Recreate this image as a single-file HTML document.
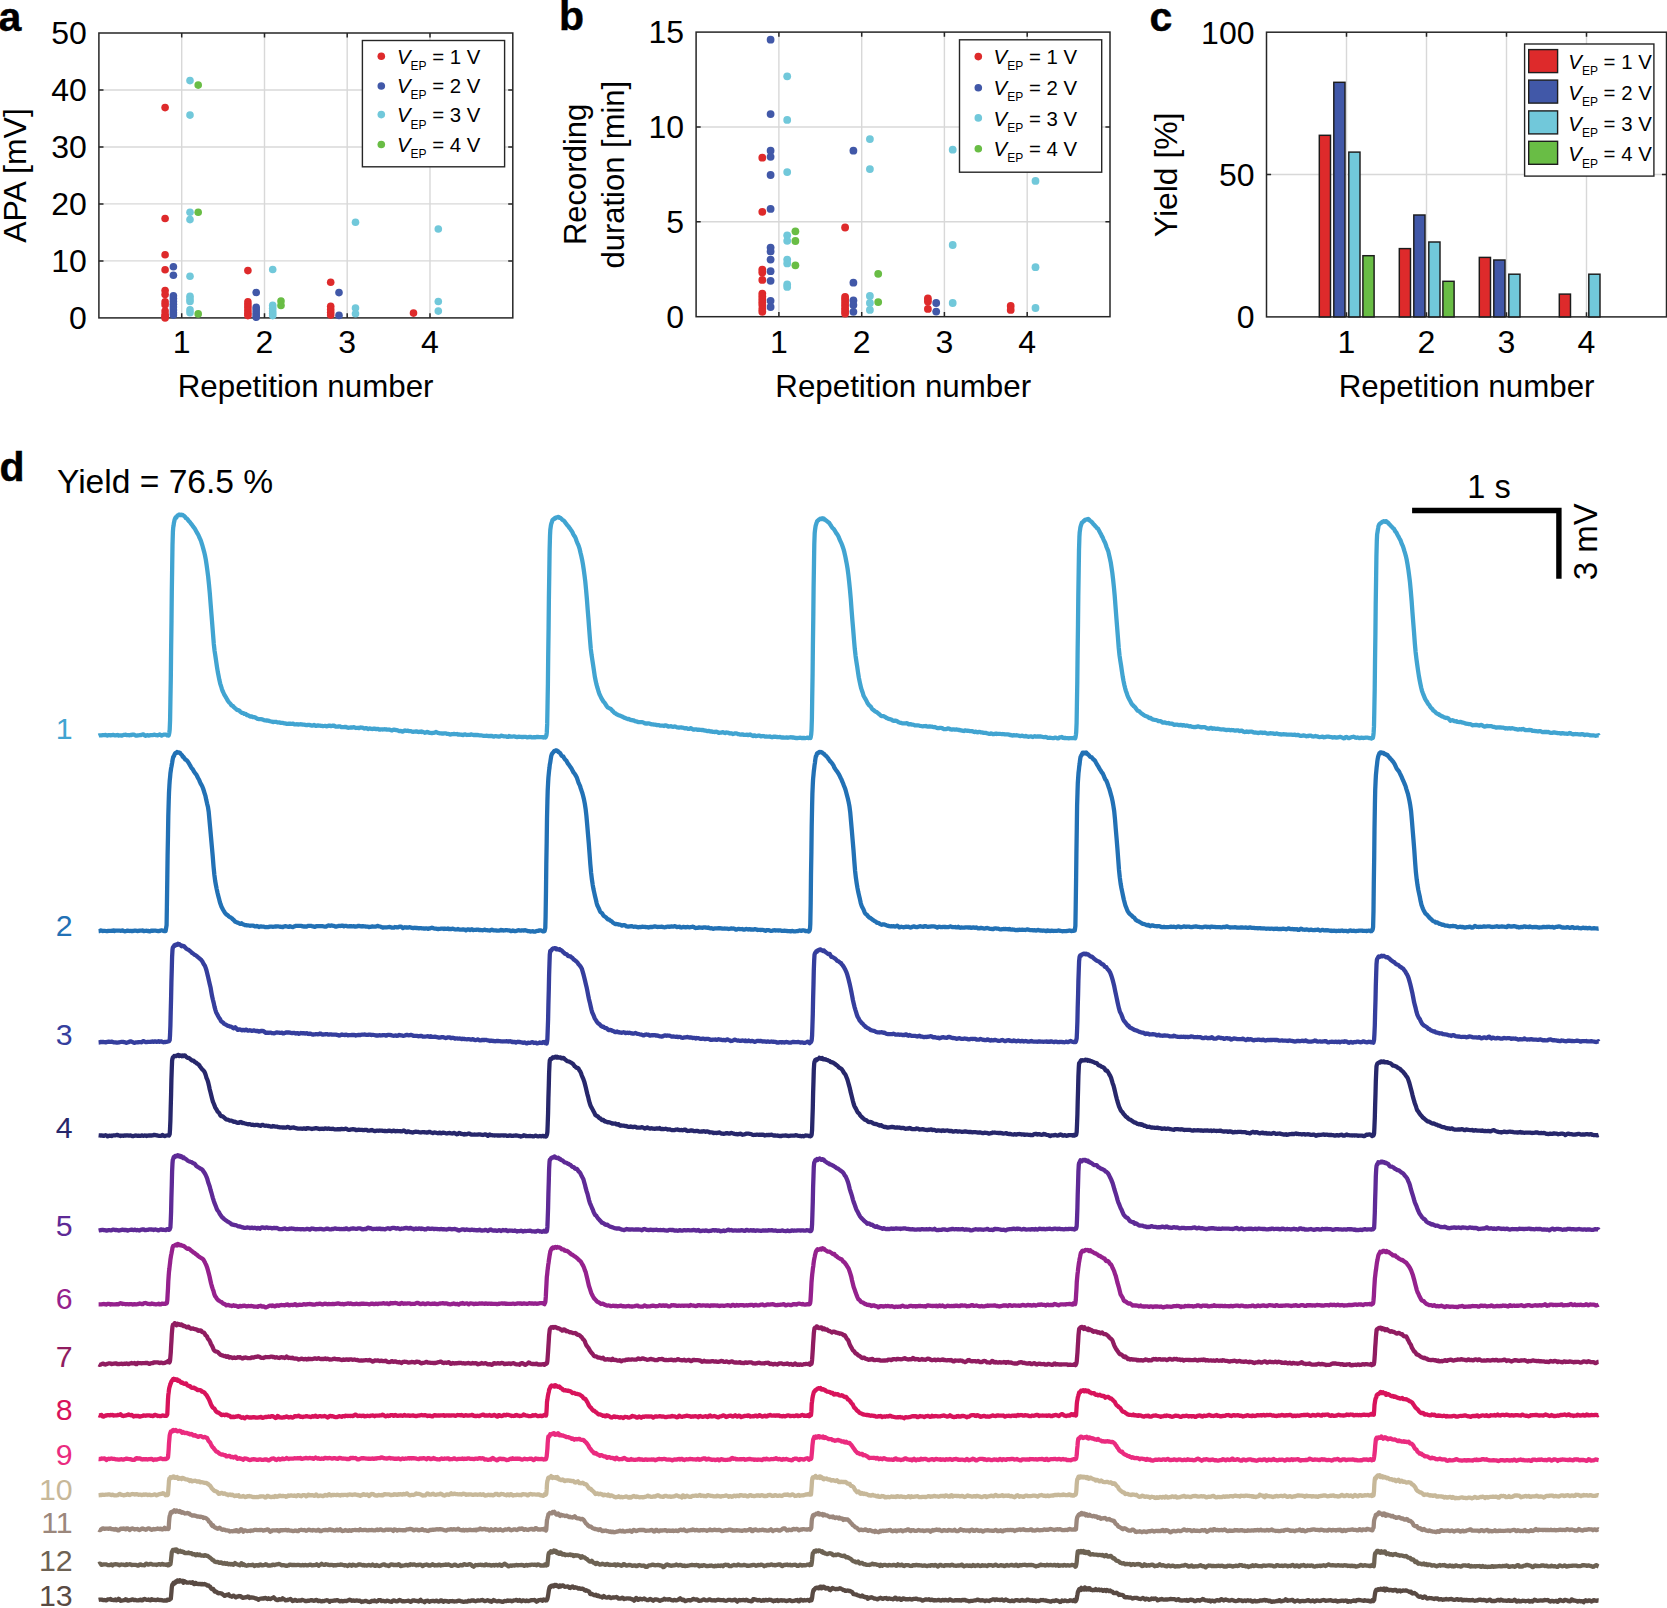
<!DOCTYPE html>
<html lang="en">
<head>
<meta charset="utf-8">
<title>Figure: electroporation repetition statistics and intracellular traces</title>
<style>
html,body{margin:0;padding:0;background:#fff;}
body{width:1667px;height:1608px;overflow:hidden;}
svg{display:block;}
text{white-space:pre;}
</style>
</head>
<body>
<svg width="1667" height="1608" viewBox="0 0 1667 1608">
<rect x="0" y="0" width="1667" height="1608" fill="#fff"/>
<g>
<line x1="181.7" y1="33" x2="181.7" y2="317.9" stroke="#d8d8d8" stroke-width="1.4"/>
<line x1="264.5" y1="33" x2="264.5" y2="317.9" stroke="#d8d8d8" stroke-width="1.4"/>
<line x1="347.2" y1="33" x2="347.2" y2="317.9" stroke="#d8d8d8" stroke-width="1.4"/>
<line x1="430" y1="33" x2="430" y2="317.9" stroke="#d8d8d8" stroke-width="1.4"/>
<line x1="98.9" y1="260.9" x2="512.8" y2="260.9" stroke="#d8d8d8" stroke-width="1.4"/>
<line x1="98.9" y1="203.9" x2="512.8" y2="203.9" stroke="#d8d8d8" stroke-width="1.4"/>
<line x1="98.9" y1="147" x2="512.8" y2="147" stroke="#d8d8d8" stroke-width="1.4"/>
<line x1="98.9" y1="90" x2="512.8" y2="90" stroke="#d8d8d8" stroke-width="1.4"/>
</g>
<g stroke="#262626" stroke-width="1.5" fill="none">
<rect x="98.9" y="33" width="413.9" height="284.9"/>
<path d="M181.7 317.9v-4.6 M181.7 33v4.6"/>
<path d="M264.5 317.9v-4.6 M264.5 33v4.6"/>
<path d="M347.2 317.9v-4.6 M347.2 33v4.6"/>
<path d="M430 317.9v-4.6 M430 33v4.6"/>
<path d="M98.9 260.9h4.6 M512.8 260.9h-4.6"/>
<path d="M98.9 203.9h4.6 M512.8 203.9h-4.6"/>
<path d="M98.9 147h4.6 M512.8 147h-4.6"/>
<path d="M98.9 90h4.6 M512.8 90h-4.6"/>
</g>
<g fill="#de2a2b">
<circle cx="165.1" cy="107.6" r="3.8"/>
<circle cx="165.1" cy="218.5" r="3.8"/>
<circle cx="165.1" cy="254.7" r="3.8"/>
<circle cx="165.1" cy="269.7" r="3.8"/>
<circle cx="165.1" cy="290.5" r="3.8"/>
<circle cx="165.1" cy="294.5" r="3.8"/>
<circle cx="165.1" cy="301.9" r="3.8"/>
<circle cx="165.1" cy="304.8" r="3.8"/>
<circle cx="165.1" cy="311.1" r="3.8"/>
<circle cx="165.1" cy="314.5" r="3.8"/>
<circle cx="165.1" cy="316.2" r="3.8"/>
<circle cx="165.1" cy="317.9" r="3.8"/>
<circle cx="247.9" cy="270.6" r="3.8"/>
<circle cx="247.9" cy="301.9" r="3.8"/>
<circle cx="247.9" cy="304.8" r="3.8"/>
<circle cx="247.9" cy="307.6" r="3.8"/>
<circle cx="247.9" cy="310.5" r="3.8"/>
<circle cx="247.9" cy="313.3" r="3.8"/>
<circle cx="247.9" cy="315.6" r="3.8"/>
<circle cx="330.7" cy="282.3" r="3.8"/>
<circle cx="330.7" cy="306.2" r="3.8"/>
<circle cx="330.7" cy="309.4" r="3.8"/>
<circle cx="330.7" cy="312.2" r="3.8"/>
<circle cx="330.7" cy="315.1" r="3.8"/>
<circle cx="413.5" cy="313.1" r="3.8"/>
</g>
<g fill="#4158a8">
<circle cx="173.4" cy="266.8" r="3.8"/>
<circle cx="173.4" cy="275.2" r="3.8"/>
<circle cx="173.4" cy="295.7" r="3.8"/>
<circle cx="173.4" cy="298.5" r="3.8"/>
<circle cx="173.4" cy="301.4" r="3.8"/>
<circle cx="173.4" cy="304.2" r="3.8"/>
<circle cx="173.4" cy="307.1" r="3.8"/>
<circle cx="173.4" cy="309.9" r="3.8"/>
<circle cx="173.4" cy="312.8" r="3.8"/>
<circle cx="173.4" cy="315.1" r="3.8"/>
<circle cx="256.2" cy="292.5" r="3.8"/>
<circle cx="256.2" cy="307.4" r="3.8"/>
<circle cx="256.2" cy="309.9" r="3.8"/>
<circle cx="256.2" cy="312.8" r="3.8"/>
<circle cx="256.2" cy="315.1" r="3.8"/>
<circle cx="256.2" cy="317.3" r="3.8"/>
<circle cx="339" cy="292.6" r="3.8"/>
<circle cx="339" cy="315.4" r="3.8"/>
</g>
<g fill="#71c8da">
<circle cx="190" cy="80.6" r="3.8"/>
<circle cx="190" cy="115.1" r="3.8"/>
<circle cx="190" cy="212.2" r="3.8"/>
<circle cx="190" cy="219.6" r="3.8"/>
<circle cx="190" cy="276.3" r="3.8"/>
<circle cx="190" cy="296.2" r="3.8"/>
<circle cx="190" cy="299.1" r="3.8"/>
<circle cx="190" cy="301.4" r="3.8"/>
<circle cx="190" cy="309.9" r="3.8"/>
<circle cx="190" cy="312.8" r="3.8"/>
<circle cx="272.7" cy="269.5" r="3.8"/>
<circle cx="272.7" cy="305.4" r="3.8"/>
<circle cx="272.7" cy="308.2" r="3.8"/>
<circle cx="272.7" cy="311.1" r="3.8"/>
<circle cx="272.7" cy="313.3" r="3.8"/>
<circle cx="272.7" cy="315.6" r="3.8"/>
<circle cx="355.5" cy="222.2" r="3.8"/>
<circle cx="355.5" cy="308.1" r="3.8"/>
<circle cx="355.5" cy="313.7" r="3.8"/>
<circle cx="438.3" cy="229" r="3.8"/>
<circle cx="438.3" cy="301.5" r="3.8"/>
<circle cx="438.3" cy="311.1" r="3.8"/>
</g>
<g fill="#69bd45">
<circle cx="198.2" cy="85.1" r="3.8"/>
<circle cx="198.2" cy="212.2" r="3.8"/>
<circle cx="198.2" cy="313.9" r="3.8"/>
<circle cx="281" cy="301.1" r="3.8"/>
<circle cx="281" cy="305.4" r="3.8"/>
</g>
<rect x="362.4" y="40.5" width="142.2" height="126.3" fill="#fff" stroke="#262626" stroke-width="1.4"/>
<circle cx="381.3" cy="56.3" r="3.8" fill="#de2a2b"/>
<text x="397" y="63.6" font-family='"Liberation Sans", Arial, Helvetica, sans-serif' font-size="20.4" fill="#000"><tspan font-style="italic">V</tspan><tspan font-size="12" dy="6.2">EP</tspan><tspan dy="-6.2"> = 1 V</tspan></text>
<circle cx="381.3" cy="86" r="3.8" fill="#4158a8"/>
<text x="397" y="93" font-family='"Liberation Sans", Arial, Helvetica, sans-serif' font-size="20.4" fill="#000"><tspan font-style="italic">V</tspan><tspan font-size="12" dy="6.2">EP</tspan><tspan dy="-6.2"> = 2 V</tspan></text>
<circle cx="381.3" cy="114.6" r="3.8" fill="#71c8da"/>
<text x="397" y="122.3" font-family='"Liberation Sans", Arial, Helvetica, sans-serif' font-size="20.4" fill="#000"><tspan font-style="italic">V</tspan><tspan font-size="12" dy="6.2">EP</tspan><tspan dy="-6.2"> = 3 V</tspan></text>
<circle cx="381.3" cy="144.5" r="3.8" fill="#69bd45"/>
<text x="397" y="152" font-family='"Liberation Sans", Arial, Helvetica, sans-serif' font-size="20.4" fill="#000"><tspan font-style="italic">V</tspan><tspan font-size="12" dy="6.2">EP</tspan><tspan dy="-6.2"> = 4 V</tspan></text>
<g font-family='"Liberation Sans", Arial, Helvetica, sans-serif' font-size="32" fill="#000">
<text x="181.7" y="353.1" text-anchor="middle">1</text>
<text x="264.5" y="353.1" text-anchor="middle">2</text>
<text x="347.2" y="353.1" text-anchor="middle">3</text>
<text x="430" y="353.1" text-anchor="middle">4</text>
<text x="86.9" y="329.2" text-anchor="end">0</text>
<text x="86.9" y="272.2" text-anchor="end">10</text>
<text x="86.9" y="215.2" text-anchor="end">20</text>
<text x="86.9" y="158.3" text-anchor="end">30</text>
<text x="86.9" y="101.3" text-anchor="end">40</text>
<text x="86.9" y="44.3" text-anchor="end">50</text>
</g>
<text x="305.6" y="397.3" text-anchor="middle" font-family='"Liberation Sans", Arial, Helvetica, sans-serif' font-size="31.3" fill="#000">Repetition number</text>
<text transform="translate(26.2 175.5) rotate(-90)" text-anchor="middle" font-family='"Liberation Sans", Arial, Helvetica, sans-serif' font-size="32" fill="#000">APA [mV]</text>
<text x="-1.5" y="30.6" font-family='"Liberation Sans", Arial, Helvetica, sans-serif' font-size="41" font-weight="bold" fill="#000" stroke="#000" stroke-width="0.45">a</text>
<g>
<line x1="778.9" y1="32.1" x2="778.9" y2="316.7" stroke="#d8d8d8" stroke-width="1.4"/>
<line x1="861.7" y1="32.1" x2="861.7" y2="316.7" stroke="#d8d8d8" stroke-width="1.4"/>
<line x1="944.4" y1="32.1" x2="944.4" y2="316.7" stroke="#d8d8d8" stroke-width="1.4"/>
<line x1="1027.2" y1="32.1" x2="1027.2" y2="316.7" stroke="#d8d8d8" stroke-width="1.4"/>
<line x1="696.1" y1="221.8" x2="1110" y2="221.8" stroke="#d8d8d8" stroke-width="1.4"/>
<line x1="696.1" y1="127" x2="1110" y2="127" stroke="#d8d8d8" stroke-width="1.4"/>
</g>
<g stroke="#262626" stroke-width="1.5" fill="none">
<rect x="696.1" y="32.1" width="413.9" height="284.6"/>
<path d="M778.9 316.7v-4.6 M778.9 32.1v4.6"/>
<path d="M861.7 316.7v-4.6 M861.7 32.1v4.6"/>
<path d="M944.4 316.7v-4.6 M944.4 32.1v4.6"/>
<path d="M1027.2 316.7v-4.6 M1027.2 32.1v4.6"/>
<path d="M696.1 221.8h4.6 M1110 221.8h-4.6"/>
<path d="M696.1 127h4.6 M1110 127h-4.6"/>
</g>
<g fill="#de2a2b">
<circle cx="762.3" cy="157.7" r="3.9"/>
<circle cx="762.3" cy="211.8" r="3.9"/>
<circle cx="762.3" cy="269.6" r="3.9"/>
<circle cx="762.3" cy="272.5" r="3.9"/>
<circle cx="762.3" cy="279.9" r="3.9"/>
<circle cx="762.3" cy="293.6" r="3.9"/>
<circle cx="762.3" cy="296.4" r="3.9"/>
<circle cx="762.3" cy="299.4" r="3.9"/>
<circle cx="762.3" cy="302.3" r="3.9"/>
<circle cx="762.3" cy="305.1" r="3.9"/>
<circle cx="762.3" cy="308.9" r="3.9"/>
<circle cx="762.3" cy="311.8" r="3.9"/>
<circle cx="845.1" cy="227.5" r="3.9"/>
<circle cx="845.1" cy="297" r="3.9"/>
<circle cx="845.1" cy="299.6" r="3.9"/>
<circle cx="845.1" cy="302.5" r="3.9"/>
<circle cx="845.1" cy="305.3" r="3.9"/>
<circle cx="845.1" cy="308.2" r="3.9"/>
<circle cx="845.1" cy="311" r="3.9"/>
<circle cx="845.1" cy="313.5" r="3.9"/>
<circle cx="927.9" cy="298.5" r="3.9"/>
<circle cx="927.9" cy="301.5" r="3.9"/>
<circle cx="927.9" cy="308.9" r="3.9"/>
<circle cx="1010.7" cy="305.9" r="3.9"/>
<circle cx="1010.7" cy="309.9" r="3.9"/>
</g>
<g fill="#4158a8">
<circle cx="770.6" cy="39.7" r="3.9"/>
<circle cx="770.6" cy="114.1" r="3.9"/>
<circle cx="770.6" cy="150.7" r="3.9"/>
<circle cx="770.6" cy="156.8" r="3.9"/>
<circle cx="770.6" cy="175" r="3.9"/>
<circle cx="770.6" cy="208.9" r="3.9"/>
<circle cx="770.6" cy="247.6" r="3.9"/>
<circle cx="770.6" cy="251.4" r="3.9"/>
<circle cx="770.6" cy="259.6" r="3.9"/>
<circle cx="770.6" cy="271.2" r="3.9"/>
<circle cx="770.6" cy="280.8" r="3.9"/>
<circle cx="770.6" cy="300.8" r="3.9"/>
<circle cx="770.6" cy="307" r="3.9"/>
<circle cx="853.4" cy="150.7" r="3.9"/>
<circle cx="853.4" cy="282.7" r="3.9"/>
<circle cx="853.4" cy="300.4" r="3.9"/>
<circle cx="853.4" cy="305.1" r="3.9"/>
<circle cx="853.4" cy="311.8" r="3.9"/>
<circle cx="936.2" cy="303" r="3.9"/>
<circle cx="936.2" cy="311.6" r="3.9"/>
</g>
<g fill="#71c8da">
<circle cx="787.2" cy="76.3" r="3.9"/>
<circle cx="787.2" cy="119.9" r="3.9"/>
<circle cx="787.2" cy="172.1" r="3.9"/>
<circle cx="787.2" cy="235.3" r="3.9"/>
<circle cx="787.2" cy="240.8" r="3.9"/>
<circle cx="787.2" cy="259.6" r="3.9"/>
<circle cx="787.2" cy="263.4" r="3.9"/>
<circle cx="787.2" cy="284.4" r="3.9"/>
<circle cx="787.2" cy="286.9" r="3.9"/>
<circle cx="869.9" cy="139.1" r="3.9"/>
<circle cx="869.9" cy="169.1" r="3.9"/>
<circle cx="869.9" cy="296" r="3.9"/>
<circle cx="869.9" cy="303" r="3.9"/>
<circle cx="869.9" cy="309.9" r="3.9"/>
<circle cx="952.7" cy="149.7" r="3.9"/>
<circle cx="952.7" cy="245" r="3.9"/>
<circle cx="952.7" cy="303" r="3.9"/>
<circle cx="1035.5" cy="180.9" r="3.9"/>
<circle cx="1035.5" cy="267.2" r="3.9"/>
<circle cx="1035.5" cy="308" r="3.9"/>
</g>
<g fill="#69bd45">
<circle cx="795.4" cy="231.3" r="3.9"/>
<circle cx="795.4" cy="241" r="3.9"/>
<circle cx="795.4" cy="265.3" r="3.9"/>
<circle cx="878.2" cy="273.8" r="3.9"/>
<circle cx="878.2" cy="302.1" r="3.9"/>
</g>
<rect x="959.5" y="39.8" width="142.2" height="132.4" fill="#fff" stroke="#262626" stroke-width="1.4"/>
<circle cx="978.3" cy="56.6" r="3.8" fill="#de2a2b"/>
<text x="993.6" y="64.2" font-family='"Liberation Sans", Arial, Helvetica, sans-serif' font-size="20.4" fill="#000"><tspan font-style="italic">V</tspan><tspan font-size="12" dy="6.2">EP</tspan><tspan dy="-6.2"> = 1 V</tspan></text>
<circle cx="978.3" cy="87.7" r="3.8" fill="#4158a8"/>
<text x="993.6" y="95" font-family='"Liberation Sans", Arial, Helvetica, sans-serif' font-size="20.4" fill="#000"><tspan font-style="italic">V</tspan><tspan font-size="12" dy="6.2">EP</tspan><tspan dy="-6.2"> = 2 V</tspan></text>
<circle cx="978.3" cy="117.9" r="3.8" fill="#71c8da"/>
<text x="993.6" y="125.6" font-family='"Liberation Sans", Arial, Helvetica, sans-serif' font-size="20.4" fill="#000"><tspan font-style="italic">V</tspan><tspan font-size="12" dy="6.2">EP</tspan><tspan dy="-6.2"> = 3 V</tspan></text>
<circle cx="978.3" cy="148.7" r="3.8" fill="#69bd45"/>
<text x="993.6" y="155.9" font-family='"Liberation Sans", Arial, Helvetica, sans-serif' font-size="20.4" fill="#000"><tspan font-style="italic">V</tspan><tspan font-size="12" dy="6.2">EP</tspan><tspan dy="-6.2"> = 4 V</tspan></text>
<g font-family='"Liberation Sans", Arial, Helvetica, sans-serif' font-size="32" fill="#000">
<text x="778.9" y="353.1" text-anchor="middle">1</text>
<text x="861.7" y="353.1" text-anchor="middle">2</text>
<text x="944.4" y="353.1" text-anchor="middle">3</text>
<text x="1027.2" y="353.1" text-anchor="middle">4</text>
<text x="684.1" y="328" text-anchor="end">0</text>
<text x="684.1" y="233.1" text-anchor="end">5</text>
<text x="684.1" y="138.3" text-anchor="end">10</text>
<text x="684.1" y="43.4" text-anchor="end">15</text>
</g>
<text x="903.2" y="397.3" text-anchor="middle" font-family='"Liberation Sans", Arial, Helvetica, sans-serif' font-size="31.3" fill="#000">Repetition number</text>
<text transform="translate(586 174.4) rotate(-90)" text-anchor="middle" font-family='"Liberation Sans", Arial, Helvetica, sans-serif' font-size="31.0" fill="#000">Recording</text>
<text transform="translate(623.6 174.7) rotate(-90)" text-anchor="middle" font-family='"Liberation Sans", Arial, Helvetica, sans-serif' font-size="31.0" fill="#000">duration [min]</text>
<text x="559" y="30.4" font-family='"Liberation Sans", Arial, Helvetica, sans-serif' font-size="41" font-weight="bold" fill="#000" stroke="#000" stroke-width="0.45">b</text>
<g>
<line x1="1346.5" y1="32.2" x2="1346.5" y2="316.9" stroke="#d8d8d8" stroke-width="1.4"/>
<line x1="1426.5" y1="32.2" x2="1426.5" y2="316.9" stroke="#d8d8d8" stroke-width="1.4"/>
<line x1="1506.5" y1="32.2" x2="1506.5" y2="316.9" stroke="#d8d8d8" stroke-width="1.4"/>
<line x1="1586.5" y1="32.2" x2="1586.5" y2="316.9" stroke="#d8d8d8" stroke-width="1.4"/>
<line x1="1266.5" y1="174.5" x2="1666.5" y2="174.5" stroke="#d8d8d8" stroke-width="1.4"/>
</g>
<g stroke="#262626" stroke-width="1.5" fill="none">
<rect x="1266.5" y="32.2" width="400" height="284.7"/>
<path d="M1346.5 316.9v-4.6 M1346.5 32.2v4.6"/>
<path d="M1426.5 316.9v-4.6 M1426.5 32.2v4.6"/>
<path d="M1506.5 316.9v-4.6 M1506.5 32.2v4.6"/>
<path d="M1586.5 316.9v-4.6 M1586.5 32.2v4.6"/>
<path d="M1266.5 174.5h4.6 M1666.5 174.5h-4.6"/>
</g>
<g stroke="#1c1c1c" stroke-width="1.45">
<rect x="1319.3" y="135.3" width="11.2" height="181.6" fill="#de2a2b"/>
<rect x="1333.8" y="82.3" width="11.2" height="234.6" fill="#4158a8"/>
<rect x="1348.8" y="152.1" width="11.2" height="164.8" fill="#71c8da"/>
<rect x="1362.9" y="255.7" width="11.2" height="61.2" fill="#69bd45"/>
<rect x="1399.3" y="248.6" width="11.2" height="68.3" fill="#de2a2b"/>
<rect x="1413.8" y="215" width="11.2" height="101.9" fill="#4158a8"/>
<rect x="1428.8" y="242" width="11.2" height="74.9" fill="#71c8da"/>
<rect x="1442.9" y="281.3" width="11.2" height="35.6" fill="#69bd45"/>
<rect x="1479.3" y="257.4" width="11.2" height="59.5" fill="#de2a2b"/>
<rect x="1493.8" y="260" width="11.2" height="56.9" fill="#4158a8"/>
<rect x="1508.8" y="274.2" width="11.2" height="42.7" fill="#71c8da"/>
<rect x="1559.3" y="294.1" width="11.2" height="22.8" fill="#de2a2b"/>
<rect x="1588.8" y="274.2" width="11.2" height="42.7" fill="#71c8da"/>
</g>
<rect x="1524.6" y="44" width="129.3" height="132.1" fill="#fff" stroke="#262626" stroke-width="1.4"/>
<rect x="1528.7" y="49.6" width="28.9" height="23.0" fill="#de2a2b" stroke="#1e1e1e" stroke-width="1.4"/>
<text x="1568.3" y="69.1" font-family='"Liberation Sans", Arial, Helvetica, sans-serif' font-size="20.4" fill="#000"><tspan font-style="italic">V</tspan><tspan font-size="12" dy="6.2">EP</tspan><tspan dy="-6.2"> = 1 V</tspan></text>
<rect x="1528.7" y="80.1" width="28.9" height="23.0" fill="#4158a8" stroke="#1e1e1e" stroke-width="1.4"/>
<text x="1568.3" y="99.8" font-family='"Liberation Sans", Arial, Helvetica, sans-serif' font-size="20.4" fill="#000"><tspan font-style="italic">V</tspan><tspan font-size="12" dy="6.2">EP</tspan><tspan dy="-6.2"> = 2 V</tspan></text>
<rect x="1528.7" y="110.9" width="28.9" height="23.0" fill="#71c8da" stroke="#1e1e1e" stroke-width="1.4"/>
<text x="1568.3" y="130.6" font-family='"Liberation Sans", Arial, Helvetica, sans-serif' font-size="20.4" fill="#000"><tspan font-style="italic">V</tspan><tspan font-size="12" dy="6.2">EP</tspan><tspan dy="-6.2"> = 3 V</tspan></text>
<rect x="1528.7" y="141.3" width="28.9" height="23.0" fill="#69bd45" stroke="#1e1e1e" stroke-width="1.4"/>
<text x="1568.3" y="161.3" font-family='"Liberation Sans", Arial, Helvetica, sans-serif' font-size="20.4" fill="#000"><tspan font-style="italic">V</tspan><tspan font-size="12" dy="6.2">EP</tspan><tspan dy="-6.2"> = 4 V</tspan></text>
<g font-family='"Liberation Sans", Arial, Helvetica, sans-serif' font-size="32" fill="#000">
<text x="1346.5" y="353.1" text-anchor="middle">1</text>
<text x="1426.5" y="353.1" text-anchor="middle">2</text>
<text x="1506.5" y="353.1" text-anchor="middle">3</text>
<text x="1586.5" y="353.1" text-anchor="middle">4</text>
<text x="1254.5" y="328.2" text-anchor="end">0</text>
<text x="1254.5" y="185.8" text-anchor="end">50</text>
<text x="1254.5" y="43.5" text-anchor="end">100</text>
</g>
<text x="1466.6" y="397.3" text-anchor="middle" font-family='"Liberation Sans", Arial, Helvetica, sans-serif' font-size="31.3" fill="#000">Repetition number</text>
<text transform="translate(1177.2 174.8) rotate(-90)" text-anchor="middle" font-family='"Liberation Sans", Arial, Helvetica, sans-serif' font-size="31.9" fill="#000">Yield [%]</text>
<text x="1149.5" y="30.6" font-family='"Liberation Sans", Arial, Helvetica, sans-serif' font-size="41" font-weight="bold" fill="#000" stroke="#000" stroke-width="0.45">c</text>
<text x="-0.5" y="481" font-family='"Liberation Sans", Arial, Helvetica, sans-serif' font-size="41" font-weight="bold" fill="#000" stroke="#000" stroke-width="0.45">d</text>
<text x="57.0" y="493.3" font-family='"Liberation Sans", Arial, Helvetica, sans-serif' font-size="33.6" fill="#000">Yield = 76.5 %</text>
<path d="M1412.1 510.55H1558.9V578.8" fill="none" stroke="#000" stroke-width="5.4" stroke-linejoin="miter"/>
<text x="1489.0" y="497.8" text-anchor="middle" font-family='"Liberation Sans", Arial, Helvetica, sans-serif' font-size="32.5" fill="#000">1 s</text>
<text transform="translate(1597.2 580.2) rotate(-90)" text-anchor="start" font-family='"Liberation Sans", Arial, Helvetica, sans-serif' font-size="33" fill="#000">3 mV</text>
<g fill="none" stroke-width="4.3" stroke-linejoin="round" stroke-linecap="butt">
<path stroke="#41a4d1" d="M98.6 735.7l1-.4l1 0l1 0l1-.2l1 .1l1-.1l1-.2l1 .5l1 .1l1-.4l1 .1l1 .2l1-.2l1-.2l1-.1l1 .4l1 .1l1-.2l1-.2l1 .5l1-.1l1-.1l1 .4l1-.4l1-.5l1 0l1-.1l1 .5l1-.1l1 0l1 .2l1-.4l1 .1l1-.4l1 .1l1 .2l1 .7l1 .1l1-.4l1 0l1-.1l1 0l1-.4l1-.3l1 0l1 .8l1 .5l1-.4l1-.2l1 .4l1-.2l1-.2l1 0l1-.1l1-.2l1-.2l1 .4l1 .1l1 .2l1-.5l1-.4l1 .5l1 .5l1-.5l1-.3l1-.1l1 0l1 .2l.3 0l.4 .5l.3-.2l.4 0l.3 .4l.4 0l.3-1.2l.4-2.0l.3-2.7l.4-9.7l.3-18.1l.4-23.5l.3-27.7l.4-29.7l.3-29.2l.4-25.9l.3-20.8l.4-13.2l.3-4.1l.4-2.3l.3-2.4l.4-1.8l.3-1.4l.4-1.1l.3-.7l.4-.6l.3-.1l.4 .2l.3-.6l.4-.8l.3-.5l.4-.3l.3 .1l.4-.3l.3-.4l.4 .1l.3-.1l.4 .3l.3-.1l.4 .1l.3-.4l.4 0l.3 .3l.4 .3l.3 0l.4-.3l.3 .4l.4 .3l.8 .4l.8 .8l.8 1.2l.8 .4l.8 .7l.8 1.2l.8 .9l.8 .8l.8 1.1l.8 1.0l.8 1.0l.8 1.3l.8 1.0l.8 1.0l.8 1.4l.8 1.5l.8 1.5l.8 1.2l.8 1.5l.8 2.0l.8 1.6l.8 1.9l.8 2.7l.8 2.5l.8 2.9l.8 3.0l.8 3.4l.8 4.2l.8 5.2l.8 5.8l.8 6.3l.8 7.7l.8 8.6l.8 10.4l.8 10.0l.8 9.9l.8 10.2l.8 10.1l.8 7.1l.8 5.1l.8 5.5l.8 5.5l.8 4.9l.8 4.0l.8 4.1l.8 3.5l.8 2.4l.8 2.7l.8 2.3l.8 1.7l.8 1.8l.8 1.2l.8 1.4l.8 1.4l.8 1.5l.8 1.2l.8 1.1l.8 .7l.8 1.0l.8 1.2l.8 .6l.8 .3l.8 1.0l.8 .6l.8 .8l.8 .7l.8 .7l.8 .2l.8 0l.8 .6l.8 1.0l.8 .5l.8 .6l.8 .2l.8 .2l.8 .7l.8-.1l1 .3l1 1.1l1-.1l1 .8l1 .6l1 0l1 0l1 .7l1-.1l1 .2l1 .6l1 .7l1 .3l1 .2l1 0l1 .1l1 .1l1 .4l1 .5l1 .1l1 .2l1 0l1 .1l1 .3l1 .3l1 .3l1 .2l1 .4l1-.2l1-.1l1 0l1 .4l1 .3l1-.2l1 .3l1 .3l1-.1l1 .1l1 .4l1 .1l1 .2l1 .3l1 0l1-.3l1 0l1 .3l1-.1l1-.2l1 .7l1 0l1 0l1-.1l1 .4l1-.2l1-.1l1-.1l1 .3l1 .1l1 .1l1 .2l1 .1l1 .2l1-.3l1-.1l1 .3l1 .3l1 .3l1-.3l1-.4l1 .5l1 .4l1-.3l1-.2l1 .2l1 0l1 .2l1 .1l1 .3l1-.2l1-.2l1 .3l1 .2l1-.4l1-.2l1-.1l1 .6l1-.2l1-.4l1 .1l1 .6l1 .4l1-.1l1 0l1-.3l1 .1l1 .6l1 .1l1 0l1 .1l1-.3l1 .1l1 .5l1 .3l1-.2l1 .1l1-.3l1 .1l1-.1l1-.2l1 .5l1 .3l1-.2l1 .1l1 .3l1-.6l1-.1l1 .2l1 .2l1 .6l1-.1l1-.3l1 .3l1 .7l1-.5l1-.2l1 .4l1 .2l1-.1l1-.3l1 0l1 .5l1-.1l1-.2l1 .7l1 .1l1-.3l1 .1l1 .1l1-.2l1-.1l1 .3l1 0l1 .2l1-.2l1 .3l1 .4l1 .3l1-.6l1-.2l1 .2l1 .1l1 .2l1 .4l1 .4l1 .1l1-.2l1 .7l1 0l1-.8l1-.4l1 .4l1 .1l1-.3l1 .5l1 .1l1 0l1 .5l1 .1l1-.2l1 0l1-.1l1 0l1 .4l1 .1l1-.3l1-.2l1 .5l1-.2l1 .5l1 .5l1-.3l1-.5l1 .1l1 .7l1 0l1 .2l1 .1l1-.2l1-.1l1-.4l1-.4l1 .4l1 .6l1 .2l1 .2l1 0l1 .1l1 .1l1-.2l1-.1l1 0l1 .5l1 .1l1 .2l1 .4l1-.1l1-.2l1 0l1-.3l1 .3l1 0l1-.2l1 .5l1-.1l1 .2l1 0l1 .3l1 .1l1-.5l1-.2l1 .4l1 .3l1-.2l1 0l1 .1l1-.6l1 .3l1 .2l1 .3l1-.1l1-.1l1 .2l1-.1l1 .3l1 0l1 0l1 .2l1 .3l1 0l1 .1l1 0l1-.2l1 .3l1 .1l1-.1l1-.1l1 .1l1 .4l1 .3l1-.5l1 0l1 .1l1 .2l1 .1l1-.2l1-.7l1 .2l1 .2l1 .2l1 0l1 .1l1 .5l1 0l1-.9l1 .4l1 .3l1 0l1-.2l1-.2l1 .2l1 .5l1 .2l1-.3l1-.2l1 .1l1 .1l1 .2l1-.1l1-.1l1 0l1-.1l1 .5l1 0l1-.4l1 .1l1 0l1 .4l1 0l1-.2l1 .2l1-.3l1-.2l1 .1l1 .1l1 0l1 0l1 0l1 .3l1 .1l.4-.5l.3-.2l.4 .6l.3 .1l.4-.4l.3-.8l.4-1.4l.3-2.5l.4-8.5l.3-16.5l.4-23.3l.3-27.5l.4-29.2l.3-29.3l.4-26.1l.3-21.3l.4-14.8l.3-6.0l.4-2.9l.3-2.1l.4-1.6l.3-.7l.4-1.3l.3-1.0l.4-.6l.3-.3l.4-.2l.3-.3l.4 .1l.3-.6l.4-.4l.3 .1l.4 .2l.3-.3l.4-.5l.3-.1l.4 0l.3 0l.4-.2l.3-.3l.4 0l.3 .3l.4 .1l.3 .6l.4-.1l.3-.1l.4 .3l.8 .6l.8 .9l.8 .8l.8 .3l.8 .7l.8 1.4l.8 1.0l.8 1.0l.8 .9l.8 .9l.8 1.2l.8 .9l.8 1.3l.8 1.1l.8 1.4l.8 1.9l.8 1.4l.8 1.0l.8 1.7l.8 2.3l.8 2.1l.8 1.7l.8 2.1l.8 2.6l.8 3.6l.8 3.2l.8 3.7l.8 4.5l.8 5.2l.8 5.8l.8 6.6l.8 8.3l.8 9.2l.8 10.6l.8 9.6l.7 9.6l.8 10.5l.8 9.4l.8 6.2l.8 5.1l.8 5.3l.8 5.4l.8 5.5l.8 4.0l.8 3.6l.8 2.9l.8 2.6l.8 2.7l.8 2.3l.8 1.5l.8 1.6l.8 1.6l.8 1.2l.8 1.3l.8 .8l.8 1.1l.8 1.3l.8 1.2l.8 1.1l.8 .4l.8 .5l.8 .4l.8 .4l.8 .8l.8 1.1l.8 .5l.8 1.1l.8 .7l.8 .2l.8 .7l.8 .4l.8 .4l.8 .3l.8 .4l.8 .1l.8 .5l.8 .3l1 .5l1 .6l1 .3l1 .4l1 .5l1 .3l1-.1l1 .7l1 .3l1 .1l1 .3l1 .1l1 .7l1 .1l1 .3l1 .4l1 .1l1 .1l1-.1l1 .1l1 .1l1 .5l1 .6l1 .1l1 .1l1-.3l1 .1l1 .4l1 .4l1 .2l1 0l1 .2l1 0l1 .2l1 .4l1-.2l1 .2l1 .5l1-.1l1 0l1 .1l1 .3l1-.7l1 .1l1 .4l1 .8l1-.1l1-.2l1-.1l1 .5l1 .1l1-.2l1-.1l1 .3l1 .5l1 .2l1 .1l1-.1l1-.2l1 .4l1 0l1 .4l1 .2l1-.2l1 .2l1 .5l1 .1l1-.4l1-.4l1 .8l1 .6l1 .1l1-.3l1 0l1 .3l1 .3l1-.2l1 .1l1 .1l1 .2l1-.1l1 .4l1 .1l1 .2l1 .4l1 .1l1-.4l1 .6l1 .1l1 0l1 .4l1 0l1 .2l1-.4l1 .1l1 .7l1 .4l1-.2l1 0l1-.3l1-.2l1 .5l1 .4l1-.6l1 .1l1 0l1 .6l1 .3l1-.3l1 .3l1 .5l1-.3l1-.3l1-.1l1 .2l1 .6l1 .1l1 .4l1 .1l1-.3l1 .1l1 .4l1 0l1-.1l1-.2l1 .5l1-.3l1-.3l1 .5l1 .6l1 .4l1-.5l1-.1l1 .8l1-.2l1-.3l1-.2l1 .3l1 .6l1-.2l1-.2l1 .2l1 .5l1-.2l1 .1l1 .1l1-.1l1-.1l1 .5l1 .3l1-.4l1-.3l1 0l1 .3l1 .1l1 .1l1 0l1-.2l1 .5l1 .1l1-.1l1 .2l1 .1l1-.2l1-.1l1 .4l1-.3l1-.2l1-.1l1 .3l1-.1l1 .2l1 .3l1 .1l1 .1l1-.1l1-.2l1-.1l1 .1l1 .3l1-.1l1-.1l1 .3l1-.2l1-.3l1-.1l.4 .4l.3 .1l.4-.1l.3-.2l.4-.1l.3 .2l.4 .1l.3-1.3l.4-2.3l.3-3.7l.4-11.8l.3-19.8l.4-25.4l.3-28.2l.4-29.3l.3-28.3l.4-24.9l.3-19.0l.4-10.8l.3-3.0l.4-2.8l.3-1.8l.4-1.3l.3-1.0l.4-1.1l.3-.9l.4-.5l.3-.2l.4-.1l.3-.3l.4-.5l.3-.4l.4 0l.3-.1l.4-.5l.3 .1l.4 .3l.3-.4l.4-.3l.3 .1l.4-.2l.3 .2l.4 .6l.3 0l.4-.6l.3 .6l.4 .5l.3-.2l.4 .3l.8 .8l.8 .4l.8 .8l.8 .7l.8 .5l.8 1.3l.8 1.1l.8 1.3l.8 1.2l.8 .7l.8 .8l.8 1.3l.8 1.4l.8 1.4l.8 .9l.8 1.3l.8 1.6l.8 2.2l.8 1.7l.8 1.7l.8 2.0l.8 2.2l.8 2.4l.8 3.0l.8 3.5l.8 4.1l.8 4.1l.8 4.8l.8 6.1l.8 7.2l.8 8.0l.8 9.2l.8 10.9l.8 10.2l.8 9.2l.8 10.1l.8 9.3l.8 7.0l.8 5.5l.8 5.1l.8 5.5l.8 5.2l.8 4.0l.8 3.6l.8 3.4l.8 2.3l.8 2.3l.8 2.8l.8 1.4l.8 1.4l.8 1.5l.8 1.5l.8 1.6l.8 1.2l.8 1.0l.8 .6l.8 .7l.8 1.4l.8 1.2l.8 .6l.8 .5l.8 .7l.8 .5l.8 .4l.8 .4l.8 .8l.8 .7l.8 .5l.8 .8l.8 .8l.8 .2l.8-.1l.8 .1l.8 .4l.8 .4l.8 .6l.8 .5l1 .4l1 .4l1 .3l1 .2l1 .4l1 .9l1 .1l1-.2l1 .1l1 .4l1 .6l1 .6l1 .3l1 .2l1 .3l1 .2l1 0l1 .1l1-.1l1-.2l1 .6l1 .7l1-.3l1 .1l1 .5l1 0l1 .1l1 .5l1 .1l1 0l1-.1l1 .2l1 .3l1 .2l1 .2l1 .1l1-.1l1 0l1-.2l1 .5l1 .2l1-.2l1-.1l1 .2l1 0l1 .4l1 .2l1-.2l1 .4l1 .5l1 .2l1 0l1-.2l1-.1l1 .2l1 .5l1 .6l1 0l1 .1l1-.2l1-.6l1 .2l1 .4l1 .5l1 .2l1-.4l1 .1l1 .3l1-.2l1 0l1 .2l1 .4l1-.1l1 .4l1 .1l1 .3l1 .2l1-.5l1 0l1 .3l1-.1l1 .1l1 .3l1 .1l1-.1l1 .3l1 .5l1 .1l1-.4l1 .6l1 .1l1-.5l1 0l1 .5l1 .1l1 .2l1 .3l1-.1l1 .1l1 .3l1 .3l1 .3l1 .1l1-.4l1 .1l1 .6l1-.1l1-.3l1-.2l1 .4l1-.2l1 0l1 0l1 .2l1 .2l1-.2l1 .2l1 .2l1-.1l1 0l1 .1l1 .2l1 .4l1 0l1 .4l1 .1l1-.4l1 .2l1 0l1-.1l1 .3l1 .2l1 .4l1 0l1-.4l1 .2l1 .4l1 0l1-.5l1 .6l1 .2l1 .2l1-.3l1-.2l1 .4l1 .3l1-.4l1-.4l1 .5l1-.2l1 0l1 0l1-.1l1 .1l1 .2l1 .3l1 .2l1-.1l1-.2l1 .4l1 .5l1 0l1-.1l1 .1l1 .2l1 .2l1 0l1-.5l1 0l1 .5l1 .2l1-.3l1-.8l1 0l1-.3l1 .8l1 .2l1-.1l1 .1l1 .2l1-.1l1 .2l1-.1l1 0l1 0l1-.2l1-.2l.3 .4l.4 0l.3-.1l.4 .2l.3-.9l.4-2.4l.3-2.7l.4-9.3l.3-17.7l.4-23.7l.3-27.8l.4-29.2l.3-28.4l.4-25.7l.3-20.4l.4-12.9l.3-5.0l.4-2.7l.3-2.2l.4-1.4l.3-1.0l.4-1.0l.3-1.1l.4-.3l.3-.1l.4-.5l.3-.4l.4-.5l.3 .1l.4-.2l.3-.5l.4-.5l.3-.1l.4 0l.3-.1l.4-.2l.3 0l.4 .2l.3 0l.4-.6l.3-.1l.4 .2l.3 .3l.4 .2l.3 .7l.4 .3l.8 .4l.8 .7l.8 .9l.8 1.0l.8 .9l.8 .7l.8 1.1l.8 .7l.8 1.1l.8 .4l.8 1.4l.8 1.5l.8 1.6l.8 1.3l.8 1.9l.8 1.2l.8 2.1l.8 1.6l.8 1.6l.8 2.2l.8 2.5l.8 1.9l.8 2.0l.8 3.6l.8 3.5l.8 3.7l.8 5.1l.8 5.5l.8 6.6l.8 7.7l.8 8.7l.8 10.5l.8 10.5l.8 10.2l.8 10.1l.8 10.4l.8 7.8l.8 5.5l.8 4.9l.8 5.6l.8 5.2l.8 4.4l.8 3.9l.8 3.3l.8 2.8l.8 2.2l.8 2.4l.8 2.0l.8 1.4l.8 1.5l.8 1.6l.8 1.6l.8 1.1l.8 .6l.8 1.0l.8 .6l.8 1.0l.8 1.1l.8 1.1l.8 .7l.8 .3l.8 .4l.8 1.0l.8 .6l.8 .6l.8 .6l.8 .6l.8 .5l.8 .4l.8 .2l.8 .5l.8 .2l.8 .6l.8 .7l.8 0l.8 0l.8 .9l1 .5l1 .3l1 .1l1 .2l1 .2l1 .3l1 .7l1-.1l1 .1l1 .5l1 .8l1 .1l1-.2l1 .2l1 .5l1 .1l1-.2l1 .5l1 .1l1 0l1 .3l1 .6l1 .4l1-.2l1 0l1 0l1 .4l1 .1l1-.4l1 .3l1 .4l1-.4l1 .4l1 .3l1-.3l1 .2l1 .4l1 .2l1-.2l1 .5l1 .2l1 .2l1 .1l1-.1l1-.1l1-.5l1 .1l1 .3l1 .4l1 .2l1-.3l1 .1l1 0l1 .2l1 .7l1 .2l1 .3l1-.1l1-.6l1 .1l1 .8l1-.3l1-.1l1 .4l1 .1l1-.2l1 .2l1 .2l1 .2l1 .2l1-.2l1 .1l1 .3l1 .2l1 .2l1-.2l1-.1l1 .1l1 .4l1-.3l1 .2l1 0l1 .4l1 .1l1-.4l1 .1l1 .1l1 .6l1-.2l1-.3l1 .4l1 .7l1 .3l1-.1l1-.4l1 .2l1 .4l1-.4l1 0l1-.1l1 .2l1 .6l1 .2l1-.1l1 .2l1 .2l1 .2l1-.4l1-.2l1 .1l1 .4l1-.2l1-.2l1 .3l1 .4l1 .3l1 0l1-.3l1-.1l1 .1l1 0l1 .3l1 .3l1-.1l1-.4l1 .3l1 .5l1-.1l1 .3l1 .1l1-.2l1-.1l1 .2l1 0l1 .1l1 .2l1-.1l1 .1l1 0l1-.1l1 .2l1 0l1-.2l1 .4l1 .1l1-.1l1-.1l1 .7l1 .2l1 .1l1-.2l1-.3l1 .2l1 .2l1 .5l1-.3l1 0l1-.4l1 0l1 .4l1 .4l1 .1l1-.2l1-.3l1 .4l1 0l1 .6l1 .2l1-.2l1-.2l1-.2l1 .7l1-.2l1-.1l1-.3l1 0l1-.1l1 .2l1 .2l1 .2l1 .3l1-.1l1-.2l1 .2l1 .3l1-.3l1-.1l1-.5l1 .1l1 .5l1 .2l1 .8l1-.2l1-1.0l1-.2l1 .5l1 .6l1-.1l1-.4l1-.4l1-.2l1-.3l1 .3l1 .7l1 .1l1-.4l1 .4l1 .4l1-.3l1-.2l1 .2l1 .1l1-.2l1-.2l1 0l1 .1l1 .1l1 .4l1 0l.3 .1l.4 .3l.3-.1l.4-.2l.3-.3l.4 0l.3-.1l.4-2.2l.3-2.8l.4-6.5l.3-15.1l.4-21.9l.3-26.4l.4-29.2l.3-29.2l.4-26.1l.3-21.8l.4-15.6l.3-6.6l.4-2.4l.3-2.0l.4-2.2l.3-1.9l.4-.9l.3-.6l.4-.6l.3 0l.4-.5l.3-.2l.4-.3l.3-.3l.4 0l.3-.7l.4-.3l.3 .1l.4 0l.3-.4l.4-.2l.3 .3l.4 .2l.3 .2l.4-.4l.3 0l.4-.2l.3 0l.4 .6l.3 .4l.4-.2l.3 .2l.8 .8l.8 1.2l.8 .7l.8 .9l.8 .7l.8 1.1l.8 .6l.8 .7l.8 1.6l.8 1.3l.8 .8l.8 1.6l.8 1.5l.8 1.4l.8 1.6l.8 1.4l.8 2.2l.8 2.1l.8 1.6l.8 2.4l.8 2.8l.8 2.5l.8 2.9l.8 3.7l.8 4.5l.8 5.2l.8 6.0l.8 6.6l.8 8.7l.8 9.4l.8 11.2l.8 10.2l.8 10.0l.8 10.9l.8 9.0l.8 6.7l.8 5.9l.8 5.7l.8 5.2l.8 4.5l.8 4.0l.8 3.8l.8 3.1l.8 2.2l.8 2.0l.8 2.0l.8 2.0l.8 1.5l.8 .7l.8 1.8l.8 1.1l.8 .8l.8 1.5l.8 1.1l.8 .8l.8 .7l.8 1.4l.8 .5l.8 .5l.8 1.0l.8 .6l.8 .6l.8 .4l.8 0l.8 1.0l.8 .3l.8 .5l.8 .5l.8 .1l.8 .5l.8 .5l.8 .2l.8 .3l.8-.2l.8 .3l.8 .4l1 1.1l1 1.1l1-.4l1-.1l1 .4l1 .6l1 .1l1-.1l1 .6l1 .2l1 .2l1-.4l1 .2l1 .6l1 0l1 .5l1 .4l1 .1l1 .2l1 .2l1 .1l1 0l1 .5l1 .8l1-.2l1-.1l1-.1l1-.1l1 .2l1 .2l1 .3l1-.5l1-.2l1 .5l1 .8l1 .5l1-.3l1-.4l1 0l1 .1l1 .1l1 0l1 0l1 .5l1 .2l1 .1l1 .3l1 .4l1-.3l1 0l1 .1l1-.2l1 .4l1-.1l1 0l1 .5l1 .4l1-.3l1 .3l1-.1l1-.2l1 .4l1-.2l1-.2l1 .3l1 .3l1 .3l1 .1l1 .4l1-.1l1-.3l1 .1l1 .2l1-.4l1-.1l1 .6l1 .6l1 0l1 0l1-.1l1-.3l1 .3l1 .1l1 .6l1 .1l1 0l1 .2l1 .1l1 .1l1 0l1-.2l1 0l1 .5l1 .5l1 0l1-.2l1 .1l1-.1l1 .2l1-.1l1 .4l1 .5l1 0l1 0l1-.5l1 0l1 .3l1 .2l1 .1l1 .2l1-.1l1 .4l1 0l1-.4l1 .3l1 .1l1 .2l1-.1l1 .2l1-.1l1-.7l1 .2l1 .6l1 .3l1 .3l1-.2l1-.2l1 .2l1 0l1 .1l1 .1l1 .1l1-.3l1-.1l1 .2l1 .8l1-.3l1-.2l1 0l1 .2l1 .2l1 .4l1 0l1 0l1-.1l1 .2l1 .3l1-.1l1-.2l1-.3l.2 .4"/>
<path stroke="#2271b5" d="M98.6 931.2l1-.1l1-.7l1 .3l1 .3l1-.1l1-.1l1 .2l1 .2l1-.2l1-.1l1 0l1-.1l1 .1l1-.3l1-.1l1 .5l1-.4l1 0l1 0l1 .1l1 0l1 .1l1-.2l1-.1l1 .5l1 .3l1-.2l1-.2l1-.3l1 .2l1 .2l1-.2l1 .3l1-.1l1-.1l1-.2l1 0l1 .2l1 .1l1-.1l1-.3l1 0l1 0l1-.1l1 .5l1 0l1-.2l1-.1l1 .3l1 0l1 .4l1-.4l1-.4l1 .3l1-.2l1-.1l1 .1l1 .1l1 .2l1 .1l1-.2l1-.4l1-.2l1 .2l1 .4l1 .3l1 0l1-6.0l.3-19.5l.4-27.9l.3-22.3l.4-20.6l.3-18.9l.4-14.0l.3-9.4l.4-7.1l.3-4.7l.4-3.7l.3-3.7l.4-2.8l.3-2.2l.4-2.0l.3-1.7l.4-2.3l.3-2.0l.4-2.0l.3-1.3l.4-.7l.3-.3l.4-1.0l.3-.6l.4-.9l.3-.4l.4-.2l.3-.1l.4 0l.3-.3l.4-.6l.3 .1l.4 0l.3 .5l.4-.1l.3-.1l.4 .1l.3 .2l.4 .2l.3 .2l.4 .6l.3 .4l.4 .4l.3 .3l.4 .4l.3 .5l.4 1.0l.3-.2l.8 .8l.8 1.3l.8 1.0l.8 .3l.8 .7l.8 1.0l.8 1.3l.8 1.3l.8 1.4l.8 1.5l.8 1.2l.8 .8l.8 1.3l.8 1.5l.8 1.2l.8 .8l.8 1.1l.8 1.8l.8 1.6l.8 1.2l.8 2.1l.8 1.8l.8 1.2l.8 1.5l.9 2.3l.8 2.5l.8 2.6l.8 2.6l.8 3.9l.8 3.5l.8 3.1l.8 5.2l.8 8.7l.8 8.8l.8 8.9l.8 8.8l.8 8.9l.8 10.1l.8 8.2l.8 6.2l.8 4.5l.8 4.1l.8 3.6l.8 3.2l.8 3.1l.8 3.2l.8 2.4l.8 2.2l.8 1.5l.8 1.6l.8 1.2l.8 1.3l.8 1.1l.8 .9l.8 .5l.8 .5l.8 .9l.8 .6l.8 .3l.8 .6l.8 .5l.8 .9l.8 .6l.8 .9l.8 1.0l.8 .2l.8 .3l.8 .5l.8 .2l.8 .3l.8 .6l.8 .1l.8-.6l.8 .6l.8 .4l.8 .2l1 .6l1 0l1 .3l1-.1l1 .2l1 .3l1-.1l1 0l1-.1l1 .2l1 .6l1 0l1-.4l1 .3l1 .7l1-.4l1-.2l1 .3l1-.1l1 .1l1 .4l1 .1l1-.2l1 .2l1-.3l1-.2l1 0l1 0l1 .1l1-.1l1-.2l1 0l1-.1l1-.1l1 .2l1 .3l1-.1l1 .3l1 0l1-.5l1-.3l1 0l1 .3l1 .3l1 0l1-.6l1 .4l1 .3l1 .2l1-.5l1-.4l1-.4l1 .1l1-.1l1 0l1 0l1 0l1 .3l1 .3l1 .1l1-.1l1 .2l1-.1l1-.6l1 0l1-.1l1 0l1 .3l1 .2l1 .4l1 .2l1-.5l1-.3l1 0l1 .1l1 0l1-.1l1 .1l1 0l1 .3l1 .2l1 0l1-.6l1-.5l1-.1l1 .3l1-.2l1-.1l1 .3l1 .1l1 .5l1 .3l1-.4l1-.2l1-.3l1 .2l1-.1l1-.2l1 0l1 .6l1-.5l1 0l1 .3l1 .2l1 .1l1-.2l1-.1l1 .3l1-.1l1-.2l1 .5l1-.1l1-.1l1-.4l1-.1l1 .2l1 .2l1 .2l1-.4l1 .2l1 0l1 .3l1 0l1 0l1 .5l1-.2l1-.1l1-.4l1 .1l1 .2l1 0l1-.1l1-.4l1-.4l1 .5l1 .2l1 .3l1 .5l1 .3l1-.3l1 0l1 0l1 0l1-.1l1-.2l1 0l1 .3l1 .4l1 0l1-.1l1-.6l1 .2l1 .2l1 0l1-.6l1-.2l1 0l1 .7l1 .8l1-.5l1-.4l1 .3l1 0l1 .1l1-.2l1-.2l1 .3l1 .4l1 .1l1 .1l1-.4l1 .4l1-.1l1 .1l1 .2l1-.2l1 0l1 .2l1 .1l1 .1l1 .1l1-.2l1 0l1 .5l1-.4l1-.1l1-.4l1-.3l1 .4l1 .4l1 .2l1 0l1 .2l1 .1l1 0l1-.2l1-.1l1-.1l1 .1l1 .3l1-.4l1 .2l1 0l1-.3l1 .5l1 0l1 .1l1-.2l1-.2l1 .4l1 .2l1 .2l1-.2l1-.3l1 .5l1 .2l1 0l1-.1l1-.2l1 .1l1 .2l1 .6l1-.6l1-.4l1 .3l1 .4l1-.5l1-.3l1 .8l1 0l1-.2l1 .1l1-.3l1 0l1 .4l1 0l1 .1l1 0l1 .2l1-.3l1-.4l1 .5l1 .1l1 .2l1 0l1 .2l1-.5l1-.4l1 .4l1 .3l1-.1l1 .1l1 .3l1-.1l1 .1l1-.2l1-.5l1 .1l1 .3l1 .1l1-.2l1-.2l1 .1l1 .1l1 0l1 .3l1 .6l1-.3l1-.4l1 .3l1 .4l1-.1l1-.4l1-.4l1-.1l1 .4l1 .1l1-.4l1 .1l1 .2l1-.4l1 .1l1 .5l1 .3l1 .1l1 .2l1 .1l1-.2l1-.1l1 .5l1 0l1-.4l1-.4l1 0l1-.4l1 0l1-.2l1 .5l1 .5l1 0l.3 .1l.4-.3l.3-1.3l.4-2.0l.3-11.2l.4-26.2l.3-26.0l.4-22.9l.3-22.9l.4-17.3l.3-10.6l.4-7.8l.3-5.3l.4-4.1l.3-3.0l.4-2.9l.3-3.1l.4-1.7l.3-2.2l.4-2.5l.3-2.0l.4-1.2l.3-.7l.4-1.0l.3-.2l.4-.4l.3-.2l.4-.6l.3-.6l.4-.2l.3 0l.4-.2l.3-.1l.4-.3l.3-.1l.4 .1l.3 .1l.4 .3l.3 .4l.4-.1l.3 .3l.4 .7l.3 .2l.4 .3l.3 0l.4 .4l.8 1.2l.8 1.4l.8 .5l.8 .4l.8 1.3l.8 1.3l.8 .9l.8 .7l.8 1.5l.8 1.6l.8 .8l.8 1.2l.8 1.1l.8 1.1l.8 1.5l.8 1.7l.8 1.3l.8 .9l.8 1.3l.8 1.3l.8 1.5l.8 2.4l.8 2.4l.8 1.9l.8 1.7l.8 2.6l.8 2.4l.8 2.4l.8 2.9l.8 3.4l.8 4.1l.8 5.1l.8 7.0l.8 9.0l.8 9.5l.8 9.2l.7 9.3l.8 11.1l.8 8.8l.8 6.7l.8 5.4l.8 4.5l.8 3.6l.8 3.5l.8 3.4l.8 3.5l.8 2.5l.8 1.5l.8 1.7l.8 2.1l.8 1.2l.8 .5l.8 .8l.8 1.3l.8 1.1l.8 .5l.8 .5l.8 .7l.8 .9l.8 .7l.8 0l.8 .6l.8 .7l.8 .4l.8 .5l.8 1.0l.8 .5l.8 .5l.8 .5l.8-.1l.8 .2l.8 .1l.8 .2l.8 .3l.8 0l.8 .1l.8 .7l1 0l1-.4l1 0l1 .6l1 .6l1 .2l1 .1l1-.2l1 0l1-.3l1 .4l1 .3l1-.2l1 .1l1 .2l1 .2l1 .2l1-.3l1 .2l1-.4l1-.1l1 .1l1 .1l1 .1l1 .1l1 .1l1 .4l1-.4l1-.3l1 .1l1 0l1-.3l1-.3l1 0l1 .4l1 .2l1-.1l1-.1l1 0l1-.1l1 .2l1 .3l1 .1l1-.1l1-.4l1-.1l1-.1l1 .3l1-.2l1-.3l1 .2l1 .1l1-.5l1 .2l1 .6l1 0l1-.2l1-.1l1 .6l1 .2l1-.3l1-.3l1 .3l1 .2l1-.3l1-.1l1 .1l1 .2l1-.1l1-.2l1-.3l1 .1l1 .8l1 .4l1-.1l1 0l1-.4l1 0l1 .1l1 .1l1 .2l1-.5l1 0l1 .1l1 .1l1 .2l1-.3l1 .6l1 .2l1-.1l1 .4l1 .2l1-.4l1 0l1 0l1-.1l1-.2l1 0l1 .3l1 0l1 .3l1 0l1-.2l1 .1l1 0l1 .1l1 .3l1-.2l1-.1l1-.3l1 .3l1-.2l1 .3l1 .7l1 .1l1-.6l1-.2l1 .3l1 0l1 .1l1-.2l1 .6l1 .1l1-.6l1-.1l1 .3l1 .2l1-.4l1 .4l1 0l1 0l1 .2l1-.5l1 0l1 .4l1 .4l1-.2l1 0l1 .2l1-.1l1-.1l1 .2l1 .4l1 .4l1-.6l1 0l1 0l1 .2l1 .4l1 0l1-.2l1-.3l1-.1l1 .3l1-.1l1 0l1 .2l1-.3l1 .1l1 .4l1 0l1 0l1-.2l1 .2l1 0l1 .4l1 0l1 0l1 .2l1-.3l1-.2l1 .4l1 0l1 0l1-.1l1 0l1-.4l1-.3l1 .1l1 .3l1-.5l1-.1l1 .2l1 .5l1 .1l1-.1l.4 .2l.3 .1l.4 .2l.3-.1l.4-.4l.3-.5l.4-1.7l.3-4.6l.4-21.2l.3-28.0l.4-23.7l.3-24.6l.4-20.3l.3-12.8l.4-9.2l.3-5.5l.4-4.1l.3-3.4l.4-3.1l.3-2.8l.4-2.5l.3-2.6l.4-2.7l.3-1.4l.4-.4l.3-1.1l.4-1.3l.3 0l.4-.4l.3-.4l.4 .3l.3-.3l.4-.4l.3-.4l.4 .2l.3 .1l.4-.1l.3-.1l.4 .2l.3 .2l.4 .1l.3 0l.4 .5l.3 .3l.4 .3l.3 .2l.4 0l.3 .8l.4 .3l.8 .4l.8 .9l.8 .8l.8 1.0l.8 1.2l.8 1.1l.8 1.2l.8 .7l.8 .9l.8 1.2l.8 1.1l.8 2.1l.8 1.2l.8 1.2l.8 1.1l.8 1.1l.8 1.3l.8 1.3l.8 1.6l.8 1.7l.8 1.5l.8 2.2l.8 1.7l.8 2.2l.8 1.9l.8 2.3l.8 2.9l.8 3.0l.8 3.1l.8 3.6l.8 4.3l.8 6.4l.8 9.1l.8 9.2l.8 9.5l.8 9.3l.8 10.8l.8 10.0l.8 6.9l.8 5.5l.8 4.8l.8 4.1l.8 3.5l.8 3.3l.8 3.7l.8 2.7l.8 1.8l.8 1.4l.8 1.8l.8 2.1l.8 1.2l.8 .6l.8 .6l.8 1.2l.8 .7l.8 .8l.8 .2l.8 .7l.8 .5l.8 .7l.8 .4l.8 .8l.8 .3l.8 .4l.8 .9l.8 .2l.8 0l.8 .6l.8 .5l.8 .4l.8 .5l.8-.3l.8 0l.8-.2l.8 .2l.8 .5l.8 .3l1 .3l1 .3l1 .3l1 .1l1-.1l1 .1l1-.1l1 .2l1 .2l1-.4l1-.5l1 .8l1 .9l1-.4l1-.3l1 .3l1 .3l1-.1l1-.3l1-.2l1 .1l1-.1l1 .5l1 .3l1-.1l1-.6l1-.3l1 0l1 .4l1 .2l1 0l1-.3l1-.5l1-.1l1 .5l1 0l1 .2l1-.7l1-.1l1 .3l1 .4l1 .1l1-.2l1 0l1-.3l1 0l1-.1l1 .2l1 .1l1 .5l1 .5l1-.8l1-.1l1 .3l1 .1l1 .1l1-.4l1 .2l1-.1l1 .2l1 0l1 0l1-.3l1-.4l1 .3l1 .5l1 0l1 0l1-.2l1 .4l1 0l1-.6l1 .6l1 .4l1-.3l1 .1l1 0l1 .1l1-.3l1-.1l1 .1l1 .1l1-.1l1 .1l1 .4l1-.3l1-.2l1 .2l1 .2l1-.4l1 .6l1 .4l1 0l1-.4l1-.1l1 .3l1 .2l1 .2l1-.2l1-.3l1-.1l1 .3l1 .3l1 .2l1 0l1 .3l1-.1l1-.5l1-.2l1 .2l1 .1l1 .1l1 .4l1 .2l1 .1l1-.2l1-.2l1 .1l1-.1l1 .1l1 .1l1 .1l1-.5l1 .6l1 .3l1-.2l1 .1l1 .1l1 .4l1 .1l1-.3l1 .2l1-.4l1 .2l1-.1l1-.2l1 .2l1 0l1 .2l1-.3l1-.3l1 .2l1 .4l1 .2l1 0l1-.1l1 .2l1-.1l1 .1l1 .3l1-.4l1-.3l1 .5l1 .1l1 0l1 .3l1-.3l1 .2l1 .2l1 .3l1-.8l1 .2l1 .3l1 .1l1-.3l1 0l1 .3l1-.2l1 0l1 .1l1-.1l1-.3l1 .1l1 .2l1 .2l1 .3l1-.1l1-.1l1 0l1 .1l1-.3l1-.1l1-.3l1 .2l1 .4l1-.2l1-.4l.3 .3l.4 0l.3-.1l.4-.2l.3-1.5l.4-3.3l.3-18.5l.4-27.9l.3-24.9l.4-26.6l.3-22.1l.4-13.1l.3-9.4l.4-5.9l.3-4.2l.4-3.4l.3-3.1l.4-2.5l.3-2.9l.4-2.8l.3-1.6l.4-.7l.3-.8l.4-.2l.3-1.1l.4-.6l.3-.8l.4 0l.3 0l.4 .1l.3 0l.4 .1l.3 .5l.4-.2l.3-.3l.4 0l.3-.4l.4 .7l.3 .7l.4 0l.3 .1l.4 .2l.3 .6l.4 .3l.3 .3l.4 .6l.8 .9l.8 .4l.8 .2l.8 1.2l.8 .8l.8 .5l.8 .9l.8 1.5l.8 1.4l.8 1.4l.8 1.2l.8 1.6l.8 1.3l.8 1.2l.8 1.4l.8 1.0l.8 1.2l.8 1.8l.8 2.1l.8 1.8l.8 .7l.8 1.9l.8 2.2l.8 2.4l.8 2.2l.8 2.8l.8 3.0l.8 2.8l.8 3.7l.8 4.6l.8 5.1l.8 8.3l.8 9.9l.8 9.3l.8 9.9l.8 10.7l.8 10.7l.8 7.6l.8 6.0l.8 4.5l.8 3.9l.8 3.9l.8 3.7l.8 3.0l.8 3.0l.8 2.0l.8 2.1l.8 1.8l.8 1.2l.8 1.0l.8 .8l.8 .6l.8 .7l.8 1.0l.8 .5l.8 .4l.8 1.2l.8 1.1l.8 .5l.8 .5l.8 .3l.8 .3l.8 .7l.8 .4l.8 .3l.8 .8l.8 .2l.8 0l.8 .3l.8 .3l.8 .5l.8 .3l.8-.4l.8 .1l.8 .8l.8 .4l.8-.6l1-.2l1 .1l1 .4l1 .2l1 .1l1 .2l1-.2l1-.1l1 .2l1 .7l1 .2l1-.1l1-.3l1 .4l1 0l1 0l1 0l1-.2l1-.2l1-.2l1 .2l1 0l1-.1l1 .3l1 .3l1-.5l1-.3l1 .1l1 .4l1 .3l1-.3l1-.3l1-.3l1 .3l1 .2l1-.2l1-.1l1 0l1 .4l1 .2l1-.2l1-.1l1-.2l1-.2l1-.1l1 .2l1 .2l1 .1l1 .2l1 .1l1 .1l1-.2l1-.3l1-.1l1-.1l1 .5l1-.3l1 .1l1 .4l1-.6l1 0l1 .1l1 0l1 .2l1 .1l1 .1l1-.1l1 .1l1-.1l1 .2l1 0l1-.5l1 .2l1 .1l1-.6l1-.2l1 .7l1 .2l1 .3l1-.1l1-.1l1 0l1 0l1-.1l1 .1l1 .3l1 0l1 .1l1-.1l1-.2l1 0l1 .3l1-.1l1 0l1-.2l1 .4l1 .1l1-.3l1-.2l1 .3l1 .2l1-.1l1 .1l1 .3l1-.1l1 0l1 .2l1-.1l1-.1l1 .3l1-.1l1 .2l1-.2l1 .2l1 .3l1-.1l1 0l1 0l1 .1l1-.1l1 0l1 .1l1 .3l1-.4l1 .1l1-.2l1 .4l1 .1l1-.2l1 .3l1-.4l1-.1l1 .2l1 0l1 .4l1-.2l1-.7l1 .1l1 .5l1 .2l1-.2l1 .1l1 .3l1-.2l1 .1l1-.1l1 .6l1 .1l1-.7l1-.5l1 .4l1 .6l1 0l1 .1l1-.4l1 0l1 .4l1 .3l1-.3l1-.2l1 .3l1 .2l1 0l1-.1l1-.1l1-.1l1-.3l1 .6l1 .5l1-.2l1-.5l1 0l1 .5l1-.1l1-.1l1 .1l1-.1l1 .3l1 .3l1-.2l1 .4l1-.2l1-.1l1 .2l1 .1l1 0l1-.2l1-.1l1 .3l1-.3l1-.2l1 .4l1 .1l1-.2l1 0l1 .3l1 .2l1-.5l1-.4l1 .2l1 .3l1-.1l1-.1l1 .4l1 0l1-.2l1 0l1-.2l1 0l1 0l1-.1l1 .3l1 0l1-.1l1 .2l1 0l1-.3l1 0l1 .1l.3 .3l.4-.4l.3 .2l.4 .2l.3-.4l.4-.2l.3-.3l.4-1.3l.3-2.0l.4-16.3l.3-27.4l.4-26.1l.3-28.2l.4-24.3l.3-14.4l.4-9.1l.3-5.8l.4-4.2l.3-3.3l.4-3.3l.3-3.0l.4-2.6l.3-1.5l.4-1.5l.3-.9l.4-1.0l.3-.8l.4-.2l.3-.4l.4-.3l.3 .1l.4 .3l.3 .4l.4 0l.3-.3l.4 .4l.3 .1l.4-.5l.3 0l.4 .5l.3 .6l.4-.2l.3 .2l.4 .5l.3 0l.4 .2l.3 .4l.4 .1l.3-.4l.8 1.0l.8 1.2l.8 .6l.8 1.2l.8 .7l.8 .9l.8 1.0l.8 .9l.8 1.4l.8 1.5l.8 1.8l.8 1.7l.8 1.0l.8 1.1l.8 1.0l.8 1.7l.8 1.6l.8 1.6l.8 2.0l.8 1.9l.8 1.7l.8 1.9l.8 1.9l.8 2.8l.8 2.5l.8 2.5l.8 3.6l.8 3.7l.8 4.6l.8 5.7l.8 9.2l.8 10.0l.8 9.6l.8 10.2l.8 11.7l.8 10.2l.8 7.1l.8 5.8l.8 4.7l.8 3.7l.8 3.7l.8 4.3l.8 3.3l.8 2.2l.8 2.0l.8 1.8l.8 1.3l.8 1.4l.8 .6l.8 .7l.8 1.0l.8 .9l.8 .9l.8 1.0l.8 .4l.8 .8l.8 .9l.8 .5l.8 0l.8 .5l.8 .9l.8-.2l.8 0l.8 .5l.8 .8l.8-.1l.8 .3l.8 .5l.8 .4l.8-.3l.8 .4l.8 .4l.8 .3l.8-.1l.8 0l.8 .2l1 .4l1 .1l1-.2l1 .1l1-.3l1 .3l1 0l1 .2l1 .6l1 .3l1-.3l1-.3l1 .1l1 .3l1-.1l1 .4l1 .2l1-.3l1-.2l1 .1l1-.4l1-.2l1 .7l1 .4l1-.3l1-.7l1-.8l1 .5l1 .5l1 0l1 .1l1-.3l1 .1l1 0l1-.1l1-.4l1 .3l1 .1l1-.2l1-.2l1 .1l1 0l1 .4l1 .2l1-.1l1-.1l1-.1l1-.1l1-.4l1 .4l1 .3l1-.2l1 0l1-.3l1 .2l1 .1l1 .1l1 .2l1 0l1-1.1l1 .1l1 .4l1 .2l1-.1l1-.1l1-.2l1 0l1 .3l1 .5l1-.1l1 .6l1-.2l1-.4l1 .2l1-.1l1-.6l1 0l1 .6l1-.2l1 .2l1 0l1-.5l1 .4l1 .3l1 .1l1-.3l1 .1l1-.1l1 .1l1 .3l1 .1l1 0l1-.2l1 0l1-.5l1 .1l1 .3l1-.2l1 0l1 0l1-.3l1 .4l1 .1l1-.2l1 0l1 .6l1-.2l1-.5l1 0l1-.3l1-.1l1 .1l1 .4l1 .4l1 .2l1-.1l1 .2l1-.1l1-.5l1 .1l1 .4l1 .2l1 0l1-.7l1 .1l1 .8l1-.1l1 0l1-.2l1-.2l1 .6l1 .1l1 .1l1-.2l1-.4l1 .2l1 .3l1-.3l1 .2l1 .2l1-.4l1 .1l1 .3l1 .2l1-.2l1-.1l1 .2l1-.1l1 .2l1 .1l.7-.1"/>
<path stroke="#353e9d" d="M98.6 1042.5l1-.1l1-.6l1 .3l1-.1l1 0l1 .2l1 .2l1-.3l1-.3l1-.2l1 .3l1 0l1-.2l1 .2l1 .4l1 .1l1-.1l1 .4l1-.1l1-.2l1-.1l1-.3l1-.2l1 .1l1 .1l1 .2l1 .4l1 .2l1-.4l1-.2l1-.6l1-.3l1 .4l1 .4l1 .5l1 .2l1-.5l1 .1l1 0l1-.3l1 .1l1 0l1 .1l1-.8l1-.4l1 .6l1 .5l1 0l1-.4l1 .1l1-.1l1 .1l1-.3l1-.1l1 .4l1-.5l1-.1l1 .6l1-.2l1-.5l1 .6l1-.3l1 0l1 .4l1 .4l1-.3l1 0l1-.2l1-.1l.3-.4l.4 .1l.3 0l.4-.2l.3-.3l.4-.8l.3-4.5l.4-9.7l.3-12.9l.4-15.3l.3-15.2l.4-14.1l.3-11.6l.4-7.2l.3-1.8l.4-.8l.3-.4l.4-.3l.3-.7l.4 .4l.3-.2l.4-.5l.3-.6l.4-.1l.3 0l.4 .2l.3 .1l.4 0l.3-.5l.4-.6l.3 .2l.4 .4l.3 .2l.4-.3l.3 .4l.4 .2l.3 0l.4 .4l.3 .7l.4-.1l.3 .3l.4-.2l.3-.2l.4 .4l.3 .1l.4 0l.3-.1l.8 1.0l.8 .7l.8 .9l.8 .5l.8 .3l.8 .4l.8 .8l.8 .5l.8 .7l.8 1.0l.8 .3l.8 .7l.8 .7l.8 .3l.8 .5l.8 .7l.8 .7l.8 .6l.8 .7l.8 .6l.8 .7l.8 .9l.8 1.1l.8 1.6l.9 1.6l.8 1.1l.8 2.1l.8 2.6l.8 3.3l.8 3.3l.8 3.3l.8 3.5l.8 3.3l.8 4.6l.8 4.5l.8 3.5l.8 3.1l.8 3.7l.8 3.0l.8 2.6l.8 1.5l.8 1.5l.8 1.6l.8 1.4l.8 1.0l.8 1.7l.8 .8l.8 .4l.8 .7l.8 .9l.8 .5l.8 .3l.8 .5l.8 .6l.8 .2l.8 .3l.8 .3l.8 .3l.8 0l.8 .5l.8 .7l.8 .4l.8-.3l.8-.7l.8 .7l.8 1.1l.8 .7l.8 0l.8-.3l.8-.1l.8 .3l.8 .6l.8-.2l.8-.3l.8 .5l.8 0l1-.7l1 .4l1 .7l1-.1l1-.4l1 .3l1 .4l1-.2l1-.3l1 .3l1 .4l1-.1l1 0l1 .7l1-.3l1-.5l1 .1l1-.2l1 .6l1 .8l1 .7l1-.3l1 0l1 .2l1-.1l1-.1l1 .5l1 .1l1 .1l1-.2l1-.5l1-.1l1 .1l1 .1l1 .2l1-.1l1-.1l1 .6l1 .1l1-.5l1-.4l1 0l1 0l1 0l1 .1l1 .3l1 .2l1-.1l1-.2l1 .4l1 .4l1-.4l1 0l1 .6l1-.4l1-.4l1 .3l1-.2l1 .1l1 .4l1-.3l1-.1l1 .6l1 .2l1-.4l1 .3l1 .5l1 .1l1 0l1-.2l1-.2l1 0l1 .2l1-.1l1-.7l1 .2l1 .7l1 .3l1-.3l1 0l1-.3l1 0l1 .4l1 .1l1-.2l1-.1l1 .3l1 .1l1-.1l1 .1l1 0l1 .2l1 .2l1 .4l1-.1l1-.6l1-.3l1 .4l1 0l1 .2l1-.5l1 .2l1 .5l1-.2l1 .1l1-.1l1-.2l1 .2l1-.3l1 .2l1 .5l1-.3l1-.2l1-.1l1 .3l1-.4l1-.1l1 0l1-.1l1-.1l1 .3l1 .1l1 0l1-.2l1 0l1 .2l1 .1l1-.2l1 .2l1 .2l1 .3l1 0l1 0l1-.1l1-.2l1 .3l1-.2l1-.2l1 .1l1-.1l1 .6l1-.3l1-.6l1 0l1 .2l1 .1l1 .4l1 .2l1 .1l1-.3l1-.2l1 .5l1-.1l1-.7l1 .1l1 .2l1 .1l1 .4l1 0l1-.3l1-.4l1-.3l1 .3l1 .2l1-.1l1-.3l1 .2l1 .5l1 .3l1-.1l1 0l1 .1l1 .2l1 .2l1-.3l1 0l1 0l1 .6l1 .1l1 0l1-.2l1-.2l1-.1l1 .5l1 .1l1-.6l1 .7l1-.1l1 0l1-.1l1 .2l1 .3l1 .1l1 .4l1-.2l1-.1l1-.2l1 0l1 .2l1 .4l1 .3l1-.4l1-.4l1 .1l1 .1l1 .5l1 0l1-.3l1 .3l1 .5l1 0l1-.2l1 .3l1 0l1-.1l1 .3l1 .4l1-.5l1 .3l1 0l1 .2l1 .1l1-.1l1 0l1 .1l1 .3l1-.1l1-.4l1 .6l1 .4l1 0l1-.4l1-.3l1 .6l1 .4l1 0l1-.5l1 .1l1 0l1 0l1-.2l1 .3l1 .2l1 .3l1 .4l1-.4l1 .1l1 .4l1-.1l1 .3l1-.1l1-.3l1 0l1 .2l1 .1l1 .1l1 0l1 .2l1-.2l1 0l1 .1l1-.2l1 .3l1 0l1-.3l1 .1l1 .8l1-.1l1-.1l1 .1l1 .5l1-.5l1-.3l1 .4l1-.1l1 .3l1 .1l1 .4l1-.2l1-.1l1 .6l1 .3l1-.7l1 .2l1-.1l1-.2l1-.4l1 .2l1 .6l1-.2l1-.1l1 .6l1 0l1-.3l1-.5l1 .3l1 .2l1-.8l1-.2l.3 .5l.4 .5l.3 0l.4 0l.3-.1l.4 .1l.3 .5l.4 0l.3-1.6l.4-3.0l.3-8.2l.4-11.5l.3-14.5l.4-15.2l.3-14.5l.4-12.3l.3-8.3l.4-3.2l.3-.5l.4 .3l.3-.5l.4-.3l.3-.5l.4-.8l.3 0l.4-.4l.3-.1l.4 0l.3 0l.4-.1l.3-.1l.4-.1l.3 .2l.4 .6l.3 .3l.4-.3l.3-.3l.4 .2l.3 .3l.4 .2l.3 .2l.4 .1l.3-.2l.4-.3l.3 0l.4 .8l.3 .2l.4-.2l.3 .2l.8 .5l.8 .8l.8 1.0l.8 .5l.8 1.0l.8 0l.8 .3l.8 1.0l.8 1.0l.8 0l.8 .2l.8 .1l.8 .9l.8 .3l.8 .9l.8 1.0l.8 .4l.8 .7l.8 .6l.8 .7l.8 1.1l.8 1.2l.8 .8l.8 1.0l.8 1.1l.8 1.5l.8 2.7l.8 2.8l.8 3.0l.8 3.4l.8 3.3l.8 3.3l.8 4.0l.8 4.2l.8 3.8l.8 3.2l.8 3.6l.8 3.5l.8 2.9l.8 1.8l.8 1.7l.8 2.2l.8 1.3l.8 1.2l.8 1.4l.8 1.0l.8 .6l.8 .5l.8 .8l.8 1.0l.8 .5l.8 .4l.8-.1l.8 .7l.8 .6l.8 .2l.8 0l.8 .8l.8 1.0l.8 0l.8-.1l.8 .1l.8 .2l.8 .6l.8 .1l.8 .3l.8 .7l.8 .2l.8-.1l.8-.5l.8 .4l.8 .5l.8-.2l.8 .4l.8 .1l.8 .1l.8-.3l1-.3l1 .3l1 .6l1-.3l1-.1l1 .3l1-.3l1 .3l1 .4l1 .1l1 .1l1-.3l1-.4l1 .7l1 .2l1 .2l1 .3l1 .2l1 .1l1 .5l1 .3l1-.4l1-.4l1-.1l1 .3l1-.1l1 .8l1 .1l1-.4l1 .2l1-.3l1 0l1 .4l1-.1l1 .2l1 .3l1 .4l1 0l1 .3l1-.2l1-.6l1-.3l1 0l1 .3l1-.3l1 .2l1 0l1 .5l1 .5l1-.2l1 0l1 .2l1 .1l1-.2l1 .4l1 0l1-.2l1 .2l1 .7l1 .1l1-.2l1-.3l1 0l1-.2l1-.1l1 .4l1 .1l1-.1l1 .2l1 .4l1-.1l1 0l1 .6l1-.5l1 .2l1 0l1 .4l1 .2l1 .1l1-.2l1 0l1 .5l1-.2l1-.1l1 0l1 0l1 .4l1 .6l1 0l1-.3l1 0l1 0l1-.1l1 .4l1-.3l1-.4l1 .4l1 0l1 .3l1 .2l1-.2l1 .2l1 .2l1-.7l1-.2l1 .5l1 .4l1 .7l1-.1l1-.3l1-.4l1-.5l1 .2l1 .4l1 .3l1-.1l1 .3l1 .1l1-.3l1-.1l1 .2l1 .3l1-.5l1 .6l1 0l1-.6l1 .4l1 .4l1-.3l1 0l1 .3l1 .5l1-.2l1-.5l1-.3l1 .1l1 .3l1-.3l1 .3l1 .4l1-.3l1 .1l1 .3l1 .1l1-.4l1 .3l1 .1l1-.1l1-.2l1 .3l1-.1l1 .1l1 .1l1 .6l1 0l1 .1l1-.5l1 0l1 .4l1-.3l1 .2l1 .1l1-.4l1-.1l1 .2l1 .4l1 0l1 .1l1-.4l1-.3l1-.1l1 .2l1 0l1 .1l1-.2l1 0l1 .3l1 .3l1-.2l1-.1l1 .5l1 .1l1-.4l1-.3l1-.5l1 .1l.3 .6l.4 .6l.3 .2l.4-.4l.3-.4l.4 0l.3-.5l.4-.7l.3-1.2l.4-4.5l.3-9.0l.4-12.6l.3-14.9l.4-15.0l.3-13.7l.4-10.1l.3-5.4l.4-1.3l.3-.7l.4-.5l.3-.2l.4-.7l.3-.1l.4 .3l.3-.9l.4-.3l.3-.1l.4 .2l.3-.5l.4-.3l.3 .1l.4 .2l.3-.5l.4-.1l.3 .4l.4 .2l.3 .3l.4-.1l.3 0l.4 .4l.3 .3l.4 .2l.3-.3l.4-.3l.3 .5l.4 .4l.3 .2l.4 .3l.3 .2l.8 .7l.8 .5l.8 .7l.8-.1l.8 .1l.8 1.3l.8 1.6l.8 0l.8 .3l.8 .5l.8 .5l.8 .6l.8 .7l.8 1.1l.8 .4l.8 .3l.8 .7l.8 .6l.8 .4l.8 1.2l.8 .8l.8 1.2l.8 1.2l.8 1.5l.8 1.7l.8 1.8l.8 2.3l.8 2.9l.8 3.2l.8 3.2l.8 3.6l.8 3.9l.8 4.2l.8 4.3l.8 3.5l.8 3.3l.8 2.8l.8 2.5l.8 2.8l.8 2.0l.8 1.3l.8 1.7l.8 1.1l.8 .9l.8 1.2l.8 .3l.8 1.1l.8 1.0l.8 .4l.8 1.1l.8 .3l.8 .7l.8 .3l.8 .5l.8 .5l.8 .8l.8 .1l.8 .3l.8 .2l.8 .1l.8 .2l.8 .5l.8 .5l.8 .2l.8 .1l.8 0l.8 .2l.8-.2l.8 .1l.8-.3l.8 .4l.8 .3l.8-.2l.8 .2l.8 .7l.8 .3l1 .2l1 .1l1 0l1 0l1 .1l1 0l1-.5l1 .3l1 .6l1 .1l1-.2l1 0l1 .3l1-.2l1 0l1 .5l1-.1l1 0l1-.5l1-.1l1 1.1l1 .3l1-.8l1 .3l1 .5l1 .1l1 0l1-.1l1 0l1 .5l1 .2l1-.4l1-.4l1 .8l1 0l1 .2l1 .5l1-.1l1-.3l1 .2l1-.1l1-.3l1 0l1-.4l1 .1l1 .7l1 .4l1-.3l1 .3l1 .2l1 .2l1-.1l1 .6l1-.4l1-.4l1-.1l1-.3l1 .5l1 .1l1 .2l1-.4l1-.7l1 0l1 .6l1 .3l1 .4l1-.1l1 .2l1 .2l1 .4l1-.2l1-.2l1-.2l1 .4l1 .2l1 0l1 0l1-.3l1 .2l1 .2l1 .1l1 .4l1-.1l1-.5l1 0l1 .2l1-.1l1 0l1 .1l1 .5l1 .1l1 0l1-.1l1-.6l1 .4l1 .3l1 .3l1 .1l1 .1l1 0l1-.8l1 .2l1 .9l1 .1l1-.5l1 .4l1 0l1-.6l1 .1l1 .4l1 .2l1 .4l1-.1l1-.1l1-.5l1-.2l1 .4l1 .7l1 .1l1-.6l1-.3l1-.2l1 .7l1-.2l1 .5l1 .1l1-.7l1 .1l1 .6l1 .2l1-.5l1-.2l1 .5l1 .2l1-.5l1 0l1 .6l1-.2l1-.3l1 .2l1 .4l1 .1l1-.1l1-.4l1-.2l1 .5l1 .2l1-.1l1 0l1 .1l1 .1l1-.4l1-.1l1 .4l1-.1l1 0l1 .2l1-.1l1-.1l1-.1l1 .4l1-.3l1 .3l1-.4l1-.1l1 .3l1 .4l1-.1l1-.4l1 0l1 .5l1 0l1-.1l1-.1l1-.1l1 .3l1 .1l1 .1l1-.3l1-.4l1 .5l1-.1l1-.4l1-.7l1 .5l1 .5l1-.1l.4 .3l.3 .1l.4-.2l.3-.2l.4 .3l.3 0l.4-.8l.3-1.3l.4-1.8l.3-6.2l.4-10.8l.3-13.4l.4-13.6l.3-13.3l.4-11.4l.3-8.3l.4-3.8l.3-1.1l.4-.8l.3 .1l.4 .1l.3-.6l.4-.1l.3-.6l.4-.3l.3 .2l.4-.3l.3-.1l.4-.2l.3 .3l.4 .1l.3-.4l.4 .4l.3 .2l.4-.1l.3-.5l.4 .6l.3-.2l.4 .2l.3 .1l.4-.1l.3 .1l.4 .3l.3 .5l.4 .3l.3 .1l.4 .3l.3 .2l.8 .5l.8 .1l.8 .7l.8 .7l.8 .7l.8 .7l.8 .6l.8 .5l.8 .4l.8 .3l.8 .4l.8 .6l.8 .9l.8 .7l.8 .5l.8 .1l.8 .8l.8 1.4l.8 .3l.8 .2l.8 1.2l.8 1.1l.8 .8l.8 1.2l.8 1.4l.8 2.1l.8 2.4l.8 2.7l.8 3.1l.8 3.4l.8 4.0l.8 3.8l.8 3.7l.8 3.9l.8 3.6l.8 3.3l.8 2.9l.8 1.4l.8 1.7l.8 2.2l.8 2.2l.8 1.4l.8 .9l.8 1.1l.8 .9l.8 1.2l.8 .9l.8 0l.8 1.5l.8 .6l.8 .1l.8 .6l.8 .4l.8 .5l.8 .5l.8 .3l.8 0l.8 .5l.8 .2l.8 .4l.8 .5l.8 .1l.8 .4l.8 .3l.8 0l.8 0l.8 .5l.8 .5l.8 .4l.8-.5l.8 .3l.8-.1l.8 .2l.8 .6l.8-.2l.8 .1l.8-.1l1-.2l1 .2l1 .1l1 .4l1 .6l1-.3l1-.4l1 .8l1 .1l1 .1l1 .1l1-.4l1 .1l1 .1l1 0l1 .1l1 .3l1 .4l1 0l1 0l1-.1l1-.6l1 .4l1 .4l1 .2l1 .2l1-.1l1 .2l1-.3l1 .1l1 0l1-.1l1 .3l1 0l1-.2l1 .3l1-.1l1-.2l1-.5l1 .3l1 .1l1 .5l1-.1l1 0l1 0l1-.1l1 .2l1-.1l1 .3l1 .5l1 .3l1 0l1-.5l1-.2l1 .5l1 .3l1-.4l1 .3l1-.4l1-.6l1 .8l1 .7l1 0l1-.1l1-.3l1-.7l1-.3l1 .5l1 .3l1-.1l1 .2l1 .6l1 .1l1-.8l1 0l1 .4l1-.1l1-.1l1 1.2l1-.1l1-.5l1-.5l1 .3l1 0l1 .4l1 .1l1 0l1 0l1-.1l1-.1l1-.4l1 .7l1 .3l1 .5l1-.6l1-.6l1 .8l1-.3l1-.2l1 .4l1 .6l1 .2l1-.6l1 0l1 0l1-.2l1 0l1 .2l1 .2l1 .1l1-.5l1 .4l1 .4l1 .1l1-.4l1-.1l1 .1l1-.1l1-.1l1 .1l1-.1l1 0l1 .1l1 0l1 0l1 .1l1 .6l1 0l1-.2l1-.2l1 .4l1-.1l1 0l1 .1l1 .1l1 .2l1-.4l1-.1l1 .3l1 .1l1 .2l1 .3l1 .1l1-.1l1-.4l1-.1l1 .1l1 .3l1-.3l1-.3l1 .1l1 .4l1-.5l1-.3l1 .8l1 .3l1 .1l1 .1l1-.1l1-.1l1-.2l1-.4l1-.4l1 .2l1 .7l1 .3l1-.2l1-.2l1 .3l1 0l1-.1l1-.2l1-.2l1 .1l1 .6l1 .5l1 0l1-.5l1 0l1-.1l1 .1l1 .2l1-.1l1-.2l1 .5l1-.4l1-.1l1 .6l1-.5l1-.1l1 0l1 .2l1-.7l1 .3l1 .1l1 .8l1 .4l1-.5l1-.4l1 .5l1 .3l1-.5l1-.2l1 .2l1-.5l1 0l1 .2l1 .2l1 .2l1-.4l1-.4l1-.1l1 .5l1 .3l1 .2l1-.3l1-.4l1 .3l1 0l.4 .3l.3-.3l.4-.2l.3 .1l.4 .3l.3 .1l.4 .4l.3-1.2l.4-2.0l.3-5.0l.4-9.0l.3-12.2l.4-13.6l.3-13.8l.4-12.6l.3-9.1l.4-4.4l.3-1.1l.4-.4l.3-.4l.4-1.0l.3-.3l.4 .4l.3-.3l.4 0l.3 .1l.4-.4l.3-.2l.4-.2l.3-.3l.4 .7l.3-.1l.4-.3l.3 .3l.4-.4l.3-.1l.4 .1l.3 .2l.4 .2l.3 .3l.4 0l.3 .3l.4 .3l.3 .1l.4 .1l.3 0l.4-.2l.3 0l.8 .9l.8 .4l.8 .9l.8 .7l.8 .5l.8 .7l.8 .6l.8 .2l.8 .8l.8 .8l.8 .6l.8 .4l.8 .1l.8 .7l.8 1.0l.8 .4l.8 .5l.8 .7l.8 .3l.8 1.0l.8 1.1l.8 1.1l.8 1.5l.8 1.2l.8 1.6l.8 1.9l.8 2.8l.8 2.9l.8 3.3l.8 3.5l.8 3.5l.8 4.2l.8 4.3l.8 3.1l.8 3.0l.8 3.5l.8 2.7l.8 1.8l.8 1.6l.8 .9l.8 1.8l.8 1.5l.8 1.5l.8 .8l.8 .9l.8 .3l.8 .5l.8 .5l.8 .5l.8 .9l.8 .8l.8 0l.8 .8l.8 .8l.8 .2l.8 .4l.8 .3l.8 .2l.8-.1l.8 1.0l.8 .2l.8-.1l.8 .3l.8 .4l.8 .3l.8-.3l.8 0l.8 .3l.8 .6l.8 0l.8 .1l.8 0l.8 .3l.8 0l.8 .2l.8 .6l.8-.1l1 0l1 .7l1-.6l1-.3l1 .2l1 .9l1 .1l1 0l1 .3l1-.1l1 .3l1 .2l1-.2l1 .1l1-.1l1 .1l1 .4l1-.1l1-.3l1-.6l1 .2l1 .3l1 .3l1 .2l1 0l1 0l1 .1l1 .2l1-.1l1-.4l1 .7l1 .5l1-.2l1-.6l1-.2l1 .4l1 .5l1-.4l1-.9l1-.2l1 1.2l1 .6l1-.8l1 0l1 .4l1 .2l1 0l1-.5l1 .3l1 .1l1 .4l1 .1l1 0l1-.6l1-.1l1 .2l1 .1l1-.1l1 0l1 0l1 .1l1 .6l1-.3l1-.1l1 .2l1-.2l1 .4l1 .2l1 .5l1-.2l1-.3l1 .3l1 0l1-.2l1-.8l1 .5l1 .4l1 .3l1-.3l1 .2l1-.1l1-.3l1 .2l1 .4l1 0l1-.1l1 .1l1 .1l1 .1l1-.2l1-.3l1 .3l1 .4l1 .3l1-.3l1 .3l1-.1l1 .1l1-.7l1 0l1-.3l1 .2l1 .5l1 .3l1-.2l1 .1l1 .1l1 .4l1-.1l1 .5l1 0l1-.7l1 .1l1 .1l1 .4l1 0l1 .2l1-.4l1-.3l1 0l1 .3l1 .1l1 0l1 .1l1 .1l1-.2l1-.3l1-.1l1 .2l1 .2l1 .5l1 0l1-.4l1 .1l1-.1l1 .1l1-.2l1 .4l1 0l1 0l1-.1l1-.2l1 .2l1 .2l1 .2l1 .2l1 .1l1-.3l1-.4l.3 .4"/>
<path stroke="#27276b" d="M98.6 1135.3l1 .1l1 .1l1-.1l1 .2l1 .3l1-.4l1-.3l1 .3l1 .9l1-.6l1-.2l1 .2l1 .2l1-.5l1-.2l1 .1l1-.1l1-.3l1 0l1 .5l1 .2l1 .3l1-.4l1 0l1 .2l1-.4l1 .2l1-.2l1-.1l1 .4l1-.1l1-.3l1 .5l1 .4l1-.1l1-.4l1-.2l1 .1l1 .2l1-.1l1 .2l1-.1l1-.5l1 .3l1 .2l1-.3l1 .1l1 .4l1-.3l1-.2l1-.1l1 .1l1 0l1-.1l1-.4l1-.1l1 .3l1 .2l1 .1l1 .3l1 0l1 .1l1-.4l1-.5l1 .7l1 .4l1-.3l1-.3l1-.2l.3 .1l.4-.3l.3-.1l.4 .5l.3-.4l.4-1.1l.3-4.4l.4-9.2l.3-12.1l.4-14.3l.3-14.1l.4-11.7l.3-7.5l.4-2.2l.3-1.0l.4-.5l.3-.1l.4-.4l.3-.5l.4 .1l.3-.1l.4-.2l.3 0l.4 .1l.3 .2l.4-.2l.3-.3l.4-.4l.3-.1l.4-.2l.3 .1l.4 .6l.3 .4l.4-.3l.3-.2l.4 .1l.3 .1l.4-.2l.3 .1l.4 .3l.3 .3l.4-.4l.3-.4l.4 .6l.3 0l.4-.2l.3-.3l.8-.2l.8 .9l.8 .8l.8 .6l.8 .2l.8 .1l.8 .6l.8 .7l.8 .7l.8 .5l.8 .3l.8 0l.8 .9l.8 .7l.8 .3l.8 .8l.8 .5l.8 .4l.8 .9l.8 1.3l.8 1.0l.8 1.1l.8 .9l.8 .8l.9 .9l.8 1.6l.8 2.2l.8 2.8l.8 1.8l.8 2.4l.8 3.4l.8 3.8l.8 3.1l.8 3.3l.8 3.1l.8 3.0l.8 1.8l.8 2.1l.8 2.0l.8 1.3l.8 1.3l.8 1.5l.8 .5l.8 1.1l.8 1.6l.8 1.1l.8 .1l.8 .2l.8 .5l.8 .7l.8 .8l.8 .8l.8 .4l.8 .2l.8 0l.8 .5l.8 .4l.8 .1l.8 0l.8 .1l.8 .7l.8 .3l.8-.2l.8 .2l.8 .5l.8 .4l.8 .2l.8-.2l.8 .1l.8-.6l.8-.2l.8 .6l.8 .4l.8-.2l.8 .4l.8 .3l1 .2l1 .3l1 .3l1-.2l1 0l1 .5l1 .2l1-.1l1 .5l1-.1l1-.2l1 0l1 .1l1 .4l1 .2l1 .2l1-1.0l1 .1l1 .6l1 .3l1-.1l1 0l1 .3l1 0l1 .3l1 .3l1 0l1-.6l1 .2l1 .4l1 0l1 0l1 .4l1 .1l1 .2l1 .1l1-.1l1 .3l1-.1l1 .1l1 .1l1-.6l1-.2l1 .4l1 .7l1-.1l1-.2l1-.2l1 0l1 .5l1 .2l1 .2l1 .2l1 0l1 .1l1-.2l1 .3l1-.2l1-.3l1 .3l1 .3l1-.7l1-.1l1 .2l1 .2l1 .2l1 .3l1-.3l1-.1l1-.3l1-.2l1 .3l1 .1l1 .4l1 .1l1-.3l1 .1l1-.1l1 .3l1-.6l1 .1l1 .3l1-.2l1-.1l1 .4l1-.1l1 .2l1-.3l1 .5l1 .2l1 0l1 0l1-.3l1 .1l1 .2l1-.4l1 0l1 .1l1 .1l1-.2l1-.4l1 .6l1 .4l1 .3l1-.1l1-.4l1-.1l1-.1l1 .2l1 .1l1 .5l1 0l1-.1l1-.2l1 .1l1 .1l1-.1l1 .3l1 .1l1-.3l1 0l1 .1l1 .6l1 0l1 0l1-.4l1-.2l1 .4l1 .5l1 .2l1-.3l1-.2l1 .1l1 .1l1-.3l1 .2l1-.1l1 .2l1 .2l1 0l1 0l1 .2l1-.3l1-.2l1 0l1 .4l1 .2l1-.4l1-.3l1 .6l1 .1l1-.3l1 .1l1 .1l1-.1l1 .3l1-.1l1-.5l1-.3l1 .6l1 .9l1 0l1-.5l1-.1l1 .7l1 .1l1 .2l1 .1l1-.4l1-.2l1-.2l1 .1l1 0l1 .4l1 .1l1 .2l1-.3l1 0l1-.1l1 .3l1-.1l1 .4l1-.2l1-.7l1 .1l1 .6l1 .3l1 .3l1-.5l1-.1l1 .2l1 .3l1 .3l1-.4l1-.3l1 .7l1-.2l1-.5l1 .1l1 .3l1 .3l1 .2l1-.3l1-.2l1 0l1 .3l1 .2l1-.1l1-.5l1 .3l1 .6l1 .5l1-.4l1-.9l1 .1l1 .7l1 .2l1 .1l1 .4l1-.5l1 .3l1-.1l1-.4l1-.4l1 .4l1 .8l1 0l1 .1l1-.1l1-.1l1 .2l1 0l1-.2l1-.1l1 0l1 .3l1 .1l1 .2l1-.3l1-.3l1-.1l1 .9l1 .6l1-.8l1-.5l1 .6l1 0l1 .2l1 .1l1 .1l1-.2l1 0l1 .3l1-.1l1 .1l1-.2l1 0l1 0l1 .2l1-.3l1 0l1 .5l1 0l1-.2l1-.2l1 .2l1 .3l1 0l1-.2l1 0l1-.4l1 .3l1 .1l1 .3l1 .1l1 .5l1-.4l1-.3l1-.7l1 .3l1 .6l1-.1l1 .2l1-.2l1 .1l1-.1l1 .2l1 .2l1 0l1-.5l1-.2l1 .5l1 .1l1 0l1-.3l1 .3l1-.2l1-.3l1 .2l.3 .4l.4-.1l.3 0l.4-.1l.3 0l.4 .3l.3-.3l.4-1.0l.3-.9l.4-2.4l.3-7.6l.4-11.7l.3-14.2l.4-13.1l.3-12.0l.4-9.2l.3-3.7l.4-.9l.3-.5l.4-.2l.3 .3l.4-.2l.3-.4l.4-.7l.3-.2l.4-.3l.3 .2l.4 .2l.3 0l.4-.4l.3-.2l.4-.2l.3-.1l.4 .6l.3 0l.4 .2l.3-.3l.4-.6l.3 .2l.4 .5l.3 .2l.4 0l.3-.1l.4 .1l.3-.3l.4 0l.3 .1l.4 .6l.3 .1l.8 .2l.8-.2l.8-.3l.8 .8l.8 .8l.8 .6l.8 .7l.8 .5l.8 .1l.8 .4l.8 .1l.8 .7l.8 .3l.8 .7l.8 .4l.8 1.2l.8 1.1l.8 .4l.8 .9l.8 .6l.8-.2l.8 .9l.8 1.6l.8 1.0l.8 1.7l.8 2.4l.8 1.9l.8 1.8l.8 2.2l.8 3.0l.8 3.2l.8 3.4l.8 3.3l.8 2.8l.8 3.6l.8 2.8l.8 2.3l.8 1.6l.8 1.4l.8 1.4l.8 1.6l.8 1.5l.8 1.7l.8 .7l.8 .2l.8 .4l.8 1.1l.8 .7l.8 .2l.8 .9l.8 .8l.8-.1l.8 .1l.8 1.0l.8 .6l.8-.1l.8 .3l.8 .6l.8 0l.8-.2l.8 .3l.8 .3l.8 .4l.8 .4l.8-.2l.8 .3l.8 0l.8-.2l.8 .8l.8 .2l.8-.4l.8 .1l.8 1.1l.8 .5l.8-.3l.8 0l.8 .2l1-.1l1 .2l1 .4l1-.2l1 .6l1 .2l1 0l1-.5l1 .6l1 .1l1 0l1-.3l1 .1l1 .7l1 .1l1 0l1 .1l1-.1l1-.5l1 .2l1 .5l1 .7l1-.1l1-.8l1-.1l1 .7l1 .3l1 0l1-.3l1 .5l1 0l1 .2l1-.2l1-.3l1 .1l1 .2l1-.7l1 .9l1 .3l1-.3l1 .3l1-.2l1-.3l1 .4l1 .4l1-.1l1-.1l1 .4l1 .3l1 .1l1 0l1 .1l1-.5l1-.1l1-.1l1 .4l1 .2l1 0l1-.1l1 .3l1-.4l1-.2l1-.1l1 1.1l1 .3l1-.2l1 0l1-.4l1 0l1 .2l1 .4l1 .1l1 0l1-.3l1 0l1 .6l1 .2l1 0l1-.1l1 0l1-.3l1 .1l1 .5l1-.3l1-.1l1 .4l1 .7l1-.2l1 0l1 .2l1 .6l1-.3l1 .1l1 .1l1-.1l1-.3l1-.2l1 .7l1 .6l1-.1l1 .2l1-.2l1-.2l1-.3l1 .1l1 .4l1 .1l1-.6l1-.2l1 .4l1 .3l1 .4l1 .2l1-.2l1 .4l1-.2l1-.4l1-.2l1 .9l1 .3l1-.3l1-.2l1-.4l1-.3l1 .1l1 0l1 .1l1 .2l1 .3l1 .5l1 .2l1-.2l1 .1l1-.2l1 0l1 .1l1-.1l1 .2l1-.2l1-.1l1 .3l1 .6l1-.2l1-.3l1 .1l1-.2l1 .1l1-.1l1-.2l1 .5l1 .3l1 0l1 0l1 .2l1-.2l1 .4l1 .1l1-.1l1 .1l1-.4l1 0l1 0l1-.2l1 .2l1 .3l1 .1l1-.1l1-.2l1 0l1 0l1-.1l1 0l1-.5l1 .2l1 .3l1 .2l1 .2l1 0l1 .3l1-.4l1 .4l1-.5l1-.3l1 .1l1 .1l1 .1l.3 .1l.4 .3l.3 0l.4-.3l.3 .4l.4-.1l.3-.3l.4-.4l.3-1.1l.4-4.7l.3-9.9l.4-12.2l.3-13.8l.4-13.0l.3-10.8l.4-6.4l.3-1.8l.4-.7l.3-1.0l.4-.4l.3 .4l.4 .2l.3-.6l.4-.5l.3 .4l.4-.3l.3-.2l.4-.4l.3-.1l.4-.1l.3-.7l.4 .2l.3 .3l.4 0l.3-.1l.4 .6l.3-.1l.4-.3l.3-.3l.4 .5l.3 .5l.4 .2l.3-.1l.4-.1l.3 0l.4 .2l.3 .2l.4-.2l.3 .1l.8 .4l.8 .2l.8 .4l.8 .3l.8 .3l.8 1.0l.8 .3l.8-.1l.8 .3l.8 .6l.8 .5l.8 .5l.8 .8l.8 .5l.8 .6l.8 1.1l.8 .5l.8 .5l.8 .4l.8 .7l.8 1.1l.8 1.5l.8 1.2l.8 .9l.8 1.3l.8 2.0l.8 2.0l.8 2.8l.8 2.9l.8 2.9l.8 3.6l.8 3.1l.8 3.2l.8 3.3l.8 3.0l.8 2.3l.8 1.5l.8 1.2l.8 1.8l.8 1.6l.8 .5l.8 .8l.8 1.5l.8 1.1l.8 .5l.8 1.0l.8 .6l.8 .7l.8 .6l.8 .3l.8 .3l.8 .7l.8 .8l.8 .2l.8 .1l.8-.1l.8 .2l.8 .3l.8 .8l.8 .4l.8 .2l.8 .1l.8 0l.8 .3l.8 .5l.8 .1l.8 .5l.8 .3l.8-.6l.8 .3l.8 .9l.8 .3l.8 .3l.8 .1l.8-.2l.8 .6l1 .1l1 0l1-.2l1-.2l1-.1l1-.1l1 .2l1 .3l1 .3l1-.2l1-.1l1 .3l1-.2l1 .4l1 .3l1-.4l1 0l1 .6l1 .4l1-.2l1-.1l1 0l1-.5l1 .2l1 .7l1 .3l1 0l1-.1l1-.1l1-.5l1 .1l1 .4l1 .5l1-.1l1-.1l1-.2l1 .3l1 .3l1 .1l1 .1l1 .3l1-.5l1 .1l1-.4l1 .1l1 .5l1-.1l1-.1l1 .5l1 .6l1-.6l1 0l1 .4l1-.1l1 .4l1-.6l1 .1l1 .4l1-.2l1-.2l1-.2l1 .5l1 .3l1-.2l1 0l1 .6l1 .1l1-.2l1-.2l1-.1l1 .5l1-.1l1-.2l1 .2l1 .3l1 .1l1-.2l1-.2l1-.1l1 .2l1 .2l1 .2l1 0l1-.1l1 .2l1 .2l1-.1l1 0l1 0l1 .1l1 .2l1 .1l1-.1l1 0l1 .3l1 .3l1 0l1-.5l1 .3l1-.1l1 .3l1 .4l1 .1l1-.4l1-.1l1-.6l1 .2l1-.2l1 .2l1 .1l1 0l1 .3l1-.1l1-.1l1 .2l1 .3l1 .3l1-.2l1-.3l1 0l1 .6l1 .2l1 0l1-.1l1 .4l1 .2l1 .2l1-.5l1 .2l1 .3l1-.5l1-.1l1-.1l1 .2l1 .3l1-.1l1-.1l1 .6l1-.3l1 .1l1 0l1 .1l1 .1l1 .1l1 .1l1 .1l1-.7l1-.4l1-.2l1 .1l1 .6l1-.4l1 0l1 .5l1 .1l1-.2l1-.6l1 .1l1 .3l1 .4l1 .2l1 .2l1 .6l1 .3l1-.8l1 0l1 .1l1-.3l1-.2l1 .5l1 .2l1-.2l1-.6l1-.4l1 .4l1 .8l1 0l1-.5l1 .2l1 .5l1-.1l1-.6l1 0l1 0l1 0l1 .4l1-.5l.4 .3l.3 .4l.4-.1l.3-.3l.4-.6l.3 .4l.4 0l.3-.9l.4-2.4l.3-6.7l.4-10.6l.3-12.5l.4-13.6l.3-12.1l.4-9.0l.3-4.2l.4-.1l.3-.5l.4-.7l.3-.6l.4-.5l.3-.4l.4 .3l.3 .1l.4-.4l.3-.2l.4 .4l.3-.1l.4-.1l.3 .1l.4-.1l.3 .1l.4-.5l.3-.1l.4-.1l.3 .3l.4-.1l.3 .1l.4 0l.3 0l.4 .8l.3-.1l.4-.3l.3 .2l.4-.1l.3 0l.4 .6l.3 0l.8 .1l.8 .2l.8 .4l.8 .3l.8 .3l.8 .4l.8 .2l.8 .1l.8 .8l.8 1.1l.8 .6l.8 0l.8 .3l.8 .8l.8 .3l.8 .3l.8 .5l.8 .9l.8 1.6l.8 .4l.8 0l.8 1.2l.8 1.2l.8 1.7l.8 1.2l.8 1.9l.8 2.8l.8 2.7l.8 2.1l.8 3.1l.8 3.3l.8 3.5l.8 3.2l.8 2.9l.8 2.6l.8 2.5l.8 1.7l.8 1.8l.8 1.3l.8 .6l.8 1.2l.8 1.2l.8 .7l.8 1.1l.8 .8l.8 .3l.8 1.0l.8 .8l.8 .3l.8 .3l.8 .4l.8 .7l.8 .6l.8 .5l.8 .6l.8 0l.8 .3l.8 .8l.8 .2l.8 .3l.8 .2l.8-.3l.8 .2l.8 .7l.8-.5l.8 .6l.8 .8l.8-.1l.8 .2l.8 .3l.8 .7l.8-.1l.8 0l.8-.1l.8 .5l.8 .3l.8-.1l1 .3l1 0l1 .2l1-.1l1-.1l1 0l1 .5l1 0l1 .1l1 .6l1-.2l1-.2l1 0l1 .4l1-.1l1-.3l1 .3l1 .3l1 .1l1 .3l1 .2l1 .1l1-.6l1-.1l1 0l1 .1l1 .1l1 .1l1 .1l1-.3l1 .3l1 .4l1 .1l1-.2l1 0l1 .1l1 0l1 0l1 .3l1 .4l1 .1l1-.5l1 .1l1 0l1 0l1-.1l1 .1l1 .2l1-.1l1 0l1 .4l1-.2l1-.1l1 .1l1-.1l1 0l1 .3l1-.1l1-.2l1 .5l1-.2l1-.3l1 .3l1 .1l1 .1l1-.2l1 0l1-.2l1 .1l1 .5l1 .2l1 .3l1-.3l1 0l1-.1l1 .6l1-.3l1-.3l1 .3l1 .3l1 .6l1-.2l1-.5l1 .3l1 .1l1-.3l1 0l1 0l1 0l1 .2l1 0l1 .1l1-.1l1 .2l1 .6l1-.1l1 .2l1 .4l1-.6l1-.6l1-.3l1 .3l1 .5l1-.5l1-.1l1 .6l1 .4l1 .2l1-.5l1 .2l1-.4l1 .7l1 0l1-.3l1 .5l1 0l1 0l1 0l1 .3l1-.2l1-.5l1-.1l1 .3l1 .5l1 .1l1-.2l1-.1l1-.1l1 .4l1 .2l1 .2l1 .3l1-.1l1-.3l1 .6l1-.1l1-.4l1-.1l1 0l1-.3l1 0l1 .2l1-.3l1-.4l1 .6l1-.2l1 .4l1 0l1 0l1 .3l1-.3l1-.1l1 .4l1 0l1-.2l1-.1l1 .1l1 .4l1 .2l1 0l1-.2l1-.2l1 .6l1 .7l1-.4l1-.6l1 .2l1-.1l1-.1l1-.1l1-.2l1 0l1 .4l1-.2l1 0l1 .2l1 .1l1-.1l1 .1l1 0l1 .2l1 .2l1 .3l1-.3l1-.3l1 .3l1 .1l1-.4l1-.3l1-.1l1 .8l1 .1l1 0l1-.8l1-.3l1 .6l1 .1l1 .1l1 0l1 .2l1-.1l1 0l1 .1l1-.2l1 .1l1 .4l1-.2l1 0l1 .1l1-.1l1 .2l1 .4l1-.3l1-.9l1-.4l1 .2l1-.3l1-.1l1 .4l.4 .3l.3 .4l.4 .4l.3 .2l.4-.6l.3-.2l.4 .1l.3-.4l.4-1.5l.3-5.9l.4-9.8l.3-11.4l.4-12.9l.3-11.8l.4-9.6l.3-5.9l.4-1.5l.3-.7l.4-.8l.3-.1l.4-.1l.3 0l.4-.5l.3-.3l.4 0l.3 .4l.4-.5l.3-.5l.4-.1l.3-.1l.4 .6l.3 .1l.4-.3l.3-.2l.4-.2l.3 .6l.4 0l.3 .3l.4-.5l.3 .2l.4 .3l.3 0l.4-.1l.3 .2l.4 0l.3-.2l.4-.1l.3 .6l.8 .1l.8 .2l.8 .3l.8 .3l.8 .6l.8 1.1l.8 .4l.8 0l.8 .3l.8 .4l.8 .2l.8 .7l.8 .5l.8 .4l.8 .5l.8 .7l.8 1.0l.8 .6l.8 .6l.8 1.1l.8 .9l.8 1.0l.8 1.4l.8 .8l.8 1.3l.8 2.3l.8 2.4l.8 3.0l.8 2.9l.8 3.1l.8 3.3l.8 3.0l.8 2.9l.8 2.5l.8 2.2l.8 2.5l.8 2.2l.8 .9l.8 1.2l.8 1.2l.8 1.2l.8 .7l.8 1.0l.8 1.0l.8 .5l.8 .7l.8 .7l.8 .8l.8 .6l.8 .5l.8 .2l.8 .1l.8 .5l.8 .6l.8 .4l.8 .3l.8-.1l.8 .2l.8 .4l.8 .6l.8 .1l.8 .2l.8 .6l.8 .1l.8 .1l.8 .6l.8 .3l.8 .4l.8 .2l.8-.1l.8 .2l.8 .4l.8 .4l.8 .1l.8 .3l.8-.2l.8 .3l1 .3l1-.5l1 .1l1 .7l1 .3l1 .1l1 .1l1 0l1-.3l1 .1l1 .1l1-.4l1 0l1 .4l1 .5l1-.1l1-.5l1 .1l1 .2l1 .2l1 .2l1-.1l1-.1l1 .5l1 .1l1-.5l1 .2l1 .4l1 0l1-.1l1 0l1 .3l1-.4l1 .5l1 .2l1-.3l1 .3l1 0l1-.4l1 .3l1 .3l1-.4l1-.4l1-.5l1 .3l1 .5l1 .4l1 .3l1 .3l1 .2l1 0l1 .4l1-.3l1-.2l1-.4l1 .2l1 .3l1 0l1-.3l1-.1l1-.1l1 .2l1 0l1 .4l1 .1l1 .1l1 0l1 .1l1 0l1-.3l1-.2l1 .5l1-.1l1 .3l1 .1l1-.1l1 0l1 0l1 0l1 0l1 0l1 .2l1 .1l1-.2l1 0l1-.3l1 0l1-.1l1 .5l1 .3l1 0l1-.3l1 .3l1-.2l1 0l1 .3l1 .5l1 0l1 .3l1-.2l1-.3l1 .2l1 .1l1-.4l1-.1l1 .2l1 0l1 .2l1 .5l1-.3l1-.2l1-.2l1 0l1 .4l1 .2l1 .8l1-.5l1-.6l1-.2l1 .2l1 .3l1 0l1 .2l1 .2l1 0l1-.1l1-.1l1-.3l1-.2l1-.1l1 .5l1 .4l1-.2l1-.1l1 .3l1-.4l1-.2l1 .1l1 .2l1 .1l1-.3l1 0l1 .6l1 .2l1 .1l1 0l1 0l1 .3l1-.4l.3-.1"/>
<path stroke="#5e2a96" d="M98.6 1230.5l1-.2l1-.2l1-.1l1-.2l1 .3l1 0l1 .2l1 .3l1-.2l1-.2l1 0l1 .1l1 .1l1-.8l1 .1l1 .1l1 .3l1-.1l1 .2l1 .4l1-.2l1-.2l1-.3l1-.2l1 .1l1 .4l1-.4l1 .2l1 .6l1-.3l1-.3l1-.2l1-.2l1 .4l1 .2l1-.5l1 .2l1 .4l1-.3l1 .3l1 .2l1-.6l1-.2l1-.3l1-.1l1 .8l1 .1l1-.3l1 0l1-.3l1-.3l1 .2l1 0l1 .1l1 .4l1-.4l1-.1l1 .3l1 .3l1 .3l1-.5l1-.5l1 .1l1 .4l1-.2l1 .3l1 .2l1-.8l1-.3l.3 .4l.4 .3l.3 0l.4-.4l.3 .3l.4-.4l.3-1.0l.4-.8l.3-5.5l.4-10.3l.3-13.7l.4-13.8l.3-12.5l.4-8.5l.3-3.3l.4-.8l.3-1.4l.4-.8l.3-.1l.4 .4l.3-.6l.4-.7l.3 .1l.4 .4l.3 0l.4-.4l.3-.4l.4-.1l.3-.3l.4 .2l.3 .7l.4 .2l.3-.3l.4-.4l.3 .2l.4 .5l.3 .6l.4-.5l.3-.3l.4 .2l.3 .3l.4 .3l.3 .5l.4 .6l.3-.5l.4-.1l.3 .8l.8 .3l.8 .4l.8 .6l.8 .7l.8 .6l.8 .4l.8 .3l.8 .3l.8 .2l.8 .4l.8 .6l.8 .4l.8 .2l.8 .7l.8 1.3l.8 .7l.8 .6l.8 .4l.8 .5l.8 .6l.8 .3l.8 .4l.8 .7l.8 1.2l.9 1.3l.8 1.2l.8 1.5l.8 1.8l.8 2.1l.8 3.1l.8 2.3l.8 2.2l.8 3.2l.8 2.6l.8 2.9l.8 2.9l.8 2.6l.8 2.2l.8 2.1l.8 2.1l.8 2.2l.8 1.2l.8 1.0l.8 1.4l.8 1.5l.8 1.2l.8 1.1l.8 .9l.8 .5l.8 .9l.8 .6l.8 .6l.8 .5l.8 .7l.8 .4l.8 .5l.8 .4l.8 .5l.8 1.0l.8 .3l.8 .1l.8 .3l.8 .1l.8 .2l.8 0l.8 .5l.8 .4l.8 .2l.8 .3l.8-.1l.8 .3l.8 .4l.8 .2l.8 .1l.8 .4l.8 0l1-.1l1-.3l1 0l1 .2l1 .5l1-.3l1-.3l1 .4l1 .1l1-.4l1 .3l1 .5l1-.5l1 .1l1 .6l1-.8l1-.6l1 .1l1 .4l1 .2l1-.5l1-.2l1 .6l1 .1l1-.2l1 .1l1 .5l1-.2l1-.3l1 .1l1 .1l1-.1l1 .4l1 .6l1 .1l1 .1l1-.1l1-.2l1-.2l1-.3l1 .6l1 .2l1-.1l1-.2l1-.3l1 0l1-.1l1 .2l1 .2l1 .1l1 .3l1-.3l1 .1l1 .1l1-.1l1 .2l1-.1l1 0l1 .2l1-.1l1-.1l1-.4l1 0l1 .5l1 .4l1-.9l1-.3l1 .2l1 .2l1 .3l1 .2l1-.2l1 0l1-.1l1-.3l1 .1l1 .3l1 .1l1 .2l1-.3l1-.3l1-.3l1 .1l1 .4l1 .2l1 .1l1-.4l1 .1l1-.3l1-.5l1 .2l1 .4l1-.1l1 0l1 .4l1-.2l1 .1l1 0l1-.2l1 .1l1-.5l1 0l1 .7l1 .2l1-.3l1-.4l1-.1l1-.2l1 .1l1 .2l1 .1l1 .1l1-.5l1 0l1-.1l1 .2l1 .8l1 .1l1-.3l1-.1l1 0l1-.5l1-.9l1 .2l1 .6l1-.3l1 .8l1 .2l1-.2l1 0l1-.1l1-.1l1 .4l1-.4l1-.2l1 .6l1-.2l1 0l1 .3l1 .2l1-.6l1-.3l1-.3l1 .4l1 .4l1-.5l1-.4l1-.2l1 0l1 .2l1 .4l1 0l1-.4l1 .5l1 .5l1-.2l1-.4l1 .2l1-.3l1-.3l1-.2l1 .1l1 .4l1 .2l1-.6l1 0l1 .7l1 0l1 .6l1-.4l1-.5l1 .5l1 0l1-.6l1 .3l1 .4l1-.5l1 .3l1 .3l1 .4l1-.2l1-.6l1-.4l1 .3l1 .3l1 0l1-.2l1 0l1 .5l1-.3l1-.1l1 .2l1 .1l1 .1l1 .1l1-.4l1 .3l1 .2l1-.2l1 .1l1 .2l1 0l1-.3l1-.4l1 .1l1 .3l1 .1l1-.1l1-.1l1-.2l1 .5l1 0l1 .8l1 .4l1-.5l1-.3l1-.4l1-.1l1 .3l1 .4l1-.3l1-.3l1 .4l1 0l1 .3l1-.2l1-.3l1 .2l1 .3l1-.1l1 .3l1-.2l1 .2l1-.5l1-.1l1 .7l1 .3l1-.3l1 0l1-.4l1-.1l1 .5l1 .6l1-.7l1-.6l1-.2l1 .7l1 .4l1-.1l1 0l1 0l1 .4l1-.2l1-.5l1 .2l1 .6l1-.4l1-.6l1 .3l1 0l1-.3l1 .8l1 .4l1-.5l1-.2l1 .2l1 0l1 .2l1 0l1-.4l1 .4l1 .6l1-.4l1 0l1 0l1-.4l1 .1l1 .8l1-.4l1-.3l1 .3l1-.2l1-.2l1 0l1-.2l1 .2l1 .6l1-.1l1 0l1 .3l1-.1l1-.5l1-.3l1 .4l1 .4l1-.2l1 .5l1-.5l1-.5l.3 .3l.4 .5l.3-.3l.4 .1l.3 .1l.4-.2l.3 .3l.4-.2l.3-1.2l.4-3.3l.3-7.7l.4-11.7l.3-13.5l.4-13.3l.3-11.5l.4-7.2l.3-2.2l.4-.5l.3 0l.4-.8l.3-.4l.4-.4l.3-.1l.4-.1l.3 .2l.4-.1l.3-.3l.4-.4l.3 .2l.4 .1l.3-.8l.4 .4l.3 .6l.4 .3l.3 .1l.4 .1l.3 0l.4 .2l.3-.2l.4-.1l.3-.1l.4 .4l.3 .4l.4 .4l.3-.3l.4 .3l.3 .2l.4 .4l.3 .5l.8 .2l.8 .3l.8 .8l.8 .8l.8 .4l.8 .2l.8 .1l.8 .8l.8 .2l.8 .3l.8 .6l.8 .3l.8 1.0l.8 .8l.8 0l.8 .4l.8 1.0l.8 .6l.8 .3l.8-.1l.8 1.1l.8 1.4l.8 .4l.8 1.1l.8 1.6l.8 1.7l.8 1.4l.8 1.5l.8 3.0l.8 2.8l.8 3.4l.8 2.8l.8 2.4l.8 3.2l.8 3.3l.8 2.6l.8 2.0l.8 1.8l.8 2.0l.8 1.7l.8 2.2l.8 1.6l.8 1.2l.8 .4l.8 1.3l.8 1.2l.8 .9l.8 .8l.8 1.0l.8 .8l.8 1.1l.8 .2l.8 .2l.8 .6l.8 .8l.8 .3l.8-.2l.8 0l.8 .9l.8 .5l.8 .4l.8 .3l.8 .3l.8 .1l.8 .4l.8 .3l.8 .4l.8 .1l.8 .2l.8 0l.8 0l.8 0l.8 0l.8 .5l.8 .3l.8 .4l.8 0l1 .3l1 0l1-.6l1-.4l1 .2l1 .4l1-.1l1 .1l1-.3l1 .1l1 .3l1-.1l1-.1l1 0l1 0l1 0l1 .1l1 0l1 .7l1-.5l1-.6l1-.2l1 .3l1 .5l1 .1l1 .3l1-.3l1-.2l1 .2l1 .1l1 0l1-.1l1 0l1-.2l1 .4l1 .1l1-.1l1-.1l1 .2l1 0l1-.3l1 .5l1 0l1 .2l1 .1l1-.7l1-.2l1 .1l1 .2l1-.2l1 .2l1 .6l1-.2l1 0l1 .3l1-.1l1-.6l1 .3l1 .3l1 0l1-.5l1 0l1 .2l1 0l1-.2l1-.1l1 .2l1 0l1 .1l1-.3l1-.1l1 .1l1 .3l1 .3l1-.5l1-.2l1 1.0l1 .1l1-.3l1-.2l1 .1l1 .1l1-.5l1 .3l1 .4l1 .2l1-.4l1 .1l1-.3l1-.5l1 0l1 .5l1-.4l1 .2l1 .4l1-.4l1 .3l1 .6l1-.1l1-.4l1-.3l1 .5l1-.2l1-.4l1-.5l1-.2l1 .6l1-.1l1-.2l1 .6l1 0l1-.3l1 0l1 .4l1-.1l1-.2l1 .3l1-.3l1-.2l1 .2l1 .2l1 .3l1-.3l1-.8l1 .2l1 .6l1 0l1-.4l1 .2l1 .3l1-.6l1 .6l1 .2l1-.5l1 0l1 .2l1 0l1 .2l1 0l1-.4l1 .1l1 .1l1-.2l1 .2l1 .1l1-.6l1 .2l1 0l1-.2l1 .3l1 .3l1 0l1-.3l1 .4l1 .2l1-.2l1 0l1 0l1-.1l1-.3l1 .4l1 .2l1 .2l1-.3l1-.4l1 .4l1 .3l1-.2l1-.5l1 0l1 .3l1-.3l1 .2l1-.1l1-.3l1 0l1 .1l1 .2l1-.2l1 0l1 .1l1 .2l1 0l1-.5l1 .2l1-.1l.3 .1l.4 .2l.3 .5l.4 0l.3-.5l.4 0l.3 .3l.4-.6l.3-.9l.4-5.4l.3-9.5l.4-13.1l.3-13.9l.4-11.6l.3-9.1l.4-4.0l.3-.8l.4-.6l.3-1.1l.4-.4l.3 .6l.4-.2l.3-.7l.4-.5l.3 .6l.4 .3l.3-.8l.4-.4l.3 0l.4 .3l.3-.2l.4-.3l.3 .3l.4 .4l.3-.2l.4 .4l.3 .4l.4-.2l.3-.4l.4 .4l.3-.3l.4 0l.3 .5l.4 0l.3 .6l.4 .7l.3 .1l.4 0l.3 .4l.8 .5l.8 .7l.8 .4l.8 .1l.8 .9l.8 .2l.8 .3l.8 .5l.8 .3l.8 .4l.8 .6l.8 .4l.8 .7l.8 .6l.8 .1l.8 .6l.8 .7l.8 .5l.8 .7l.8 .5l.8 .6l.8 .9l.8 1.3l.8 1.4l.8 .9l.8 1.8l.8 2.0l.8 2.2l.8 2.9l.8 3.4l.8 2.7l.8 2.3l.8 2.6l.8 3.2l.8 2.5l.8 2.0l.8 2.5l.8 2.2l.8 1.7l.8 1.4l.8 1.7l.8 1.4l.8 1.5l.8 1.0l.8 .9l.8 .7l.8 .7l.8 1.0l.8 .8l.8 .4l.8 .8l.8 .9l.8-.3l.8 0l.8 .5l.8 .7l.8 .3l.8-.2l.8 .4l.8 .9l.8 .1l.8 .7l.8 .1l.8-.6l.8 .8l.8 .3l.8 .1l.8 .3l.8 .2l.8 .4l.8 .4l.8-.4l.8-.2l.8 .6l.8 .3l.8 0l1-.2l1 .1l1 .2l1-.5l1-.2l1 .4l1-.2l1 .1l1-.3l1-.1l1 .3l1 0l1-.1l1 .4l1-.3l1 0l1-.3l1 0l1 .1l1 .3l1 .1l1 .1l1 .1l1 .3l1 0l1-.2l1 .1l1 .3l1 .1l1-.1l1-.2l1 0l1 .1l1 .1l1-.5l1 0l1 .2l1 .1l1-.1l1-.1l1 .1l1 .1l1-.4l1 .2l1 .1l1 .2l1-.2l1-.5l1 .8l1 .4l1 .1l1-.1l1-.1l1 0l1 0l1-.6l1 0l1 0l1 .4l1 .1l1 .2l1-.3l1-.3l1 0l1-.3l1-.3l1 .4l1 .1l1-.1l1-.1l1 .2l1-.1l1 .2l1 0l1-.2l1-.2l1 .5l1 .3l1-.3l1-.1l1 .3l1 0l1 0l1 .7l1-.1l1-.2l1-.3l1-.3l1-.3l1 .1l1 .2l1 .1l1-.3l1 0l1 .4l1 0l1 .1l1-.3l1-.2l1-.2l1-.3l1 .8l1 .2l1 0l1-.1l1 .4l1-.3l1-.9l1-.1l1 .4l1-.2l1 .2l1 .1l1 .2l1 .4l1-.1l1-.1l1 .1l1 .6l1-.4l1-.6l1 0l1-.2l1 0l1 0l1-.4l1-.2l1 .3l1 .2l1-.5l1 .4l1-.3l1 .1l1 .4l1 .3l1-.2l1-.4l1 .2l1 .3l1 .3l1-.2l1-.2l1 .1l1 .2l1-.5l1 0l1 .3l1 .1l1-.5l1 .5l1 .2l1-.5l1-.6l1 .2l1 .3l1 0l1-.3l1 .3l1 .2l1-.3l1 0l1-.2l1-.2l1 .3l1 .2l1 .1l1-.4l1-.2l1 .1l1 .1l1 .3l1-.3l1-.2l1 .5l1 0l1 0l1 .2l1 0l1-.4l1 .2l1 0l1-.1l1-.1l1-.1l1 .2l1 0l1 .3l.4 0l.3-.3l.4 .5l.3-.2l.4-.6l.3 0l.4 0l.3-.6l.4-2.1l.3-6.7l.4-11.2l.3-12.7l.4-12.7l.3-11.0l.4-7.0l.3-1.7l.4-.7l.3-.6l.4-.8l.3-.6l.4 .6l.3 .6l.4-.1l.3-.5l.4-.5l.3-.1l.4-.3l.3-.1l.4 .3l.3 .2l.4-.4l.3-.1l.4 .1l.3 0l.4 .6l.3 .4l.4 .1l.3-.1l.4-.3l.3 0l.4 0l.3 .7l.4 .5l.3-.4l.4 .4l.3 .4l.4-.1l.3 .6l.8 .1l.8 .4l.8 .8l.8 .6l.8 .4l.8 0l.8 .1l.8 0l.8 1.0l.8 1.0l.8 .1l.8 .7l.8 .6l.8 .3l.8 .2l.8 .4l.8 .5l.8 .4l.8 1.1l.8 .3l.8 .6l.8 .9l.8 1.2l.8 1.6l.8 1.7l.8 1.6l.8 2.0l.8 1.9l.8 2.8l.8 2.9l.8 2.6l.8 2.6l.8 2.6l.8 3.1l.8 2.4l.8 1.9l.8 2.0l.8 2.0l.8 1.4l.8 2.0l.8 1.9l.8 1.6l.8 .7l.8 1.1l.8 .6l.8 .1l.8 .7l.8 1.1l.8 1.3l.8 .7l.8 .1l.8 .5l.8 .2l.8-.1l.8 1.3l.8 .5l.8-.6l.8 .4l.8 .7l.8 .5l.8 .6l.8 .2l.8-.2l.8 .2l.8 0l.8 .2l.8 .4l.8 .2l.8 0l.8 .6l.8-.1l.8-.1l.8 .2l.8-.2l.8-.1l.8-.7l.8 .1l1 .5l1 .1l1 0l1 .1l1 .4l1 .1l1-.3l1 .3l1-.2l1-.6l1 0l1 .5l1 .2l1-.6l1-.2l1 .8l1 .3l1-.2l1 .4l1 .1l1-.6l1-.1l1 .2l1 .3l1-.3l1 .2l1 .6l1 .1l1-.1l1-.4l1 .1l1 0l1 .3l1 .1l1-.1l1-.1l1 0l1 .1l1-.1l1 0l1-.4l1-.2l1 0l1 .5l1 .4l1-.2l1-.5l1 .4l1 .2l1-.1l1 .2l1 .2l1 .3l1 .1l1 .1l1-.4l1-.3l1 .2l1-.4l1 .2l1-.3l1 .2l1 .4l1-.2l1 .3l1 0l1-.2l1 .2l1 0l1-.2l1-.1l1 .2l1-.1l1 0l1 .1l1 0l1 0l1 .1l1 0l1 .1l1 .2l1-.4l1-.3l1-.3l1-.1l1 .8l1 .3l1 0l1-.7l1 0l1 .4l1 .6l1-.1l1-.4l1 0l1-.1l1-.2l1 .2l1-.2l1 .3l1 .3l1-.2l1-.3l1 .2l1 .2l1-.3l1-.3l1 .2l1 .1l1 .1l1 .1l1-.1l1 .1l1 .3l1 .1l1 0l1-.3l1-.1l1 0l1-.4l1 .1l1 .5l1-.2l1-.2l1 0l1 .2l1-.1l1 .5l1-.2l1-.6l1 .1l1 .2l1 .4l1 0l1-.3l1 0l1 .2l1 0l1 .3l1-.3l1-.1l1-.4l1 .4l1 0l1 .3l1 .2l1-.5l1-.8l1 .1l1 .6l1-.1l1 .1l1 .5l1-.1l1 .2l1 0l1-.3l1-.1l1-.2l1 .3l1 .2l1 .4l1-.2l1-.4l1-.2l1 .1l1 .2l1 .3l1-.1l1-.6l1 0l1 .2l1-.2l1 .1l1-.3l1 .3l1 .1l1 0l1 0l1 .4l1 .2l1-.1l1-.3l1-.2l1-.1l1 0l1 .2l1 0l1 .1l1 .2l1 0l1-.3l1 .1l1 .2l1-.1l1-.4l1 0l1 .3l1-.2l1 .2l1 0l1 .4l1-.3l1 .5l1 0l1 .1l1-.1l1-.3l1 0l1 .4l1-.5l1-.2l1-.3l1 .3l1 .2l1-.2l1 0l1 0l1 0l.4 .3l.3 0l.4-.5l.3-.2l.4 .4l.3-.2l.4-.2l.3-.5l.4-.4l.3-5.2l.4-10.1l.3-11.7l.4-12.9l.3-11.5l.4-7.6l.3-3.0l.4-1.3l.3-.7l.4 .1l.3-.8l.4-1.1l.3 .1l.4 0l.3-.1l.4 0l.3-.2l.4 .1l.3 .3l.4-.7l.3 .2l.4 .2l.3-.5l.4-.1l.3 .3l.4 .5l.3-.1l.4 .2l.3-.3l.4 .1l.3 .6l.4 .2l.3-.4l.4 .1l.3 .5l.4-.1l.3 .1l.4 .3l.3 .4l.8 .2l.8 1.5l.8 .8l.8 .2l.8-.1l.8 .3l.8 .6l.8 .4l.8 .9l.8 .1l.8 .7l.8 .4l.8 .1l.8 .4l.8 .4l.8 .8l.8 .7l.8 .3l.8 .5l.8 .9l.8 1.1l.8 .9l.8 .9l.8 1.0l.8 1.6l.8 2.0l.8 1.8l.8 2.6l.8 3.2l.8 2.6l.8 2.5l.8 2.7l.8 2.9l.8 2.6l.8 2.0l.8 1.7l.8 2.2l.8 2.1l.8 1.7l.8 1.6l.8 1.1l.8 1.2l.8 1.2l.8 .8l.8 .8l.8 .2l.8 .9l.8 1.2l.8 .8l.8 .5l.8 .5l.8 .3l.8 .1l.8 .9l.8 .3l.8-.4l.8 .3l.8 .7l.8 .2l.8 .4l.8-.1l.8-.1l.8 .3l.8 .4l.8 .4l.8 .3l.8-.1l.8 .3l.8 0l.8-.1l.8-.4l.8 .3l.8 .1l.8 .6l.8 .3l.8 0l.8 .3l1-.3l1-.1l1-.3l1 0l1-.3l1 .3l1 .3l1-.2l1-.2l1 .1l1 .3l1 .1l1-.6l1 .1l1 .1l1 .1l1 .1l1 .3l1 0l1-.7l1 .1l1 .3l1-.1l1 .4l1-.1l1 0l1-.1l1 .4l1 .8l1-.3l1 .1l1-.2l1-.1l1-.2l1 .2l1-.4l1-.8l1 .1l1 .9l1 .3l1-.4l1-.1l1 .3l1 .4l1-.6l1 .5l1 .2l1-.7l1-.1l1 .2l1 .2l1 .4l1-.2l1-.2l1 .3l1 .2l1-.4l1-.1l1 .6l1 .4l1-.1l1-.3l1-.2l1 .2l1 0l1-.1l1 0l1 .2l1-.1l1-.5l1 .2l1-.1l1 .1l1 .1l1 .1l1-.2l1-.1l1 0l1-.1l1-.1l1 .4l1 0l1 .1l1 .1l1 .1l1-.1l1-.4l1 .2l1 .1l1-.2l1 0l1 .4l1 .3l1-.1l1 0l1 0l1 .3l1-.3l1 .3l1 .5l1-.6l1-.6l1-.5l1 .2l1 .9l1-.3l1-.5l1 0l1 0l1 .2l1 0l1 .4l1 .3l1-.2l1-.2l1 .1l1 .1l1-.6l1-.1l1 0l1 .1l1 .3l1-.1l1-.1l1 .3l1 0l1 .1l1-.2l1-.2l1-.1l1 .3l1 0l1 .3l1 0l1-.3l1 0l1 .5l1-.3l1 0l1-.1l1 .3l1 .1l1 .1l1-.1l1-.4l1-.2l1 .1l1-.1l1 .2l.3 .5"/>
<path stroke="#95218d" d="M98.6 1304.3l1 0l1 0l1 .1l1-.2l1-.2l1 .1l1 .3l1 .1l1-.6l1-.1l1 .3l1 .5l1-.4l1 .2l1-.1l1 0l1 .1l1-.2l1-.1l1 .3l1-.8l1-.4l1 .4l1 .4l1-.2l1 .2l1 .3l1-.1l1 0l1 .1l1-.2l1 .1l1 0l1 .3l1-.1l1-.3l1 .2l1 0l1-.1l1-.3l1-.4l1 .2l1 .5l1 0l1-.8l1-.2l1-.2l1 .3l1 .5l1 0l1 .3l1 0l1-.6l1 .2l1 .3l1 .1l1 .2l1 0l1-.3l1-.3l1 .6l1 .1l1-.7l1 0l1 .1l1-.1l1 .1l1-.3l.3-.5l.4-2.7l.3-5.3l.4-6.5l.3-7.1l.4-5.9l.3-3.9l.4-3.0l.3-2.9l.4-3.1l.3-3.0l.4-2.5l.3-1.9l.4-1.8l.3-1.8l.4-1.8l.3-2.0l.4-1.1l.3-.7l.4-.2l.3 0l.4-.2l.3-.1l.4-.1l.3-.4l.4-.3l.3 .2l.4 0l.3 0l.4 .5l.3-1.3l.4-.2l.3 .4l.4 0l.3 .1l.4 .4l.3 .4l.4 0l.3 .1l.4 .1l.3-.5l.4 .3l.3 .3l.4 .1l.3 .1l.4 .1l.3 0l.8 .3l.8 .5l.8 .7l.8 .7l.8 .6l.8 .2l.8-.4l.8 .6l.8 .7l.8 .8l.8 .6l.8 .5l.8 .8l.8 .3l.8 .7l.8 .7l.8 .5l.8 .5l.8 .9l.8 .6l.8 .6l.8 .4l.8 .6l.8 .4l.9 .6l.8 1.2l.8 1.5l.8 1.7l.8 1.6l.8 2.2l.8 2.7l.8 3.0l.8 3.2l.8 3.7l.8 3.5l.8 3.0l.8 2.4l.8 2.2l.8 3.0l.8 2.0l.8 1.0l.8 1.5l.8 .8l.8 .8l.8 .6l.8 .5l.8 .4l.8 .3l.8 .9l.8 .6l.8 .4l.8 .2l.8 .5l.8 .7l.8-.1l.8-.3l.8 .2l.8 .3l.8 .3l.8-.1l.8 .4l.8-.3l.8-.5l.8 .6l.8 0l.8-.1l.8 .3l.8 .5l.8 .4l.8-.5l.8-.5l.8 .2l.8 .2l.8-.3l.8 0l.8-.3l.8 0l1 .4l1 .3l1-.3l1-.1l1 .2l1-.2l1 0l1 .2l1 .5l1-.2l1 .2l1 0l1 .1l1-.6l1-.2l1-.3l1 .8l1 0l1-.1l1 .6l1 .4l1-.4l1-.3l1-.5l1-.5l1-.1l1 .4l1-.5l1 .3l1 .6l1-.4l1-.7l1 .1l1 .4l1-.5l1-.2l1-.1l1 .2l1 0l1 .2l1-.5l1-.3l1-.2l1 .9l1 .1l1-.5l1 0l1 .1l1-.1l1-.7l1 .2l1 .9l1-.1l1-.4l1-.2l1 .2l1 .1l1-.2l1-.5l1 .2l1 .1l1-.1l1-.3l1 0l1-.1l1 .1l1 .3l1 .1l1 .1l1 0l1-.3l1-.4l1 .2l1-.2l1-.3l1 .3l1 .4l1 .2l1-.4l1-.4l1 .2l1 .1l1 .3l1-.4l1 .3l1-.1l1 0l1-.2l1 .2l1-.1l1-.2l1-.2l1-.1l1-.1l1 .5l1 .1l1 .2l1-.4l1 .5l1-.2l1-.3l1 0l1-.4l1 0l1 .5l1-.6l1 .5l1 .4l1-.1l1 .1l1-.4l1-.1l1 .4l1 0l1-.1l1 0l1-.4l1 .3l1-.2l1 .1l1 0l1 0l1 .2l1 .3l1 0l1-.4l1-.3l1 0l1 .6l1-.1l1-.5l1 .2l1 .3l1-.5l1 .1l1 0l1-.1l1-.2l1-.2l1 .5l1-.1l1-.1l1 0l1 .7l1-.4l1-.8l1 .2l1 .2l1-.2l1-.2l1 0l1 .2l1 .4l1 .2l1 .2l1-.5l1-.6l1 .5l1 .4l1-.4l1 .2l1 0l1-.3l1 0l1 .1l1 .6l1-.1l1-.1l1 .1l1-.1l1-.5l1-.3l1-.1l1 .3l1 .6l1 .4l1-.2l1-.6l1 .2l1 .6l1 0l1-.6l1-.2l1 .1l1 .3l1 .2l1-.1l1-.2l1 .2l1-.4l1 .3l1 .4l1-.1l1-.3l1-.3l1 0l1-.2l1-.1l1 .2l1 .3l1-.4l1 .1l1 .6l1 0l1 .3l1 0l1-.3l1-.1l1-.5l1 .4l1 .4l1-.2l1 0l1 .6l1-.6l1-.6l1 .2l1-.6l1 .6l1 .2l1-.3l1-.2l1 .4l1 .6l1-.8l1-.2l1 .2l1 .2l1 .5l1-.3l1-.2l1 .2l1-.1l1-.2l1-.1l1 .1l1-.1l1 0l1 .2l1 .2l1-.5l1 .3l1 .2l1-.2l1 0l1 .2l1-.2l1 .1l1 .1l1-.1l1 0l1 .3l1 0l1-.5l1 .2l1-.3l1-.2l1 .3l1-.1l1-.2l1 .6l1-.2l1 .1l1 .1l1 0l1-.1l1 0l1-.1l1 0l1 .3l1-.2l1-.1l1-.3l1 0l1 .1l1-.1l1 .5l1-.3l1-.1l1 0l1 .2l1 .2l1-.1l1-.4l1-.2l1 .3l1 0l1 0l1 .3l1-.4l1 0l1 .4l1-.2l1-.1l1-.3l1-.1l1 0l1 0l1 .6l.3 .3l.4 .2l.3-.7l.4-.8l.3-1.1l.4-4.7l.3-6.3l.4-7.3l.3-6.0l.4-3.4l.3-3.1l.4-2.9l.3-2.9l.4-2.4l.3-2.4l.4-2.6l.3-2.1l.4-2.0l.3-1.9l.4-1.1l.3-.7l.4-.8l.3-.6l.4-.4l.3 .3l.4-.2l.3-.7l.4 .8l.3-.1l.4-.7l.3-.2l.4 .1l.3-.1l.4-.2l.3 .2l.4 .3l.3 .3l.4-.6l.3-.2l.4 .4l.3 0l.4 0l.3 .1l.4-.1l.3 .1l.4 .1l.3 .1l.8 .6l.8 1.0l.8 0l.8 0l.8 .5l.8 .9l.8 .1l.8 .3l.8-.1l.8 .5l.8 .9l.8 .4l.8 .9l.8 .7l.8 .2l.8 .5l.8 .6l.8 .5l.8 .6l.8 .6l.8 .6l.8 .8l.8 .8l.8 .7l.8 .6l.8 .8l.8 1.5l.8 1.5l.8 1.3l.8 1.8l.8 2.5l.8 1.9l.8 3.2l.8 3.3l.8 3.6l.8 3.4l.8 2.4l.8 2.5l.8 2.5l.8 1.6l.8 1.6l.8 1.4l.8 1.2l.8 .6l.8 1.0l.8 .9l.8 .5l.8 .3l.8 .4l.8 .7l.8 .7l.8-.2l.8-.2l.8 .3l.8 .5l.8 .5l.8 .1l.8 .5l.8 .2l.8-.4l.8 .2l.8 .2l.8 .4l.8 .1l.8-.2l.8-.3l.8 .1l.8 .2l.8 0l.8-.1l.8 .2l.8 .2l.8-.1l.8-.3l.8 0l.8-.2l.8 .2l1 .4l1-.1l1 .1l1 .2l1-.3l1-.1l1-.2l1 .5l1 0l1 .1l1 0l1-.2l1-.1l1-.4l1-.1l1 0l1 .6l1 .2l1 .2l1 0l1-.1l1-.6l1-.5l1 .4l1 .7l1-.2l1 0l1-.1l1-.2l1-.3l1-.2l1 .3l1 0l1 .4l1-.1l1-.1l1-.4l1-.5l1 .3l1 .4l1-.5l1 .1l1 .4l1-.6l1 .3l1 .4l1 .4l1-.1l1-.5l1-.6l1 .1l1-.1l1 .3l1-.1l1 .5l1 0l1-.3l1 .1l1 .1l1-.1l1 0l1 .2l1-.2l1-.1l1 0l1 0l1 .4l1-.2l1-.8l1 .3l1 .2l1 .1l1 .2l1 .3l1-.2l1-.7l1 .2l1-.2l1 .5l1 0l1-.4l1 0l1 .2l1 .3l1-.4l1 0l1 .3l1 .3l1-.5l1 0l1-.1l1 .2l1-.3l1 .2l1 .1l1-.1l1 .4l1 .2l1-.4l1-.1l1 .1l1 .2l1-.1l1-.3l1-.2l1-.1l1 .1l1 .3l1 .4l1-.4l1-.8l1 .3l1 .7l1-.2l1-.7l1 .4l1 .4l1-.5l1 0l1 0l1-.1l1 .4l1 0l1-.2l1-.1l1 .3l1-.3l1-.2l1 0l1-.2l1 .3l1 .6l1-.6l1-.3l1 .3l1 .2l1 0l1-.2l1-.5l1 0l1-.1l1 .6l1 .2l1-.1l1-.7l1-.2l1 .4l1-.1l1-.2l1 0l1-.2l1 .1l1 .6l1 .2l1 0l1-.1l1-.1l1 0l1-.2l1 0l1-.2l1-.4l1 .7l1 .6l1-.2l1-.5l1 0l1 .1l1 .4l1-.1l1-.7l1-.3l1 .1l1 .2l1 .2l1-.8l1-.1l1 0l1 .3l1 .3l1-.3l1 .5l1 .2l1-.2l1-.1l1-.3l.3 0l.4 0l.3 .3l.4-.1l.3 0l.4-.3l.3-.7l.4-2.6l.3-5.0l.4-6.8l.3-6.4l.4-4.7l.3-3.3l.4-3.3l.3-2.8l.4-2.3l.3-2.8l.4-2.9l.3-1.6l.4-1.9l.3-1.6l.4-1.6l.3-1.2l.4-1.2l.3-.4l.4-.6l.3-.6l.4-.4l.3 .4l.4 .2l.3-.3l.4-.1l.3-.2l.4 0l.3-.3l.4-.1l.3-.2l.4 .4l.3 .4l.4-.2l.3-.7l.4-.3l.3 .4l.4 0l.3 .4l.4 .2l.3-.5l.4 .4l.3 .5l.8 .6l.8 .5l.8 .6l.8 .2l.8 .1l.8-.1l.8 .7l.8 .5l.8 .6l.8 .6l.8-.2l.8 .3l.8 1.4l.8 .4l.8 .5l.8 .9l.8 .5l.8 .4l.8 .5l.8 .5l.8 .2l.8 1.0l.8 1.2l.8 .4l.8 .8l.8 1.2l.8 .9l.8 1.5l.8 1.2l.8 1.5l.8 2.3l.8 2.5l.8 2.6l.8 3.7l.8 3.3l.8 3.2l.8 2.2l.8 2.4l.8 2.3l.8 2.1l.8 1.9l.8 1.6l.8 .6l.8 .8l.8 1.1l.8 .5l.8 .1l.8 .4l.8 .6l.8 .7l.8 0l.8 .4l.8 .5l.8 0l.8 .2l.8-.3l.8 .4l.8 .8l.8-.1l.8-.4l.8-.1l.8 .1l.8 .6l.8 .1l.8 .2l.8 .2l.8 .7l.8-.4l.8-.8l.8 .1l.8-.1l.8 .3l.8 .1l.8 0l.8-.3l.8-.3l1 .4l1-.3l1 .1l1 .2l1 .2l1-.3l1 .2l1 .4l1 .3l1-.5l1 .1l1 .1l1-.2l1 .1l1 .1l1-.7l1-.5l1 .5l1 .5l1 .1l1 0l1 .1l1-.3l1-.4l1-.3l1 .1l1 .5l1-.3l1 0l1 .4l1-.4l1 .2l1-.3l1-.1l1 .1l1 .2l1 0l1 .1l1-.1l1 .4l1-.6l1-.6l1 .1l1 .2l1 .2l1-.1l1 .4l1-.4l1 .1l1 .2l1-.4l1 .7l1-.6l1-.3l1 .7l1-.3l1-.4l1 .6l1 .6l1 0l1-.5l1-.5l1 .1l1 .4l1-.1l1-.1l1 .2l1-.4l1 .4l1-.5l1-.1l1 .3l1 .3l1 0l1-.8l1 0l1 .1l1 .2l1-.2l1 .1l1 .7l1-.1l1-.2l1 .1l1-.4l1-.6l1 .1l1 .6l1 0l1-.1l1-.2l1 .3l1 .2l1 .4l1-.1l1-.4l1 .5l1 0l1-.1l1-.3l1-.1l1-.4l1 .4l1-.2l1 0l1-.1l1 .1l1-.1l1-.3l1 .4l1 .3l1-.1l1 .4l1 .2l1-.4l1 0l1-.4l1-.3l1 .2l1-.3l1 .4l1 .5l1-.7l1-.4l1 .3l1 .4l1 0l1-.4l1-.1l1 .3l1 .1l1 0l1-.2l1 .4l1-.2l1-.4l1-.4l1 .2l1 .4l1 .2l1-.3l1-.5l1 0l1 .4l1-.1l1 .5l1-.2l1-.5l1 .1l1 .5l1-.3l1-.3l1-.4l1 .3l1-.3l1-.3l1 .5l1 .1l1 0l1 .7l1-.8l1-.2l1 .4l1 .1l1-.1l1 0l1 .2l1-.7l1-.5l1 .2l1 .4l1 .3l1 .4l1-.5l1-.4l1-.1l1 0l1 .2l1-.2l1 .3l1-.4l1-.1l1 0l1-.3l1 .3l1 .3l1 .3l.4-.4l.3-.8l.4 .4l.3-.1l.4-.2l.3 .2l.4 .3l.3-1.1l.4-3.1l.3-5.2l.4-6.4l.3-6.6l.4-4.2l.3-3.3l.4-3.0l.3-3.0l.4-2.8l.3-2.3l.4-2.2l.3-2.0l.4-1.7l.3-1.7l.4-1.8l.3-1.0l.4-.2l.3-.5l.4-1.0l.3-.2l.4 .7l.3-.3l.4 0l.3-.3l.4 .1l.3-.4l.4-.4l.3-.3l.4 0l.3-.1l.4 .2l.3 .1l.4 .1l.3 0l.4-.3l.3 .3l.4 .2l.3 .5l.4 .2l.3-.6l.8-.3l.8 .9l.8 .5l.8 .2l.8 .7l.8 .5l.8 .4l.8 .1l.8 .6l.8 .4l.8 .6l.8 .7l.8 .1l.8 .5l.8 .7l.8 .2l.8 .8l.8 .2l.8 .3l.8 1.5l.8 .9l.8 0l.8 0l.8 .6l.8 1.4l.8 1.1l.8 .4l.8 1.5l.8 2.0l.8 1.5l.8 1.8l.8 2.7l.8 2.1l.8 3.1l.8 3.3l.8 2.6l.8 2.9l.8 3.2l.8 3.2l.8 1.4l.8 1.1l.8 1.6l.8 2.0l.8 .8l.8-.1l.8 .5l.8 .9l.8 .5l.8 .4l.8-.1l.8 .1l.8 .7l.8 .4l.8 1.0l.8-.2l.8 0l.8 .1l.8-.1l.8 .2l.8 0l.8 .3l.8 .4l.8-.3l.8-.5l.8 .6l.8 .2l.8 .3l.8-.1l.8 0l.8 0l.8-.2l.8 .1l.8 .1l.8 .3l.8 0l.8-.4l.8-.1l1 .2l1 .5l1-.4l1-.1l1 0l1-.1l1 .3l1 0l1 .1l1-.3l1 .4l1 .5l1-.3l1-.3l1-.1l1-.4l1 .3l1 .1l1 0l1 .1l1-.1l1-.4l1-.2l1 0l1 .1l1-.4l1 .2l1 .1l1 .4l1 .5l1-.5l1 .2l1 0l1-.7l1 .1l1 .1l1-.3l1 .1l1 .1l1 .1l1-.1l1 .4l1-.1l1-.2l1-.1l1-.6l1-.1l1 .2l1 .6l1 .3l1-.5l1-.4l1 .1l1 .2l1-.3l1 .1l1 .6l1 .2l1-.3l1-.2l1 0l1-.1l1-.7l1 .6l1 .2l1-.1l1 0l1 .1l1-.1l1 .1l1-.2l1 .3l1 .1l1-.4l1 .4l1 0l1 0l1 .2l1-.3l1-.3l1 .3l1 .2l1-.4l1-.1l1-.1l1-.1l1 .1l1 .4l1 0l1-.5l1 .1l1 .1l1 .4l1 .1l1-.1l1 .1l1 0l1-.1l1 0l1 0l1-.5l1-.2l1 .6l1 .3l1 0l1-.6l1-.3l1 .5l1 .2l1-.4l1-.2l1-.1l1-.1l1 .5l1 0l1 .3l1-.6l1-.5l1 .1l1 .1l1 .1l1 .2l1 .2l1 .2l1-.9l1 .1l1 .5l1 .2l1-.1l1-.1l1 .1l1-.2l1 0l1 0l1-.3l1 .1l1 0l1 .2l1 .1l1 .3l1-.1l1-.2l1-.3l1 .1l1-.4l1 .6l1 .2l1-.1l1-.2l1-.5l1 0l1 .1l1 .4l1 .3l1 0l1-.7l1-.1l1 .3l1-.2l1 0l1 .3l1-.1l1-.1l1 .3l1-.3l1-.4l1 .2l1 .1l1 0l1 .4l1-.1l1 .1l1 0l1-.4l1-.1l1 .1l1 0l1 .3l1-.6l1-.2l1 .4l1-.1l1-.3l1 .5l1 .1l1-.5l1-.1l1 .5l1 .2l1-.2l1-.2l1 .3l1 .3l1-.3l1 0l1 0l1-.2l1-.2l1 .1l1 .1l1-.1l1-.1l1-.3l1-.1l1-.2l1 .5l1-.1l1-.4l1 .2l1-.1l1 .3l1 .4l1-.5l1-.5l1 .1l1 .1l1-.1l1 0l1-.3l.4 .5l.3-.1l.4 0l.3 .3l.4-.2l.3-.8l.4 0l.3 .2l.4-.9l.3-2.6l.4-4.8l.3-6.5l.4-6.1l.3-4.7l.4-3.2l.3-2.8l.4-2.5l.3-2.5l.4-2.9l.3-2.2l.4-1.8l.3-1.6l.4-2.0l.3-1.4l.4-.9l.3-.7l.4-.3l.3-.8l.4-.8l.3 .2l.4 0l.3-.3l.4 0l.3 .3l.4-.3l.3-.7l.4-.1l.3 .5l.4-.1l.3-.4l.4 .1l.3 .3l.4 .3l.3 .3l.4 .2l.3-.8l.4-.3l.3 .6l.4 .4l.8-.2l.8 .3l.8 .7l.8 .6l.8 .6l.8 .4l.8 .9l.8 .2l.8 0l.8 0l.8 .9l.8 .8l.8 .2l.8 .9l.8 .4l.8 .5l.8 .4l.8 .4l.8-.1l.8 .7l.8 .7l.8 .6l.8 .5l.8 .5l.8 1.2l.8 1.0l.8 1.0l.8 1.4l.8 1.3l.8 1.9l.8 2.0l.8 2.2l.8 3.0l.8 2.8l.8 3.2l.8 3.1l.8 3.1l.8 2.3l.8 1.4l.8 1.9l.8 1.6l.8 1.6l.8 1.4l.8 .6l.8 0l.8 .5l.8 1.1l.8 .7l.8 .7l.8 .3l.8 .3l.8 .5l.8 .1l.8 0l.8 0l.8 .4l.8 .4l.8-.6l.8-.1l.8 .6l.8 .5l.8-.1l.8-.2l.8 .4l.8-.1l.8-.1l.8-.4l.8-.1l.8 .6l.8 .1l.8 .4l.8 .4l.8-.4l.8-.6l.8 .2l.8 0l1 .3l1 .1l1-.2l1 .1l1 0l1 .1l1 .1l1-.1l1 .3l1-.1l1-.6l1 0l1-.1l1-.4l1 .3l1 .6l1 0l1-.2l1 0l1 0l1-.3l1 .4l1-.4l1-.2l1-.1l1 .2l1-.1l1 0l1 0l1 .5l1 .1l1-.7l1-.4l1 .1l1 .4l1-.3l1-.1l1 .5l1 .3l1-.3l1-.1l1 0l1-.6l1 .1l1 .7l1 .2l1-.2l1-.2l1-.2l1 .1l1 .3l1-.4l1 .3l1-.3l1-.4l1 .3l1-.1l1 .2l1 .3l1 .3l1-.8l1-.5l1 .6l1 .2l1-.3l1-.2l1 .4l1 0l1-.2l1 .2l1-.2l1-.2l1-.3l1 .2l1 .5l1 .2l1-.1l1-.4l1-.2l1-.2l1 0l1 .2l1 .4l1 .2l1-.3l1-.2l1-.3l1 .1l1 .3l1-.1l1-.1l1-.2l1 .4l1-.3l1-.2l1-.2l1-.7l1 .8l1 .8l1-.4l1-.1l1-.6l1-.2l1 .2l1 .5l1-.4l1 .2l1 0l1 .1l1-.3l1 0l1 .1l1-.5l1 .1l1 .9l1-.1l1-.1l1-.1l1 0l1-.1l1-.1l1-.6l1-.3l1 .6l1 .6l1-.5l1-.3l1 .8l1 0l1-.4l1 .2l1-.1l1-.3l1 .5l1 0l1 0l1-.2l1-.7l1 .4l1 .7l1-.2l1-.7l1 .2l1 0l1 0l1 0l1 .6l1 .3l1-.3l1-.2l.6-.3"/>
<path stroke="#901c60" d="M98.6 1364.3l1 .5l1-.1l1-.5l1-.5l1 0l1 .7l1 .1l1-.4l1-.3l1-.5l1 0l1 .2l1 .5l1-.1l1-.2l1-.2l1 0l1-.1l1 .8l1-.2l1 0l1-.2l1-.2l1 .5l1-.2l1-.2l1 .1l1-.4l1 .5l1 .3l1-.6l1-.2l1-.4l1 .4l1-.1l1-.3l1 1.0l1 .1l1-1.3l1 .3l1 0l1 0l1 .2l1-.1l1-.1l1 0l1-.1l1 0l1-.1l1 .7l1 .3l1-.6l1-.2l1 .1l1-.9l1 .2l1-.1l1 0l1-.1l1 .4l1 .4l1-.5l1 .1l1 .5l1-.1l1-.2l1-.4l1-.4l.3 0l.4-.1l.3-.5l.4-.4l.3 .7l.4 .4l.3-.1l.4 .3l.3-.3l.4-1.8l.3-3.5l.4-4.7l.3-5.9l.4-6.1l.3-5.9l.4-4.7l.3-3.0l.4-1.6l.3-.1l.4-.3l.3-.1l.4-.4l.3-.9l.4 .4l.3 .7l.4 .4l.3 .1l.4 .5l.3-.3l.4-.7l.3-.5l.4 .2l.3 .3l.4 .3l.3 .1l.4-.3l.3 .5l.4 0l.3-.2l.4 0l.3 .5l.4-.2l.3-.3l.4 .7l.3 .2l.4-.2l.3 .6l.4 .2l.3 0l.8-.2l.8 .4l.8 .8l.8 .3l.8-.5l.8-.3l.8 1.1l.8 .6l.8 .5l.8-.3l.8 .1l.8-.1l.8 .5l.8 .2l.8 .2l.8 .1l.8 .3l.8 .9l.8 .1l.8-.4l.8-.1l.8 .5l.8 1.2l.8 .3l.9 .2l.8 .9l.8 1.6l.8 .6l.8 .9l.8 1.9l.8 1.1l.8 .9l.8 1.7l.8 2.0l.8 1.3l.8 1.6l.8 2.1l.8 1.4l.8 .7l.8 .2l.8 .3l.8 .1l.8 .6l.8 1.0l.8 .7l.8 .7l.8 .4l.8 .2l.8 .2l.8 .3l.8 .3l.8-.2l.8 .9l.8-.2l.8-.5l.8 .7l.8 .7l.8-.5l.8 .2l.8 .3l.8 .4l.8-.3l.8-.3l.8 .4l.8 .2l.8-.2l.8-.4l.8-.2l.8 .3l.8-.4l.8 .3l.8 .6l.8 .5l.8-.2l.8-.7l.8 .3l1-.6l1 .5l1 .3l1 .1l1-.1l1-.1l1-.5l1 0l1 .1l1-.5l1-.2l1 0l1-.5l1 .2l1 .2l1 .8l1 .2l1 0l1 .2l1-.6l1-.4l1 .2l1 0l1-.1l1 0l1-.5l1 0l1 .4l1-.1l1 .6l1 0l1-.3l1 .5l1 .1l1 .2l1-.6l1-.2l1 .3l1-.1l1 .6l1-.4l1-1.0l1 1.0l1 .4l1-.3l1 .3l1 0l1-.3l1 .8l1 .2l1-.2l1 .1l1 .4l1 .5l1-.2l1-.4l1-.2l1 .2l1 .4l1-.2l1-.2l1 .6l1-.2l1-.6l1 .3l1 0l1 .1l1 0l1-.4l1-.3l1 0l1 .4l1-.2l1-.4l1 .5l1 .4l1-.1l1-.1l1 .2l1-.5l1-.1l1 .7l1-.5l1 .5l1 .5l1-.4l1 .2l1-.3l1-.4l1-.2l1 .6l1 0l1 .2l1-.3l1 .3l1 .3l1 .4l1-.2l1-.6l1 .5l1-.2l1-.3l1 .3l1 .3l1-.6l1 0l1 .1l1 .4l1-.1l1-.2l1 .3l1 .2l1 0l1 .4l1 .3l1-.2l1 0l1 .1l1-.2l1-.1l1-.1l1 0l1 .1l1 .1l1-.6l1 .5l1 .7l1 .5l1-.1l1-.9l1 0l1 .2l1-.4l1 .3l1 .5l1-.2l1-.3l1 .6l1-.1l1-.1l1-.3l1 .6l1 .6l1 .2l1 0l1-.3l1-.6l1 0l1 .7l1-.6l1 0l1 .7l1 .1l1 .2l1-.3l1 .6l1 .5l1-1.0l1-.3l1-.1l1 .1l1 .1l1 .5l1 .2l1-.2l1 0l1-.5l1 .2l1 .1l1 .4l1-.3l1-.7l1 .3l1-.1l1 .4l1 .8l1 .4l1-.5l1-.1l1-.1l1-.5l1-.4l1 .8l1 .1l1-.1l1 .2l1 .1l1 0l1 .2l1-.2l1 .2l1-.4l1-.3l1-.2l1-.2l1-.4l1 .4l1 .7l1 .4l1-.5l1 0l1 .2l1-.1l1-.6l1 .7l1 1.1l1-.3l1-.6l1 .2l1 .3l1-.3l1 .2l1-.2l1-.3l1 .1l1-.2l1 .3l1 .2l1-.1l1 .3l1 0l1-.2l1-.2l1-.1l1 .4l1 .2l1 0l1-.7l1 .4l1 .1l1-.3l1 .2l1 1.0l1-.2l1-.3l1-.2l1-.6l1 .4l1 .3l1-.2l1-.4l1 .5l1 .8l1 0l1-.3l1 .3l1 .5l1-.6l1-.9l1-.3l1 .6l1-.1l1-.5l1 .3l1 .3l1-.3l1-.6l1 .2l1 .4l1 .8l1-.3l1-.3l1 .2l1-.5l1 .3l1 .4l1-.5l1-.2l1-.2l1 .5l1 .6l1 .2l1 0l1-.1l1 .4l1-1.1l1-.4l1-.1l1 .9l1 .5l1 .4l1-.8l1-.7l1-1.0l1 .4l1 .9l1 .2l1 .2l1-.3l1 .3l1-.1l1-.4l1 .7l1 .4l1-.3l1 .1l1 0l1-.3l1 .4l1 .2l.3-.8l.4 .1l.3-.1l.4 0l.3-.2l.4-.3l.3-.4l.4-2.3l.3-3.9l.4-5.5l.3-5.1l.4-5.9l.3-5.2l.4-3.5l.3-2.5l.4-.7l.3-.4l.4-.5l.3-.4l.4 .3l.3 0l.4 0l.3-.4l.4-.1l.3 .1l.4 .5l.3-.3l.4 .1l.3-.2l.4-.2l.3 .2l.4-.1l.3 .4l.4 .3l.3-.1l.4 .2l.3 .4l.4 0l.3-.2l.4 .3l.3 0l.4 0l.3 .3l.4 .3l.3 .5l.4-.1l.8 .2l.8 1.1l.8-.2l.8-1.0l.8 .1l.8 .8l.8 .9l.8-.3l.8 .3l.8 .5l.8 .5l.8-.2l.8 .2l.8 .2l.8 .6l.8 0l.8 .1l.8-.2l.8 .3l.8 .9l.8 .6l.8-.1l.8 .3l.8 .5l.8 1.1l.8 .3l.8 1.2l.8 1.2l.8 .6l.8 1.2l.8 2.2l.8 2.0l.8 .9l.8 1.2l.8 .9l.8 1.7l.7 1.1l.8 1.1l.8 1.0l.8 .7l.8 1.2l.8 .9l.8 .4l.8-.1l.8 .2l.8 .8l.8 .4l.8-.2l.8 .2l.8 .3l.8 .4l.8-.4l.8-.3l.8 1.2l.8 .6l.8 0l.8 .1l.8-.3l.8-.2l.8 .4l.8-.1l.8-.1l.8 .8l.8-.5l.8-.8l.8 1.0l.8 .2l.8-.2l.8 .1l.8 .4l.8 .2l.8 .1l.8 0l.8-.4l.8 .8l.8 .4l.8-.9l1-.2l1 .1l1-.1l1-.7l1 .3l1-.4l1 0l1 .2l1-.1l1-.3l1 .2l1 .2l1-.1l1 .1l1-.7l1-.6l1 .5l1 .3l1-.2l1-.6l1 0l1 .5l1 .3l1 .1l1 .5l1-.1l1-.2l1-.4l1-.3l1 .5l1 .1l1 .4l1 .4l1-.2l1 .2l1-.7l1-.4l1 0l1 .1l1-.4l1 .7l1 .4l1 .2l1-.1l1 .1l1 0l1-.2l1-.1l1-.2l1 .3l1 .4l1-.5l1 .5l1-.1l1-.9l1-.2l1 .6l1 .4l1 0l1 .3l1-.4l1-.3l1 .7l1 .2l1-.3l1-.3l1-.1l1 .9l1 .4l1-.6l1-.8l1 .1l1 .3l1-.1l1 0l1 .1l1 .3l1 0l1 .8l1 .5l1-.3l1-.8l1 .7l1 .1l1 0l1 0l1 .1l1-.1l1-.1l1-.2l1 0l1 .5l1-.2l1-.1l1 .5l1-.1l1-.2l1-.2l1-.6l1 .2l1 .5l1 .4l1 0l1-.5l1 .2l1 .5l1 .2l1-.5l1-.3l1 0l1 .5l1 .4l1 .2l1-.2l1 .3l1-.1l1-.2l1-.2l1 .8l1-.2l1 .3l1-.1l1-.5l1 0l1 .4l1-.4l1-.2l1 0l1 .1l1 .3l1 .7l1 0l1 .1l1-.1l1-.3l1-.3l1-.1l1 .5l1 .1l1 0l1 0l1 .2l1-.4l1-.3l1 0l1-.1l1 .9l1 .5l1-.4l1 .5l1 .3l1-.6l1 0l1 .3l1 .3l1-.5l1-.5l1-.1l1-.1l1 .4l1 .5l1-.1l1-.2l1 0l1-.6l1 .6l1 .6l1-.4l1-.1l1 .6l1 .2l1-.8l1-.6l1 1.0l1 .4l1-.5l1 .5l1-.5l1 .3l1 .2l1-.3l1-.4l1 .1l1-.4l1 .2l1 .2l.4-.1l.3-.4l.4-.2l.3 .1l.4 1.1l.3-.2l.4-.5l.3 0l.4-.2l.3-.7l.4-3.4l.3-4.4l.4-6.0l.3-5.5l.4-5.3l.3-4.9l.4-3.3l.3-1.9l.4-.7l.3 0l.4 .3l.3-.4l.4-.6l.3-.6l.4-.1l.3 .4l.4 .8l.3 .2l.4-.2l.3 .6l.4-.3l.3-.2l.4 0l.3 0l.4 .5l.3 .1l.4-.1l.3-.7l.4 .2l.3 1.1l.4 .5l.3-.5l.4-.1l.3 .1l.4-.1l.3-.2l.4 .4l.3 .8l.4-.1l.8 .2l.8-.2l.8 .9l.8 .6l.8-.1l.8 .5l.8 .4l.8 .7l.8-.6l.8-.3l.8 0l.8 .5l.8 .4l.8 0l.8 .5l.8-.2l.8 .4l.8 .6l.8-.3l.8 .3l.8 .3l.8 .5l.8 .7l.8-.1l.8 1.0l.8 1.5l.8 1.3l.8 .7l.8 1.4l.8 2.6l.8 1.8l.8 1.4l.8 1.4l.8 1.6l.8 .8l.8 .5l.8 1.4l.8 1.0l.8 0l.8 .8l.8 1.0l.8 .4l.8 .3l.8 .7l.8 .7l.8 .6l.8-.5l.8 .1l.8 .2l.8 .8l.8 .2l.8 .2l.8 .3l.8 .4l.8-.4l.8 .1l.8 .1l.8-.6l.8 0l.8 .9l.8 .2l.8 .1l.8-.2l.8-.2l.8 .1l.8 .1l.8-.1l.8 .2l.8 .6l.8 0l.8-.2l.8 .2l.8-.4l.8 .3l.8 0l.8-.3l.8 .2l1-.8l1-.1l1 .1l1 .5l1-.4l1-.6l1 0l1 0l1 .3l1-.5l1-.1l1 .3l1-.1l1 .2l1-.1l1-.4l1-.5l1-.1l1 .8l1 .2l1 .3l1-.1l1-.2l1 .1l1-.1l1-1.2l1 .4l1 .9l1 0l1-.3l1 .2l1 .6l1 0l1-.4l1-.4l1 .6l1-.1l1 .3l1-.2l1-.7l1-.2l1 .1l1 .4l1 .8l1 .3l1-.3l1-.3l1 0l1 .6l1-.3l1-.4l1 .3l1 .2l1-.2l1-.3l1-.1l1 .5l1 0l1 .3l1 .1l1-.2l1-.1l1 .2l1-.3l1 .5l1 .8l1 .1l1-1.0l1 .2l1 0l1 0l1 .2l1-.4l1 .3l1 0l1 .6l1 .2l1 .6l1-.3l1-.7l1-.9l1-.2l1 .8l1 .4l1 .2l1-.3l1 0l1 0l1 .4l1-.1l1-.4l1 .5l1 .5l1 .1l1 0l1-.8l1-.4l1 .2l1 .4l1 .9l1-.1l1 .2l1 .3l1-.7l1-1.1l1 .1l1 1.2l1 .2l1-.5l1 .4l1 .3l1-.3l1-.3l1 .5l1-.2l1 0l1-.4l1 .2l1 .6l1-.6l1-.2l1 .5l1 .1l1-.1l1 .5l1 .3l1 .1l1 .3l1-.4l1 .3l1-.5l1-.6l1-.1l1-.2l1 .2l1 .6l1-.3l1 .4l1 .3l1 .1l1 .2l1-.6l1 .1l1 .9l1 .1l1-.5l1-.5l1 .2l1 .8l1 .3l1-.7l1-.2l1 0l1 .6l1 0l1-.1l1-.1l1 .5l1 .1l1-.1l1-.5l1-.1l1 .4l1 .2l1 .4l1-.2l1-1.0l1-.2l1 1.0l1-.3l1 0l1 .4l1-.1l1 0l1 0l1-.2l1 0l1 0l1 .1l1 0l1 .6l1-.2l1-.2l1 .3l1-.1l1 .1l1-.3l.3-.4l.4 .7l.3 .1l.4-.2l.3 .3l.4-1.1l.3-.5l.4-2.6l.3-4.0l.4-4.8l.3-5.5l.4-6.1l.3-5.6l.4-3.6l.3-2.5l.4-.5l.3-.2l.4-.5l.3 .5l.4-.4l.3-.6l.4-.1l.3-.1l.4 .1l.3 .7l.4 .4l.3 .5l.4 .4l.3-.8l.4-1.0l.3 .9l.4 .4l.3 .2l.4 .2l.3-.1l.4 .3l.3 .4l.4 .2l.3-.8l.4-.3l.3 .8l.4 .7l.3-1.1l.4 .1l.3 .1l.4 .4l.8 .5l.8 .1l.8 1.0l.8 .6l.8-.4l.8 .2l.8-.3l.8 .2l.8 .9l.8 .2l.8-.4l.8 .7l.8 .4l.8-.6l.8-.3l.8 .9l.8 .7l.8 0l.8 .2l.8 .2l.8 .6l.8 .6l.8 .8l.8 1.0l.8 .7l.8 .7l.8 .6l.8 1.2l.8 2.3l.8 2.2l.8 1.6l.8 1.5l.8 1.4l.8 1.1l.8 1.1l.8 1.2l.8 1.1l.8 .3l.8 .1l.8 .7l.8 .7l.8 .9l.8 .4l.8-.8l.8 .7l.8 .9l.8 1.0l.8-.4l.8 .5l.8 .4l.8-.4l.8 .1l.8 .3l.8 .1l.8-.1l.8 .2l.8 0l.8 .2l.8 .5l.8-.5l.8 .4l.8 0l.8-.2l.8 0l.8 .3l.8 .1l.8-.4l.8 .1l.8-.7l.8 .1l.8 .1l.8 .5l.8 .3l.8-.3l.8 .1l.8 .1l.8 0l1-1.1l1-.3l1 .3l1-.3l1 .5l1 .1l1-.5l1 0l1 .4l1 .1l1-.1l1 0l1-.2l1 .3l1 .5l1-.2l1-.8l1-.2l1 .2l1 .5l1 0l1-.6l1 0l1 .2l1-.4l1 .9l1-.1l1-.1l1 .5l1-.3l1 0l1 .8l1-.5l1-.2l1 .1l1 0l1 .1l1-.1l1 .3l1-.1l1 0l1 .1l1-.6l1 .3l1 .5l1 .1l1-.5l1-.1l1 .2l1-.4l1 .4l1-.6l1 .2l1 .8l1-.3l1-.1l1 .6l1-.2l1-.2l1 .3l1 0l1-.1l1 .3l1-.2l1-.5l1 .4l1 .3l1-.1l1-.2l1 .3l1-.6l1 .1l1 .3l1 .2l1 0l1 .2l1 .4l1 .3l1-.5l1 0l1-.2l1-.1l1-.2l1 .3l1 .6l1-.2l1-.2l1-.3l1 .5l1 .3l1 0l1 .2l1-.4l1-.2l1 .4l1 .3l1 .3l1-.6l1 .1l1 .4l1 0l1 .7l1 .1l1-.7l1 0l1 0l1-.6l1 .1l1 .7l1 .1l1-.6l1-.3l1-.3l1 .2l1 .9l1 0l1-.4l1-.4l1 .2l1 .3l1-.2l1 .3l1-.3l1-.4l1 .8l1-.3l1-.4l1 .4l1 .1l1 .6l1-.1l1 .1l1 .2l1-.7l1 .5l1 .6l1-.2l1-.5l1 .6l1 .4l1-.8l1 0l1 .5l1-.1l1 .1l1 .4l1-.4l1 0l1-.8l1-.5l1 1.0l1 .6l1-.1l1 .5l1-.2l1 0l1-.2l1-.3l1 .8l1 .4l1 0l1 0l1 0l1-.1l1 0l1-.4l1-.4l1 .5l1 .1l1-.5l1 .3l1 .3l1 0l1 .7l1-.2l1 0l1-.1l1 0l1-.4l1-.6l1-.3l1-.1l1 .1l1-.1l1 .4l1 0l1 .1l1 .2l1 .4l1-.3l1 0l1 .7l1-.2l1 .2l1-.4l1-.1l1 0l1-.2l1 1.0l1 .2l1-.6l1 .2l1-.2l1-.1l1 .4l1-.7l1 .2l1 .4l1-.2l1-.2l1-.4l1 .2l1 .1l1-.4l1 0l1 .2l1 .2l1 .2l1-.3l.3-.4l.4 .7l.3 .5l.4-.4l.3-.3l.4 .2l.3 0l.4-.6l.3 .2l.4-1.9l.3-3.4l.4-5.7l.3-5.8l.4-5.2l.3-4.9l.4-4.4l.3-3.0l.4-.8l.3-.2l.4 0l.3-.4l.4-.1l.3-.5l.4-.1l.3-.1l.4 0l.3-.1l.4 0l.3 .8l.4 .2l.3 .2l.4 .3l.3-1.1l.4 .5l.3 .4l.4 .2l.3-.4l.4-.1l.3 .1l.4 .9l.3 .5l.4-.6l.3 .1l.4 .2l.3-.5l.4-.1l.3 .7l.4-.2l.3 .6l.8 0l.8 .9l.8 .5l.8-.5l.8-.1l.8 .6l.8 .3l.8-.1l.8 .5l.8 .7l.8 .3l.8 0l.8-.7l.8 .1l.8 .6l.8 .4l.8 .4l.8-.1l.8 1.2l.8 .7l.8 .2l.8 .1l.8 .1l.8 1.2l.8 1.9l.8 1.3l.8 1.8l.8 1.2l.8 1.3l.8 2.3l.8 1.3l.8 1.5l.8 1.2l.8 .4l.8 1.1l.8 1.5l.8 0l.8 .4l.8 .5l.8 .6l.8 .7l.8 .4l.8 .2l.8 .5l.8 .4l.8-.4l.8 .6l.8 .3l.8 0l.8 1.0l.8 .1l.8 0l.8 .3l.8 .1l.8-.2l.8-.1l.8-.1l.8 .5l.8 .1l.8-.3l.8 .7l.8 .2l.8-.5l.8 .8l.8 .1l.8-.2l.8-.3l.8 .4l.8-.4l.8-.1l.8-.5l.8-.2l.8 .7l.8 .1l.8-.8l.8 0l1-.2l1-.2l1 .2l1 .6l1 .2l1-.5l1-.2l1-.1l1-.4l1 .1l1 0l1-.1l1-.4l1 .6l1 0l1 .1l1 .3l1 .2l1-.6l1-.4l1 .8l1 .1l1-.3l1 .5l1-.1l1-.8l1-.2l1 .2l1 .7l1-.9l1 .1l1 .8l1 .5l1 0l1-.2l1 0l1 .2l1-.3l1-.3l1 .2l1 .2l1 0l1-.2l1-.4l1 .3l1 .2l1-.6l1 .1l1 .6l1 .1l1-.3l1 0l1 0l1-.1l1-.3l1-.3l1 .7l1 .7l1-.6l1-.1l1 .4l1 .5l1 .3l1-.7l1-.2l1-.4l1-.1l1 .2l1 .3l1 .3l1-.1l1-.4l1 .1l1-.2l1 0l1-.1l1 .4l1 .6l1 .5l1-.7l1 .1l1 0l1-.3l1-.3l1 0l1 .3l1 0l1 .3l1 .1l1-.4l1 .6l1-.3l1 .3l1 0l1-.1l1 .3l1 .2l1-.2l1 .4l1 .2l1-.7l1-.5l1 .2l1 .4l1 0l1-.8l1 .3l1 .4l1 .5l1-.5l1 .2l1 .1l1 .4l1 .2l1-.8l1-.3l1 .7l1-.3l1 .1l1 .1l1-.6l1 .2l1 .3l1 .1l1 .5l1-.6l1 .3l1-.2l1 0l1-.1l1 .5l1 .4l1-.2l1-.6l1-.6l1 .4l1-.1l1 .6l1-.4l1-.6l1 .3l1 .6l1 0l1 .1l1-.1l1 .7l1 .4l1-.6l1-.6l1-.1"/>
<path stroke="#d8135b" d="M98.6 1415.2l1 .4l1-.5l1-.1l1 1.4l1 .2l1-.5l1-.7l1 .1l1-.4l1 .1l1 .2l1-.4l1 .1l1-.1l1 .5l1-.1l1 0l1 0l1-.4l1 0l1-.3l1-.4l1 1.0l1 .6l1 .1l1-.3l1-.1l1-.5l1-.1l1-.5l1 .5l1 .3l1-.4l1 .6l1 1.0l1-.4l1-.3l1 .3l1-.2l1-.1l1 .9l1-.3l1-.2l1-.2l1-.7l1 .2l1 .3l1-.3l1-.1l1-.1l1 .1l1 .5l1-.2l1 .5l1-.4l1-.9l1 .1l1 .4l1 .6l1-.2l1 .3l1 .1l1-.4l1-.4l1 .3l1 .2l1-.1l1 0l.3-.8l.4-.8l.3-6.4l.4-8.4l.3-4.3l.4-2.8l.3-2.7l.4-2.2l.3-.8l.4-1.2l.3-1.7l.4-.2l.3-1.3l.4-1.0l.3-.2l.4-.7l.3 .2l.4-.3l.3-1.2l.4-.2l.3 .3l.4 .4l.3 .2l.4-.3l.3-.1l.4 .5l.3 .1l.4-.2l.3-.2l.4-.1l.3 .6l.4 .9l.3 0l.4 0l.3-.6l.4 .4l.3 0l.4 .7l.3 .4l.4 .3l.3 .4l.4-.1l.3 .4l.4-.1l.3-.2l.4 .4l.3 .4l.4 0l.3 .4l.8 .2l.8-.3l.8-.2l.8 1.3l.8 .9l.8 0l.8 .5l.8 .1l.8 1.1l.8 .6l.8-.1l.8-.1l.8 0l.8 .9l.8-.1l.8 .7l.8 .8l.8-.1l.8 .1l.8 .2l.8 0l.8 .6l.8 .9l.8 .1l.9 .4l.8 .6l.8 1.1l.8 .8l.8 1.3l.8 1.4l.8 1.4l.8 1.6l.8 2.0l.8 2.1l.8 1.5l.8 1.2l.8 .9l.8 .3l.8 1.3l.8 1.3l.8 .9l.8 .5l.8 0l.8 .7l.8 .4l.8 .7l.8 .8l.8 0l.8-.3l.8 .1l.8 .4l.8-.6l.8 .1l.8-.1l.8 .8l.8 .2l.8 .1l.8 .4l.8 1.1l.8 0l.8-.3l.8-.3l.8 .4l.8-.1l.8-.3l.8-.2l.8 .2l.8-.6l.8 .3l.8 0l.8 1.0l.8 .5l.8-.1l.8-.5l.8 .8l.8 .3l1-.9l1-.4l1 0l1 .3l1 .4l1-.3l1 .1l1-.1l1-.3l1 .3l1 .1l1 .1l1 0l1-.2l1 0l1-.6l1 .4l1 .7l1-.2l1-.5l1-.3l1 .1l1-.1l1-.4l1 .3l1 0l1-.7l1 0l1 .7l1 .4l1 .8l1-.3l1-1.7l1 .5l1 .9l1 0l1 .3l1-.1l1-.5l1 .2l1-.5l1-.4l1 .5l1 .6l1-.2l1-.4l1 .6l1 .2l1-.5l1-1.1l1 0l1 .2l1-.2l1-.4l1 .6l1 .6l1-.2l1 .5l1-.6l1 0l1-.2l1-.3l1 .4l1 .2l1 0l1 .4l1-.3l1-.6l1 .5l1-.6l1-.4l1 1.0l1 .2l1-.6l1-.1l1 0l1 .3l1-.2l1 0l1-.3l1 .4l1 .4l1 .7l1-.4l1-1.0l1-.3l1 .5l1-.2l1 .5l1 .4l1 .2l1 0l1-.3l1-.5l1-.2l1 .3l1 .3l1-.6l1 0l1 .1l1-.6l1 .1l1 .2l1-.1l1 0l1 .1l1-.2l1 .3l1-.3l1-.8l1-.4l1 .7l1 .7l1-.1l1-.2l1 .2l1 .1l1-.3l1 0l1 .6l1-.2l1-.1l1-.3l1 .3l1 .2l1-.6l1 0l1-.1l1 .1l1 .6l1-.6l1 .1l1-.1l1 0l1-.1l1-.1l1-.1l1-.6l1 .4l1 .8l1 .5l1-.6l1-.3l1 .5l1-.2l1-.6l1-.1l1 .1l1 .6l1-.6l1-.2l1 .7l1 .2l1-.3l1 0l1-.3l1 .4l1 .1l1-.5l1-.4l1 .8l1 0l1-.2l1-.1l1 .5l1-.3l1 0l1-.1l1 0l1 .4l1 .1l1 .1l1-.5l1 .1l1-.4l1 0l1-.4l1 .4l1 .1l1-.2l1 0l1 .3l1 .5l1-.3l1-.1l1 .3l1 .4l1 0l1-.6l1-.6l1 .4l1 0l1 .1l1-.2l1 .2l1-.2l1 0l1 0l1-.2l1 .6l1-.1l1-.3l1-.1l1 .3l1-.2l1 .3l1-.3l1 0l1-.1l1 .3l1 .2l1-.5l1-.3l1 .2l1 0l1 .2l1-.4l1 .3l1 .5l1-.2l1-.5l1 .2l1 .4l1 0l1-.4l1 .1l1-.4l1-.1l1 .9l1 .2l1 0l1 0l1-.3l1 .4l1-.1l1-.7l1-.2l1-.5l1 0l1 1.0l1 .1l1-.3l1 .3l1-.3l1-.4l1 .6l1 .3l1-.2l1-.6l1-.2l1 .7l1 .9l1 .2l1-1.6l1 .1l1 .7l1 .1l1-.1l1-.9l1 0l1 .4l1-.7l1 .1l1 0l1 .5l1 .3l1 .4l1-.2l1 .2l1-.2l1-.6l1-.2l1 .5l1 .1l1 .5l1-.3l1 0l1-.3l1-1.0l1 .4l1 .6l1 .2l1 0l1 .5l1 0l1-.1l1-.2l1-.7l1 .4l1-.3l1-.3l1 .7l1 .5l1-.1l1-.3l1-.2l1 .6l1-.3l1-.7l1-.3l.3 .1l.4-.1l.3 .8l.4 0l.3-1.1l.4-6.1l.3-6.6l.4-2.2l.3-2.4l.4-2.4l.3-1.4l.4-1.6l.3-1.9l.4-1.2l.3-.3l.4-.7l.3-1.3l.4 .1l.3-.5l.4-.5l.3 .2l.4 .4l.3 0l.4-.1l.3 0l.4-.5l.3-.1l.4 1.2l.3 0l.4-1.3l.3-.3l.4 .2l.3 .5l.4 .2l.3-.1l.4 .4l.3 .4l.4 .2l.3-.1l.4 0l.3 .1l.4-.4l.3 .4l.4 .1l.3 .8l.4 .4l.8 .2l.8 .4l.8 1.1l.8 .4l.8 0l.8-.1l.8 .4l.8 .1l.8 .2l.8-.3l.8 .6l.8 0l.8 .6l.8 .8l.8 .5l.8-.3l.8 0l.8 .7l.8 .4l.8 0l.8 .1l.8 .3l.8 0l.8 .5l.8 .5l.8 .7l.8 .4l.8 1.3l.8 .8l.8 .1l.8 .5l.8 1.4l.8 1.3l.8 1.5l.8 1.7l.8 1.3l.7 .9l.8 .5l.8 1.3l.8 .9l.8 .8l.8-.1l.8 .9l.8 .7l.8 .3l.8 1.0l.8 .7l.8 .3l.8-.2l.8 .2l.8 .6l.8 0l.8 .7l.8 0l.8-.2l.8 .7l.8-.1l.8-.9l.8 .4l.8 .2l.8 .4l.8 .8l.8 .2l.8 .3l.8-.4l.8-.6l.8-.2l.8 .5l.8 .2l.8-.3l.8 0l.8 .4l.8 .2l.8 .3l.8-.6l.8 .2l.8 .3l1 .4l1-.8l1-.4l1 .2l1 .2l1 .5l1-.1l1-.3l1-.5l1-.9l1 .3l1 .3l1 .1l1 .8l1 .3l1-.8l1-.4l1 .6l1 .6l1-.7l1-.4l1 .2l1-.5l1 0l1 .4l1-.3l1 .2l1-.1l1-.2l1 .7l1 .6l1-.6l1-.6l1 0l1 .3l1-.2l1-.3l1 0l1 .3l1 .1l1-.1l1 .3l1 .3l1 .1l1-.4l1-.1l1 0l1-.2l1 0l1-.6l1 .5l1-.1l1 .3l1 .5l1 .2l1-.4l1-1.2l1 .6l1 .3l1 .2l1-.5l1 .1l1-.3l1-.2l1-.2l1 .4l1 0l1 .2l1 .5l1-.4l1 .2l1-.3l1-.1l1 .1l1 .2l1 .7l1-1.0l1-.2l1 .4l1 .4l1 0l1-.3l1-.3l1 .2l1 .6l1-.1l1-1.1l1-.4l1 1.0l1 .1l1-.2l1-.3l1 .3l1 .4l1 .5l1 .2l1-.7l1-.3l1-.1l1-.3l1-.7l1 .4l1 .5l1 .8l1-.3l1-.7l1-.2l1-.1l1 0l1 .7l1 .2l1-.7l1-.6l1 .7l1 .5l1-.5l1-.4l1 .6l1 .9l1-.4l1-.3l1-.4l1 0l1-.2l1 .2l1-.7l1 .2l1 1.1l1-.3l1 0l1-.2l1 .2l1-.7l1 .1l1 .8l1-.3l1-1.0l1 .2l1 .8l1 .5l1-.4l1-.4l1-.2l1 .8l1-.2l1-.9l1 .1l1-.6l1 .6l1 .1l1 .1l1-.3l1 .4l1-.4l1 .1l1-.1l1 .1l1 .7l1 0l1 .2l1-.4l1 .1l1 .3l1-.5l1-.4l1-.2l1 .2l1 .6l1-.1l1-.2l1 .1l1 .3l1-.2l1-.7l1 .1l1 .8l1-.3l1-.1l1-.5l1-.4l1 .3l1 .6l1-.2l1 .3l1-.3l1-.7l.4 0l.3 .7l.4 .6l.3-.6l.4-.9l.3 .6l.4-.1l.3-.1l.4-3.9l.3-7.3l.4-2.7l.3-2.7l.4-2.2l.3-1.2l.4-1.6l.3-1.3l.4-.7l.3-.3l.4-.4l.3-.5l.4 .2l.3-.6l.4-.2l.3-.2l.4-.5l.3-.4l.4 .1l.3-.2l.4-.3l.3 0l.4 .4l.3-.1l.4 .1l.3-.2l.4-.3l.3 .4l.4 .9l.3 .1l.4 0l.3 0l.4-.3l.3 .4l.4-.4l.3 .2l.4 .3l.3 0l.4 .1l.3 .7l.4-.2l.8 .9l.8 .4l.8 .1l.8 .1l.8 0l.8 .4l.8 .9l.8-.2l.8 .1l.8 1.1l.8 .5l.8-.8l.8 .3l.8 .2l.8-.1l.8 .2l.8 .8l.8 .3l.8 .2l.8-.5l.8 .1l.8 .6l.8 .6l.8 .6l.8-.1l.8-.1l.8 1.1l.8 1.4l.8 .2l.8 .8l.8 .8l.8 1.3l.8 1.1l.8 .6l.8 1.7l.8 1.7l.8 .5l.8 .8l.8 1.3l.8 .7l.8 .3l.8 1.2l.8 .5l.8 .3l.8 .4l.8 .3l.8 .5l.8 .1l.8 .2l.8 .1l.8 .2l.8 0l.8-.1l.8 .5l.8-.2l.8 .5l.8 .1l.8-.3l.8 .2l.8 .2l.8 .1l.8 0l.8 .5l.8 .1l.8 .1l.8-.5l.8 0l.8 .2l.8-.4l.8 .4l.8 .7l.8-.4l.8-.2l.8-.2l.8 .5l.8-.5l.8-.1l1 .4l1-.4l1-.5l1 .4l1 .6l1 0l1 .3l1 .2l1 .1l1 .1l1-.2l1 .1l1-.3l1 .4l1 0l1 .3l1 .5l1-.8l1-.2l1 .1l1 0l1-.1l1-.1l1-.4l1-.4l1-.2l1 .3l1-.2l1-.1l1 1.0l1 .1l1-.6l1-.6l1 .3l1 .1l1 0l1 .7l1-.3l1-.7l1 .1l1-.4l1 .6l1 .5l1-.2l1-1.0l1 .8l1-.3l1 .1l1-.3l1 .2l1 .3l1-.2l1 .1l1-.4l1-.2l1-.2l1-.1l1 .4l1 .3l1 .5l1-.3l1-.2l1-.9l1 .7l1 .5l1 .4l1 .2l1-.3l1 0l1-.6l1-.2l1 .5l1 0l1 0l1-.6l1 0l1 .3l1 .1l1 .5l1 .5l1-.7l1 0l1-.6l1-.7l1-.1l1 0l1-.1l1 .7l1 .2l1-.8l1 .2l1 .3l1 .9l1 .2l1-.4l1-.3l1-.2l1 .2l1 .6l1-.2l1 0l1 .3l1-.4l1-.3l1-.4l1-.4l1 .5l1 .2l1 .1l1-.7l1-.1l1 .4l1-.1l1 0l1 .1l1-.2l1 .5l1 .7l1-.5l1-.4l1 0l1-.1l1 .4l1 .1l1-.5l1 0l1 .1l1-.4l1 .7l1-.6l1-.5l1 .5l1-.3l1-.2l1 .2l1 .5l1 0l1-.6l1 .3l1-.1l1 .3l1 .4l1 .1l1 0l1-.6l1 .2l1 .1l1-.4l1-.3l1-.3l1 .3l1 1.0l1-.5l1 0l1 0l1-.1l1 .2l1 0l1-.2l1 .4l1-.2l1-.4l1 .2l1 .6l1 .1l1-.7l1 0l1-.4l1-.2l1 .4l1 .5l1 .3l1-1.0l1-.6l1-.4l1 .4l1 .9l1 .3l1 .4l1-.3l1-.5l1 .3l1-.1l1-1.1l1-.3l1 .9l1 0l.3-.7l.4 .1l.3 .1l.4 .6l.3 .4l.4-.3l.3-4.7l.4-6.5l.3-2.8l.4-1.7l.3-2.1l.4-1.2l.3-1.0l.4-1.7l.3-1.1l.4 .3l.3-.5l.4-.1l.3-.5l.4-.8l.3 .2l.4-.2l.3-.2l.4-.1l.3 .1l.4 0l.3-.3l.4 .6l.3 .4l.4-.4l.3 .2l.4-.4l.3-.4l.4 .2l.3 .7l.4-.3l.3-.1l.4 .6l.3-.1l.4-.1l.3-.4l.4 .3l.3 .6l.4 .6l.3 .2l.4-.1l.8 .2l.8 .7l.8-.1l.8-.1l.8 0l.8 1.1l.8 .6l.8 .1l.8-.2l.8 .7l.8-.2l.8-.5l.8 .7l.8 .4l.8 .3l.8-.3l.8 0l.8 .9l.8 1.0l.8-.5l.8-.3l.8 0l.8 .1l.8 .7l.8 .8l.8-.1l.8 .5l.8 .8l.8 1.0l.8 .5l.8 1.0l.8 1.7l.8 1.2l.8 .6l.8 .6l.8 .9l.8 .4l.8 .8l.8 1.3l.8 1.2l.8 .8l.8 .2l.8 .1l.8 .7l.8 .6l.8 .6l.8 .5l.8 .2l.8 .3l.8-.1l.8 0l.8 .4l.8-.2l.8-.5l.8 .8l.8 .1l.8-.3l.8 .4l.8-.1l.8 .5l.8-.8l.8 .4l.8 0l.8 .2l.8 .5l.8 .2l.8 .2l.8-.1l.8-.7l.8 .1l.8 .2l.8-.2l.8-.3l.8 .9l.8 .2l.8 0l.8-.2l1-.6l1-.2l1 0l1-.3l1 .3l1 .3l1 .2l1 .1l1 .5l1-.5l1 0l1-.1l1-.5l1 .3l1-.5l1 .2l1 .1l1 .2l1 .5l1 .3l1-.2l1-.2l1-.5l1-.2l1 .2l1-.1l1 .4l1 .5l1 .2l1-.3l1-.7l1 .3l1-.1l1-.3l1-.2l1 .5l1 .4l1-.4l1 0l1 .4l1-.4l1 0l1 .7l1 .1l1-.7l1-.4l1-.2l1-.1l1 .2l1 .7l1 .1l1-.8l1 0l1 .3l1-.2l1-.4l1-.4l1 0l1 .6l1 .3l1 0l1 .1l1-.3l1-.4l1-.3l1 .9l1-.3l1 .5l1 .3l1-.3l1-.1l1-.1l1 0l1-.4l1-.4l1 .1l1-.2l1 .6l1 .3l1 .1l1-.7l1-.2l1 .4l1 0l1-.2l1-.2l1 .2l1 .5l1-.1l1 .2l1 .6l1-.2l1-.4l1 0l1-.6l1-.1l1 .4l1 .2l1 .1l1 .3l1-.8l1 .4l1 .2l1-.1l1-.5l1-.3l1 .2l1 0l1-.2l1 .4l1-.4l1-.2l1 .6l1-.1l1-.5l1 .2l1 0l1-.2l1 0l1 .5l1 .2l1-.2l1 .4l1 .1l1 .2l1-.4l1-.3l1 .2l1-.2l1-.5l1 .2l1 .4l1-.1l1 .1l1-.4l1 .2l1-.1l1-.3l1 .1l1 .4l1 .8l1-.3l1-.3l1 .5l1-.4l1-.2l1 .3l1-.2l1-.3l1-.2l1 0l1-.1l1-.1l1 .1l1-.1l1-.2l1 .3l1 .7l1 .2l1-.5l1-.4l1 .1l1 .3l1 .2l1-.5l1-.4l1 .1l1 .4l1 .4l1 0l1-.9l1 .1l1 .3l1-.4l1 0l1-.2l1 .5l1 .7l1 .2l1-.7l1 .1l1 .5l1 0l1-.2l1-.1l1-.4l1-.4l1 .3l1 .4l1-.1l1 .2l1 0l1-.1l1-.2l1-.7l1 .2l1 .4l1-.3l1-.3l1 .2l1 0l1 .6l1 0l1-.3l1 .1l1-.1l1 .3l1-.4l1 .4l1-.2l1-.3l1-.2l1 .1l1 .3l1-.2l1 .1l1 .4l1-.7l1-.3l.3-.3l.4-.1l.3 .7l.4 .1l.3-.4l.4-.1l.3 .4l.4-.1l.3 .3l.4-4.7l.3-5.2l.4-2.6l.3-1.9l.4-1.9l.3-.5l.4-.7l.3-1.8l.4-.6l.3-.1l.4-.6l.3-.3l.4 .3l.3-.3l.4-.2l.3-.5l.4-.3l.3-.5l.4-.4l.3 .4l.4 .6l.3 .1l.4-.5l.3 .4l.4-.5l.3-.2l.4 .6l.3 .2l.4-.2l.3 .3l.4 .3l.3 .1l.4-.3l.3 .4l.4 1.2l.3-.5l.4-.6l.3 .5l.4 .4l.3-.1l.8-.4l.8 .5l.8 .7l.8 .6l.8 .3l.8-.3l.8 .1l.8 .8l.8-.4l.8 .3l.8 .7l.8 0l.8 .6l.8 .1l.8 .2l.8 .3l.8-.4l.8-.3l.8 .9l.8 .3l.8 0l.8 .1l.8-.1l.8 .3l.8 .7l.8 .2l.8 .7l.8 .2l.8 .4l.8 .5l.8 1.0l.8 1.2l.8 1.2l.8 1.2l.8 1.0l.8 .7l.8 .8l.8 .8l.8 1.2l.8 .8l.8 .5l.8 .5l.8-.3l.8 0l.8 .8l.8 1.0l.8-.1l.8-.2l.8 .1l.8 .4l.8 .2l.8 .3l.8 .1l.8-.1l.8-.8l.8 .2l.8 .3l.8-.4l.8 .4l.8 .7l.8 .2l.8 0l.8-.4l.8 .4l.8-.2l.8 .2l.8-.1l.8 .4l.8-.2l.8-.3l.8 .1l.8 .4l.8 .4l.8-.6l.8 .3l.8 0l1 0l1 .1l1 0l1-.4l1-.2l1 0l1 .6l1 .3l1-.1l1-.3l1-.3l1-.2l1 .2l1-.2l1-.2l1-.1l1-.1l1 .5l1 .2l1 .3l1-.1l1 .6l1-.6l1-.4l1 .2l1-.2l1 .2l1-.6l1 0l1 1.1l1-.3l1-.4l1-.4l1-.2l1 .2l1 .3l1-.2l1-.4l1 .8l1 .2l1-.3l1-.7l1 .1l1 0l1 0l1-.3l1 .6l1-.5l1-.6l1 .8l1 .1l1 .2l1-.7l1 0l1 0l1 .4l1-.4l1-.2l1 .2l1 .3l1 .5l1-.4l1-.1l1 .2l1 .1l1-.1l1-.2l1-.1l1 .1l1 .1l1 .2l1 .2l1-.8l1-.2l1 .5l1 .3l1 .3l1-.1l1 .1l1 .5l1-.4l1-.7l1 .1l1-.2l1 .1l1-.1l1-.2l1 0l1 .3l1 .3l1 0l1-.1l1-.1l1 .2l1 .1l1-.7l1-.4l1 .4l1 .3l1 .5l1 .3l1-.3l1-.7l1 .6l1 .4l1-.1l1 .1l1-.2l1-.3l1 .3l1-.4l1-.6l1 .4l1-.3l1-.1l1-.5l1 .5l1 .5l1-.4l1-.6l1 .4l1 .8l1-.2l1 .3l1 .4l1-.4l1 0l1 0l1-.9l1 .4l1 .4l1 0l1-.1l1-.4l1-.1l1 .8l1-.3l1-.9l1 .2l1 .7l1 0l1-.3l1-.1l1 .1l1 .1l1-.2l1-.1l1-.1l1 .5l1-.4"/>
<path stroke="#ea2b7f" d="M98.6 1459l1 .1l1-.2l1-.4l1 .1l1 0l1-.3l1 .9l1 .8l1-1.0l1-.3l1 .3l1-.3l1-.2l1 .3l1 0l1 .1l1 .4l1 0l1 .1l1 .3l1-.2l1-.1l1-.2l1 .3l1 .1l1-.5l1-.2l1-.3l1 .2l1 .2l1 .2l1-.1l1 .6l1 .2l1-.1l1 0l1-1.1l1-.6l1 .4l1 0l1-.1l1 .3l1 .6l1 .2l1-.4l1 .2l1-.2l1 .1l1 .3l1-.3l1-.1l1-.1l1-.2l1 .7l1 .5l1-.6l1 .1l1 .1l1-.3l1-.3l1-.3l1-.3l1 .3l1 .5l1 0l1-.3l1 .3l1-.9l.3 0l.4 .2l.3-.5l.4-.6l.3-3.1l.4-5.4l.3-5.7l.4-4.4l.3-3.4l.4-1.8l.3-.7l.4-1.3l.3-.2l.4 .5l.3-.3l.4-.6l.3-.7l.4-.2l.3 .8l.4 .2l.3-.3l.4-.1l.3-.3l.4-.2l.3-.1l.4-.1l.3 .3l.4 .7l.3-.1l.4 0l.3 .4l.4-.1l.3-.2l.4 .1l.3 0l.4-.2l.3 .1l.4-.2l.3 .2l.4 .2l.3 .1l.4 .5l.3 .4l.4 .5l.3-.4l.4-.1l.3-.2l.4 .2l.3 .3l.8 .5l.8 0l.8-.2l.8 .1l.8 .6l.8 .3l.8-.2l.8 .8l.8-.1l.8-.3l.8 .6l.8 .8l.8 .1l.8-.4l.8 .3l.8 .8l.8 .2l.8 .4l.8-.2l.8-.4l.8 0l.8 0l.8 .5l.8 .6l.9 0l.8-.3l.8 .1l.8 .6l.8 .1l.8 1.5l.8 1.7l.8 .8l.8 .9l.8 1.7l.8 1.5l.8 1.4l.8 .5l.8 1.2l.8 .9l.8 1.2l.8 .5l.8 .2l.8 .8l.8 .5l.8 .7l.8 .4l.8 .3l.8 0l.8 .1l.8 .3l.8 .3l.8-.1l.8 1.2l.8 .1l.8-.2l.8-.4l.8 .1l.8 .5l.8 .7l.8-.2l.8 .1l.8 .6l.8-.4l.8-.6l.8 0l.8 1.2l.8 1.0l.8-.1l.8-.3l.8-.2l.8 .6l.8-.2l.8 .7l.8 .5l.8-.7l.8-.7l1 .3l1 0l1 .4l1 .6l1 .4l1-.2l1-.4l1-.1l1-.2l1 .2l1 0l1 .4l1 .1l1-.3l1-.2l1 0l1 .5l1 0l1-.1l1-.4l1 .1l1 0l1 .5l1 .4l1-.4l1-.6l1-.8l1 0l1-.2l1 .5l1 .8l1 .3l1-.9l1-.5l1 .9l1 .1l1-.7l1-.5l1 .8l1-.1l1-.4l1-.7l1 .4l1 .7l1-.5l1 .1l1-.1l1 0l1 0l1-.4l1 .1l1 0l1-.2l1 .2l1-.2l1-.1l1 .9l1-.1l1-.4l1-.1l1-.5l1 .3l1 .3l1-.1l1-.4l1 .2l1 .2l1-.1l1 .7l1-.8l1-.6l1 .6l1 .5l1-.5l1 .8l1 0l1-.4l1 .1l1 .2l1-.8l1 0l1 .1l1 .3l1-.3l1-.1l1 .2l1 .3l1 .1l1-.5l1 .1l1 .2l1 .3l1 .2l1-.7l1-.3l1 .2l1 .3l1 .3l1-.2l1 .2l1 0l1 .3l1-.1l1 .3l1-.4l1-.9l1 .2l1-.1l1 0l1 .2l1-.2l1 .7l1 .7l1 0l1-.6l1-.2l1-.4l1 .2l1-.2l1 .1l1 .2l1 .1l1 0l1 .3l1-.3l1 .2l1-.2l1-.1l1 .4l1-.3l1-.3l1 .3l1-.4l1 0l1-.2l1 .1l1-.8l1 .2l1 .6l1 .3l1-.1l1 .4l1-.3l1-.4l1-.2l1 .7l1-.2l1 0l1 .4l1 .2l1-.2l1 .2l1-.4l1-.2l1 .5l1 .6l1-.5l1-.5l1 .4l1 0l1-.3l1 .2l1-.2l1-.4l1 .4l1-.4l1 .4l1-.3l1 0l1 .2l1 0l1 .3l1 .3l1 .2l1-.7l1-.1l1 .2l1-.3l1-.2l1 .2l1 .5l1 .4l1-1.1l1 0l1 .2l1 .9l1-.3l1-.3l1-.6l1 .6l1 .3l1 .2l1 .3l1-.1l1 .2l1-.7l1-.5l1 .5l1 .1l1-.4l1 .2l1 0l1-.4l1 .1l1 .9l1-.2l1 0l1 0l1-.7l1 .1l1 .5l1 .3l1-.2l1-.3l1 0l1 .1l1-.1l1-.4l1 .7l1-.5l1 .2l1 .1l1-.6l1 0l1 .3l1 .2l1 .1l1 0l1 .2l1-.1l1-.4l1 .1l1 .1l1-.5l1-.2l1 .4l1 0l1-.3l1 .4l1 1.0l1-.2l1-.1l1 .5l1 0l1-.4l1 .3l1-1.1l1-.6l1 .5l1 .7l1 .4l1 .7l1-.2l1-.9l1-.6l1 0l1 .5l1-.2l1 .1l1 .1l1 .5l1 .5l1-.3l1 .1l1-.8l1-.4l1 .3l1-.8l1 .7l1 0l1-.2l1-.1l1 .3l1-.3l1 0l1 .6l1 .4l1-.1l1-.3l1-.5l1 .4l1 .1l1 .1l1-.3l1-.3l1 .2l1-.2l1 .8l1 .6l1-.5l1-1.1l1 .2l1 .4l1-.1l1 .1l1 0l1-.3l1 .4l1 .3l1-.1l.3-.5l.4 .3l.3 .1l.4-.2l.3-1.1l.4-1.7l.3-3.3l.4-4.4l.3-5.5l.4-4.6l.3-2.1l.4 .2l.3 .1l.4-.5l.3-.9l.4-1.0l.3 .2l.4 .1l.3 0l.4-.3l.3-.1l.4-.5l.3 0l.4 .2l.3 .2l.4-1.0l.3 0l.4 .7l.3 .3l.4 .7l.3-.3l.4-.4l.3-.1l.4 .4l.3 .2l.4-.2l.3 .1l.4-.2l.3-1.0l.4 .3l.3 1.3l.4 .4l.3-.1l.4 0l.3 .1l.4-.3l.8 .2l.8 .5l.8-.2l.8 .5l.8 .3l.8 .1l.8 .7l.8 .1l.8-.1l.8 0l.8 .6l.8 .1l.8 .8l.8 .3l.8-.4l.8 .6l.8 .6l.8-.5l.8-.2l.8 .3l.8-.2l.8 0l.8-.3l.8 .3l.8 .6l.8 .1l.8 0l.8 0l.8 .5l.8 1.0l.8 .6l.8 .9l.8 .9l.8 1.2l.8 1.3l.8 1.6l.7 .8l.8 1.0l.8 1.3l.8 .4l.8 1.0l.8 1.0l.8 .3l.8-.6l.8 .6l.8 .8l.8 .3l.8 .3l.8 .8l.8-.4l.8-.3l.8 .5l.8 .3l.8 .4l.8 .2l.8-.1l.8 .3l.8 1.2l.8-.4l.8-.4l.8 .1l.8 .3l.8 .6l.8-.3l.8 0l.8 .6l.8 .3l.8 .5l.8-1.2l.8-.4l.8 1.0l.8 .3l.8 .4l.8-.2l.8 .1l.8-.3l.8 .2l1-.6l1-.5l1 .5l1 .6l1 .8l1-.2l1 .2l1-.2l1-.7l1 .6l1 0l1 .2l1 0l1-.2l1 0l1-.5l1-.1l1 .7l1-.3l1 .1l1 .4l1 0l1-.6l1 0l1 .5l1-.2l1 .1l1 0l1-.2l1 .1l1-.1l1 .1l1 .7l1-.3l1-.7l1-.2l1-.2l1 .3l1-.1l1 .2l1-.3l1-.2l1 .2l1 .4l1 .3l1-.1l1-.1l1 .2l1 .2l1 .5l1-.6l1-.3l1 .1l1-.1l1 0l1-.4l1-.1l1 .5l1-.7l1 .1l1 .8l1 .3l1-.5l1-.3l1 .1l1 0l1-.2l1-.2l1 .2l1 .1l1 .2l1-.1l1 0l1 .4l1-.7l1 0l1 .8l1-.1l1-.3l1-.6l1-.3l1 0l1-.2l1 1.2l1-.1l1-.7l1 .2l1 .6l1 0l1 .4l1-.2l1-.1l1 .5l1-.2l1-.4l1-.1l1 .9l1-.6l1-.5l1 .2l1 .2l1 .2l1 .2l1-.2l1 0l1-.2l1 .1l1-.1l1-1.2l1-.4l1 .8l1-.1l1 0l1 .6l1-.1l1 .1l1 0l1-.2l1 .3l1-.2l1-.2l1 .2l1 .6l1-.3l1-.1l1-.3l1-.1l1-.1l1 .4l1 0l1 .1l1 .5l1-.4l1 .2l1 .2l1-.4l1 .2l1 0l1 .2l1 .2l1-1.0l1-.2l1 .5l1-.7l1 .1l1 .5l1 .2l1-.2l1-.3l1 .2l1 0l1-.4l1 0l1-.7l1 .8l1 .4l1-.5l1 .2l1 .7l1 .1l1-.8l1 .3l1 0l1-.4l1 .3l1 .5l1 .2l1 0l1 .4l1-.1l1-1.0l1-.2l1-.4l1 .1l1 .2l1 .7l1 .5l1-1.1l1 .2l1 0l1 .4l1-.1l1-.7l1-.3l1-.3l1 .4l.4 .8l.3 .3l.4-.3l.3-.4l.4 0l.3-.5l.4 0l.3 .4l.4-1.0l.3-3.3l.4-4.3l.3-4.5l.4-3.2l.3-2.6l.4-1.4l.3-.5l.4-1.1l.3 .7l.4 .2l.3-.6l.4-.3l.3-.5l.4 .3l.3 .7l.4 0l.3-.4l.4-.6l.3-.2l.4 .3l.3-.4l.4 .1l.3 .6l.4 .5l.3-.9l.4 .1l.3 0l.4 .6l.3 0l.4-.2l.3 .5l.4-.8l.3-.2l.4 .6l.3 .6l.4 0l.3 .3l.4-.1l.3-.8l.4 0l.8 .9l.8 .2l.8 .4l.8 .4l.8 .1l.8 .1l.8 0l.8 .2l.8 .7l.8 0l.8 .3l.8 .4l.8-.3l.8-.1l.8-.3l.8-.2l.8 .5l.8 .3l.8-.1l.8 .8l.8 .3l.8-.2l.8-.1l.8 .9l.8 .2l.8-.7l.8 .8l.8 .2l.8 .1l.8-.1l.8 1.1l.8 .7l.8 1.0l.8 1.2l.8 1.1l.8 1.1l.8 1.2l.8 1.2l.8 .6l.8 1.1l.8-.1l.8 .4l.8 .6l.8 .1l.8-.1l.8-.1l.8 1.4l.8-.1l.8-.1l.8 .2l.8 .7l.8 .1l.8 .6l.8 .9l.8 .4l.8-.1l.8-.1l.8 0l.8 0l.8 .2l.8-.2l.8 0l.8 .8l.8-.5l.8-.2l.8 .6l.8 .7l.8-.4l.8-.4l.8 .4l.8 .5l.8-.8l.8-.3l.8 .1l.8 .6l.8 .2l.8 .3l1 .1l1-.1l1 .3l1-.2l1 .1l1 .3l1-.3l1-1.0l1-.1l1 1.2l1-.3l1-.1l1 .5l1 .3l1-.4l1 0l1-.8l1-.5l1 .1l1 .8l1 .1l1 .2l1 .2l1-.4l1 .9l1-.8l1-.7l1 1.1l1 .5l1-.8l1-.3l1 .6l1-.2l1-1.1l1 .5l1 .2l1-.5l1 .2l1 0l1 .4l1 .6l1 .1l1-.6l1-.2l1-.2l1 .3l1 .6l1-.6l1-.6l1 .2l1 .3l1 .2l1-.3l1 .6l1-.1l1-.3l1 .3l1 .3l1-.8l1 .1l1 .3l1-.2l1-.4l1 .3l1 .6l1-.3l1-.4l1-.1l1-.2l1 .2l1 .7l1-.1l1 .1l1-.2l1 .1l1 0l1 .3l1 .3l1-.8l1-.5l1 .8l1 .5l1-.4l1-.4l1-.2l1-.6l1 .3l1 .8l1 .6l1-.1l1-.7l1-.5l1-.2l1 0l1 0l1 .1l1 .5l1-.4l1 .8l1 .1l1-.6l1 .1l1 .1l1 .5l1 0l1-.3l1-.5l1 .4l1-.2l1 .4l1 .3l1-.7l1-.5l1 .5l1 .5l1-.8l1 .1l1 .3l1 .3l1-.7l1-.1l1 0l1 .2l1-.3l1-.1l1 0l1 .6l1 0l1-.2l1-.4l1 .7l1 .2l1 .5l1 0l1-.9l1 0l1-.1l1 .2l1 .1l1-.2l1 .1l1 .3l1-.8l1 .2l1-.1l1 0l1 .2l1 .1l1-.2l1 .5l1-.3l1-.2l1-.2l1 .2l1-.3l1 .2l1 .7l1 0l1-.9l1 .1l1 1.2l1-.3l1-.5l1-.2l1 0l1-.1l1-.1l1-.2l1 .4l1 .1l1-.2l1-.1l1 .1l1 .5l1-.3l1-.3l1 .4l1 0l1 .1l1 .5l1 .1l1-.1l1 .2l1 .1l1-.7l1-.2l1-.3l.3 .1l.4-.1l.3 .2l.4-.2l.3 0l.4-.4l.3-1.6l.4-3.0l.3-4.5l.4-3.6l.3-4.0l.4-2.8l.3-.6l.4-.4l.3-.1l.4 .2l.3-.5l.4-.8l.3-.3l.4 .6l.3 0l.4-.6l.3 .4l.4 .1l.3 .2l.4 .5l.3-.3l.4 0l.3-.2l.4 .2l.3-.5l.4 0l.3 .2l.4 .1l.3-.3l.4-.3l.3 .7l.4 .4l.3 .3l.4-.5l.3 .4l.4 .4l.3-.5l.4-.6l.3-.1l.4 .4l.8 .5l.8-.1l.8 .5l.8-.1l.8 .6l.8 .3l.8-.1l.8 .6l.8-.5l.8-.5l.8 .9l.8 .5l.8 0l.8 .6l.8 .5l.8-.2l.8 .2l.8 .2l.8-.1l.8 .1l.8-.3l.8-.2l.8 .4l.8 0l.8 .3l.8 .3l.8 0l.8-.3l.8 .8l.8 .3l.8 .8l.8 1.4l.8 .9l.8 1.6l.8 .8l.8 1.4l.8 1.0l.8 .6l.8 .6l.8-.3l.8 1.3l.8 .8l.8 .6l.8 .2l.8 .4l.8 .4l.8 .6l.8 .2l.8-.1l.8 .9l.8 .2l.8 .5l.8-.5l.8 .3l.8 .6l.8-.2l.8 .3l.8-.2l.8 .1l.8 .1l.8 .5l.8 .5l.8-.6l.8 .1l.8 0l.8 .1l.8 .2l.8 .1l.8 .5l.8 .3l.8-1.0l.8 .2l.8 .6l.8 .1l.8-.4l.8 .9l.8 .1l1 .3l1-.4l1-.5l1-.2l1 .3l1-.1l1-.4l1 .3l1 .2l1 0l1-.5l1-.1l1 .3l1 .3l1-.5l1-.5l1 .3l1 .9l1 .1l1-.3l1 0l1-.4l1 0l1 .3l1 .4l1-.4l1-.5l1 .2l1 .1l1 .5l1 .1l1-.3l1-.2l1 .4l1-.2l1-.7l1 .3l1 .4l1 0l1 0l1 .1l1 .3l1-.1l1-.4l1-.7l1-.5l1 .4l1 .5l1 .6l1 .6l1-.6l1-.7l1 .3l1-.3l1-.2l1 .4l1 .4l1-.1l1 .1l1-.3l1-.2l1 .4l1 .5l1-.3l1 .3l1 .2l1 0l1-.4l1 0l1-.3l1-.7l1 .1l1 .5l1 .5l1-.8l1-.2l1 .6l1 .2l1-.4l1-.8l1-.3l1 1.3l1 0l1-.1l1-.4l1-.2l1 .4l1 .7l1 .3l1 .1l1-1.0l1-.2l1 .3l1 .5l1 0l1-.7l1-.1l1-.2l1 .1l1 .6l1-.1l1 .2l1 .3l1 .1l1 .3l1-.3l1-.6l1-.3l1 .3l1 .3l1-.3l1-.5l1 0l1 .3l1 .9l1-.3l1-.8l1 .2l1 .4l1-.1l1-.6l1-.4l1 .9l1-.1l1 .5l1 0l1-.5l1-.1l1 .1l1-.1l1 0l1 .3l1 .6l1-.3l1-.9l1-.1l1 .6l1 .3l1-.6l1-.5l1 .9l1-.5l1 .1l1-.1l1-.2l1-.1l1 .2l1 .9l1 .4l1-.5l1-.1l1 .1l1 0l1-.3l1 .2l1-.3l1-.5l1-.7l1 .6l1 .1l1 .6l1 0l1-.5l1 .2l1 .1l1 0l1 .4l1-.1l1-.5l1-.3l1 .5l1-.4l1 .1l1 .4l1 .4l1-.1l1-.3l1 .2l1 .3l1 .3l1-.4l1-.6l1-.3l1 .2l1-.3l1-.3l1 .5l1 .9l1 .1l1-.6l1-.4l1-.1l1 0l1 .7l1 .1l1-.4l1 0l1-.1l1 0l1 .1l1-.3l1 .2l1 .5l1-.3l1 .3l1 .3l1 0l1 0l1-.2l1 .1l1-.5l1-.4l1 .2l1-.1l1-.2l1 .6l1 .2l1-.8l1-.1l.3 .3l.4 .3l.3 .4l.4-.3l.3-.1l.4-.4l.3 .2l.4 .1l.3-.9l.4-2.3l.3-2.5l.4-3.9l.3-4.3l.4-3.7l.3-2.8l.4-1.0l.3-.5l.4 .4l.3-.2l.4-.1l.3 .4l.4-.5l.3-.4l.4-.1l.3 .1l.4-.2l.3 .5l.4 .1l.3-.5l.4 0l.3-.7l.4 .3l.3 .3l.4 .2l.3 .6l.4 .7l.3-.2l.4-.5l.3-.5l.4-.2l.3 .3l.4-.1l.3 0l.4 .6l.3 .3l.4-.4l.3 .6l.4 .3l.3 .4l.8-.6l.8 .2l.8-.5l.8 .2l.8 .5l.8 .4l.8 .2l.8-.4l.8 .3l.8 .3l.8 .4l.8 .7l.8 .2l.8-.7l.8 .4l.8 .2l.8 .3l.8 .3l.8-.2l.8-.4l.8 .8l.8 0l.8-.2l.8 .5l.8-.2l.8-.4l.8 1.1l.8 1.0l.8-.1l.8 .2l.8 1.0l.8 .9l.8 1.7l.8 1.4l.8 .4l.8 .7l.8 1.6l.8 .8l.8 .5l.8 .9l.8 .1l.8-.2l.8 1.1l.8 .3l.8 .4l.8 .9l.8-.1l.8 .1l.8 0l.8 .4l.8 .5l.8 .5l.8 .6l.8 0l.8-.6l.8 .2l.8 .3l.8 0l.8 .3l.8 .7l.8 0l.8 .1l.8-.1l.8-.3l.8-.3l.8 .3l.8 .4l.8 .2l.8-.2l.8 0l.8 0l.8 .2l.8 .9l.8 .3l.8 .1l.8-.3l1-.6l1 .5l1-.1l1 0l1-.2l1-.2l1-.6l1-.2l1 .6l1 .4l1 .2l1 .1l1 .2l1-.1l1-.2l1-.2l1 .2l1 .4l1-.6l1 0l1 .3l1-.1l1 .1l1 .2l1-.6l1-.3l1 .3l1-.5l1 .6l1-.1l1-.1l1 0l1-.5l1-.3l1 0l1 .5l1-.1l1-.3l1 .7l1 .2l1 .3l1 0l1 0l1 0l1-.3l1 .2l1 0l1 0l1 .6l1 .1l1-.4l1-.4l1-.1l1 .1l1 .2l1 .2l1-.2l1-.2l1 0l1 .1l1 .4l1-.4l1-.1l1 .3l1-.6l1-.3l1 .8l1 .4l1-.3l1-.6l1-.1l1-.3l1 .4l1 .2l1-.1l1 .4l1 0l1-.1l1 .2l1-.3l1 .2l1 .5l1-.1l1-1.1l1-.1l1 0l1 .4l1 .2l1-.2l1-.4l1 .3l1-.3l1-.1l1 .3l1 .2l1 .1l1-.1l1 .3l1-.5l1-.4l1 0l1 .6l1 .7l1-.5l1-.7l1-.1l1 .3l1 .1l1 1.1l1-.7l1-.4l1 .2l1-.4l1-.1l1 .1l1 .1l1 .2l1 0l1 .1l1 .2l1-.8l1 .6l1-.1l1 .5l1-.3l1-.8l1 0l1 .3l1-.3l1 .4l1 .7l1-.4l1 0l1-.1l1 .1l1 .2l1 .5l1 .2l1-.6l1-1.1l1 .4l1 .9l1 0l1-.1l1-.1l1-.5l1-.3l1 .1l1 .4l1 .2"/>
<path stroke="#c7b899" d="M98.6 1495.3l1-.1l1-.3l1 .1l1-.3l1 .1l1 0l1-.1l1-.1l1 0l1-.3l1 .1l1 .5l1 .1l1-.4l1 .6l1 .2l1-.1l1 0l1-.1l1-.7l1-.6l1 .3l1 .7l1 0l1 .5l1-.2l1-.4l1 0l1-.8l1 .8l1 .2l1-.5l1-.3l1-.2l1 .2l1 .3l1-.1l1-.3l1 .2l1 .5l1-.1l1-.1l1 .5l1-.2l1-.4l1 .3l1-.4l1 .2l1 .4l1-.1l1-.3l1 .6l1 0l1-.2l1-.3l1-.3l1 .3l1 .6l1-.4l1-.5l1-.2l1-.3l1 0l1-.7l1 .1l1 .8l1 1.1l1-.5l.3-.2l.4 0l.3 .6l.4-.8l.3-4.0l.4-5.2l.3-4.5l.4-2.1l.3-.2l.4-.3l.3-.7l.4 .7l.3 .1l.4-.5l.3-.1l.4-.3l.3-.3l.4 .5l.3-.2l.4-.4l.3-.4l.4 .5l.3 .8l.4-.1l.3-.2l.4 .4l.3-.3l.4-.1l.3-.1l.4-.3l.3 .8l.4 .4l.3 .1l.4 .5l.3-.9l.4 .1l.3 .2l.4 .3l.3 .1l.4 0l.3-.3l.4 .5l.3 .3l.4-.5l.3-.7l.4-.1l.3 .5l.4 .4l.8-.2l.8 .6l.8 .2l.8 0l.8 .5l.8-.1l.8 .7l.8 .6l.8-.9l.8 .5l.8 .8l.8-.3l.8-.3l.8 .1l.8-.2l.8 .5l.8 .4l.8-.1l.8 0l.8-.2l.8 1.0l.8-.2l.8 .1l.8 .1l.8 .2l.8 .3l.8 .2l.8-.2l.8 .2l.8 .9l.8 .1l.8 1.0l.8 .4l.8 1.0l.8 1.4l.8 .9l.8 .8l.8 .9l.8 .5l.8 .2l.8 .3l.8 .3l.8 1.0l.8 1.1l.8-.2l.8-.1l.8-.4l.8-.3l.8 .6l.8 .4l.8-.3l.8 0l.8 .7l.8 .3l.8 0l.8 .7l.8-.5l.8-.2l.8 .1l.8 .5l.8-.5l.8 .5l.8 .5l.8 .4l.8-.1l.8-.4l.8 .4l.8-.3l.8-.3l.8 1.4l.8-.1l.8 0l.8 .1l.8-.5l.8-.2l.8 .5l1 .5l1-.1l1-.7l1 .2l1-.4l1 .4l1 0l1 .5l1 .2l1-.1l1 .2l1-.1l1-.1l1 .2l1-.5l1-.3l1 .1l1-.2l1 .1l1 .3l1 .8l1-.2l1-1.3l1-.1l1 .7l1 .2l1 .4l1-.3l1-.2l1 .4l1-1.1l1 .3l1 .5l1-.3l1-.8l1-.1l1 .6l1-.2l1 0l1 .1l1 .1l1 .6l1-.3l1-1.0l1 .4l1-.2l1-.4l1 .4l1 .1l1-.3l1 .5l1 .3l1-.8l1-.4l1 .2l1 .7l1 .3l1-.8l1-.4l1 0l1 .4l1 .9l1-.5l1-1.3l1 .4l1 .4l1-.3l1 0l1 .2l1 .5l1-.1l1-1.3l1 .9l1 .9l1-.4l1-.3l1 .2l1 .3l1 0l1-.5l1-.6l1 .5l1 .2l1-.9l1-.5l1 1.0l1 .3l1-.6l1 .3l1-.4l1 .2l1 .2l1-.5l1 .3l1 .1l1 .4l1-.5l1 0l1 .1l1-.3l1 0l1 .1l1 .4l1-.6l1-.2l1 0l1 .2l1 .3l1-.3l1-.2l1-.1l1 .3l1 .3l1-.2l1 .6l1 .4l1-.6l1-.1l1-.9l1 .2l1 .6l1-.2l1-.4l1 .8l1 .8l1-.9l1-1.0l1-.1l1 .2l1 .6l1 .6l1 .1l1 .1l1-.6l1 0l1 .3l1-.3l1 .4l1-.3l1-.9l1 0l1 .1l1 0l1 .1l1 0l1 .6l1 0l1 0l1-.2l1-.6l1 .3l1 0l1 .4l1-.7l1 .4l1-.4l1 .2l1 .2l1-.6l1 .1l1 .3l1-.8l1-.2l1 1.0l1 .7l1 .2l1-.4l1-.1l1 .2l1-.3l1-.4l1-.9l1 .5l1 0l1 0l1 .4l1 .3l1 .8l1 .1l1-.2l1 .1l1-.9l1-1.0l1 .2l1 .8l1 .1l1-.1l1-.4l1-.4l1 .7l1 .4l1 0l1-.4l1-.1l1 .1l1-.8l1 .4l1 .5l1 .7l1 .3l1-.1l1-.8l1-.3l1 .3l1 .2l1-.7l1-.8l1 .9l1 0l1-.6l1 .3l1 .3l1 0l1 .2l1 0l1-.2l1 .4l1-.3l1-.6l1 .1l1 .4l1 .6l1-.1l1-.3l1 .1l1-.2l1 .1l1 .4l1 0l1-.2l1-.1l1 0l1 .3l1-.1l1-.1l1-.5l1 .8l1-.4l1-.3l1 .8l1 .5l1-.1l1-.3l1-.4l1 .1l1 .4l1-.4l1 .3l1 .3l1-.5l1-.9l1 .1l1-.2l1 1.0l1 .2l1-.6l1-.5l1 .1l1 .1l1 .5l1 .3l1 .3l1-.9l1-.1l1 1.0l1-.8l1-.4l1 .9l1 .5l1-.4l1 0l1-.1l1-.4l1 .2l1 .3l1-.1l1 .3l1-1.0l1-.2l1 .2l1 0l1 .3l1 .7l1 .1l1-1.1l1-.3l1 .1l1 .4l1-.1l1-.1l1 .2l1 .2l1-.2l1 0l1 0l1 .8l1-.1l1 .5l1 .1l1-.9l.4-.7l.3 .4l.4-.1l.3 .3l.4-.4l.3-.7l.4-4.3l.3-5.7l.4-2.8l.3-.6l.4-1.9l.3-.7l.4-.3l.3 .1l.4 0l.3 .1l.4 .1l.3-.3l.4-.9l.3-.4l.4 .7l.3 .4l.4 .5l.3 .3l.4-.4l.3-.4l.4 .1l.3 0l.4 .1l.3 0l.4 .3l.3-.4l.4-.1l.3 .7l.4 .4l.3-.1l.4-.7l.3-.4l.4 .6l.3 1.2l.4 .2l.3 .1l.4 .3l.3 .1l.4-.1l.3-.1l.8 .7l.8-.1l.8-.6l.8 .6l.8 .9l.8 .2l.8-.8l.8 .2l.8 .1l.8-.3l.8 .3l.8 .2l.8-.2l.8 .5l.8 0l.8-.1l.8 .4l.8 .9l.8 .2l.8-.4l.8-.4l.8-.4l.8 1.0l.8 .9l.8 0l.8 .1l.8-.3l.8-.3l.8 .6l.8 .8l.8 .1l.8-.1l.8 .7l.8 1.4l.8 1.1l.8 1.1l.8 0l.8 .4l.8 1.2l.8 .4l.8 .8l.8 .8l.8 .9l.8 1.1l.8-.2l.8-.5l.8 .2l.8 .8l.8-.3l.8-.3l.8 .4l.8 0l.8 .8l.8 .5l.8-.7l.8 .2l.8 0l.8 .3l.8 .3l.8-.9l.8 .6l.8 .9l.8-.5l.8-.3l.8 .4l.8 .5l.8 .4l.8 .4l.8 .3l.8-.2l.8-.1l.8-.2l.8-.5l.8 .7l.8 .3l.8-.5l.8 .3l1 .2l1-.3l1-.2l1-.4l1 .2l1 .7l1 .4l1-.7l1 .5l1-.5l1-.7l1-.4l1 .8l1 .3l1-.5l1 .3l1 .3l1 .2l1-.1l1-.1l1 .3l1-.2l1-.4l1-.2l1-.3l1-.6l1 .6l1 .1l1 .5l1-.1l1-.2l1-.3l1 .3l1-.3l1-.8l1-.3l1 .3l1 .9l1 .2l1 0l1 .3l1-.3l1-.8l1 0l1 .4l1 .4l1 0l1-.3l1 .6l1-.2l1-.2l1-.1l1-.3l1-.7l1 .1l1 .4l1 .6l1 0l1 .2l1 .7l1-2.0l1 .3l1 1.3l1-.5l1-.8l1 .6l1 .3l1 .3l1-.1l1-.6l1-.4l1 0l1-.1l1-.2l1 .4l1 0l1-.5l1-.5l1 .9l1-.2l1 .1l1 .5l1-.3l1 .4l1-.5l1-.7l1 .4l1 .2l1 .2l1 0l1 .3l1 .2l1-.1l1 .1l1-.7l1 .2l1 .3l1 .2l1 .3l1-.5l1 0l1-.2l1-.2l1-.4l1 .3l1 .3l1 .8l1-.7l1 .2l1 .5l1-.4l1-.8l1 .2l1 .5l1-.7l1 .3l1 .3l1-1.0l1-.1l1 .2l1 .3l1 .3l1-.5l1 .2l1 .8l1 0l1-.7l1-.5l1 0l1 .6l1 .1l1 .2l1-.1l1-.3l1-.4l1 .3l1-.3l1 .6l1-.6l1-.1l1 .1l1 .8l1-.2l1 .1l1-.1l1-.7l1-.2l1-.1l1 .3l1 .6l1 .2l1-.2l1-.7l1 0l1 .8l1-.1l1-.2l1-.1l1 .3l1 .2l1-.6l1-.5l1-.3l1 .3l1-.3l1-.1l1 .7l1 .2l1-.3l1-.7l1 .1l1 .6l1 .9l1-.2l1-.2l1-.5l1-.2l1 .9l1-.3l1-.2l1 .1l1-.3l1-.2l1-.5l1 .2l1-.5l1-.1l.3 .6l.4-.3l.3 .1l.4 .2l.3 .1l.4 0l.3-3.7l.4-5.2l.3-4.8l.4-2.8l.3-.6l.4 .3l.3-.5l.4-.3l.3 .5l.4-.2l.3-.4l.4-.2l.3-.9l.4 .8l.3 .8l.4-.1l.3-.1l.4 .4l.3-.2l.4-.4l.3 .3l.4 .3l.3-.1l.4-.8l.3-.4l.4 1.6l.3-.5l.4-.9l.3 .5l.4 .5l.3-.3l.4 .7l.3 .4l.4 .3l.3-.5l.4 .4l.3 .7l.4-.2l.3-.5l.4 0l.8 .1l.8-.3l.8 .9l.8 .3l.8-.3l.8 .1l.8 .7l.8 .5l.8-.5l.8 .1l.8 .2l.8 .4l.8 .3l.8-.6l.8-.3l.8 1.1l.8 .8l.8-.4l.8 .4l.8-.1l.8-.3l.8 .3l.8-.1l.8 .1l.8 .1l.8-.1l.8 .7l.8 .9l.8 .1l.8 .2l.8 .1l.8 1.6l.8 .4l.8 .2l.8 .4l.8 .8l.8 1.7l.8 1.4l.8 .7l.8 1.0l.8-.4l.8-.3l.8 .9l.8 1.3l.8 .1l.8-.8l.8 .3l.8 .7l.8-.5l.8 .5l.8-.1l.8 .2l.8 .3l.8 .7l.8 .3l.8-.3l.8 .5l.8-.1l.8-.6l.8 .1l.8 .6l.8 0l.8 .1l.8 .6l.8-.1l.8-.4l.8 .9l.8 .2l.8-.1l.8-.2l.8-.6l.8 .3l.8-.1l.8 .4l.8 .7l.8-.4l.8 .4l1-.4l1 0l1 .4l1-.3l1-.6l1 .4l1-.1l1 .1l1 .2l1-.5l1-.4l1 .6l1 .1l1-.3l1-.1l1 .4l1 .1l1 0l1 .4l1-.3l1-.3l1-.5l1 .6l1 .6l1-1.1l1 .5l1 0l1-.2l1-.1l1-.2l1-.2l1 .9l1 .1l1 .1l1-.2l1-.1l1 0l1 0l1 .3l1-.4l1-.3l1-.4l1 .2l1 .5l1-.4l1 .2l1-.4l1-.4l1 .6l1 0l1 0l1 .4l1-.4l1-.5l1 .2l1-.2l1 .1l1 .5l1-1.1l1 .2l1 .4l1 .6l1 .1l1-1.1l1-.4l1 1.3l1-.5l1-.1l1 0l1 .1l1 0l1-.2l1 .5l1 .1l1-.6l1 0l1 .9l1 .3l1-.3l1-.5l1-.8l1 .5l1 .3l1 0l1 .4l1 .1l1-.5l1 0l1 .4l1-.6l1-.1l1 .5l1 0l1 .6l1 .2l1-.4l1-.5l1-.2l1 .1l1 .8l1-.5l1-.2l1-.1l1-.3l1-.3l1 .6l1 .2l1-1.0l1-.5l1 .6l1 .5l1 .1l1-.3l1 .1l1-.5l1-.2l1 1.0l1-.2l1-.4l1 0l1 .3l1-.4l1 .5l1 .4l1-.4l1 .4l1 .6l1 .3l1-.7l1-1.1l1-.3l1 .7l1 .8l1-.5l1 .1l1 .3l1 .3l1-.7l1-.5l1-.1l1 .4l1 .1l1 0l1 .1l1-.2l1-.3l1 0l1 0l1 .2l1 .2l1 .5l1-.6l1-.7l1 0l1-.3l1 .4l1 .4l1-.1l1 .5l1-.4l1-.3l1 .5l1 0l1-.3l1-.1l1-.2l1 .2l1-.7l1 .1l1-.1l1 .1l1-.3l1 .5l1 0l1-.4l1 .2l1-.5l1 .3l1 .3l1 .1l1 0l1-.8l1 .1l1 .8l1-.4l1 .8l1 0l.3-.2l.4-.5l.3-.4l.4 .2l.3 .1l.4-.5l.3-.8l.4-3.5l.3-5.6l.4-4.1l.3-1.3l.4-.2l.3-1.0l.4-1.3l.3 .4l.4 .4l.3 .4l.4-.9l.3-.5l.4 0l.3 0l.4 .2l.3 .8l.4-.2l.3 0l.4 0l.3-.5l.4 .7l.3-.3l.4 0l.3-.3l.4 0l.3 .2l.4 .6l.3 .1l.4 .2l.3 .2l.4-.6l.3-.5l.4 .3l.3 .6l.4 .7l.3 .2l.4 0l.3-.2l.4-.5l.3-.2l.8-.2l.8 .8l.8 .2l.8 .5l.8 .2l.8 .2l.8 .9l.8-.6l.8-.1l.8 .8l.8 0l.8 .8l.8-.2l.8-.7l.8 .5l.8 .8l.8 .2l.8 .2l.8 0l.8-.1l.8-.3l.8 .1l.8 .4l.8 .4l.8 0l.8-.5l.8 .5l.8 1.2l.8-.2l.8-.5l.8 .3l.8 1.2l.8 1.0l.8 .5l.8 .9l.8 1.8l.8 .7l.8 .9l.8 .6l.8 .5l.8 .7l.8 .1l.8 .5l.8 1.1l.8-.1l.8-.1l.8 0l.8 .6l.8 .2l.8 .1l.8 .3l.8-.1l.8-.5l.8 .3l.8 0l.8 .1l.8 .4l.8-.5l.8 .8l.8 .5l.8 .6l.8 .2l.8-.1l.8-.3l.8-.7l.8 .2l.8 .2l.8 .5l.8 .2l.8-.2l.8-.1l.8 .3l.8-.1l.8 .3l.8 .8l.8-.8l1-.3l1 .3l1 .2l1 .6l1 .2l1-.8l1 .7l1-.3l1-.6l1 .1l1 .5l1-.8l1 .2l1 .5l1-1.1l1 .4l1 .9l1-.3l1-.2l1 0l1-.9l1 .1l1 .7l1-.5l1-.2l1 1.2l1-.3l1 0l1-.1l1-.4l1-.3l1-.1l1-.6l1 .4l1 .8l1-.3l1-.2l1 .2l1 .3l1 .1l1-.5l1-.4l1-.2l1 .1l1-.2l1 .5l1 .1l1 .2l1-.2l1-.3l1 0l1 .3l1-.3l1 .4l1 .7l1 0l1-.5l1-.1l1 .1l1-.1l1-.4l1-.4l1 0l1 1.0l1 .5l1-.1l1-.5l1 .2l1 .1l1 0l1 .1l1-.6l1-.2l1 .5l1-.6l1 .2l1 0l1 .2l1-.5l1-.1l1 .1l1 .4l1-.5l1-.5l1 .1l1 .4l1 0l1 0l1 .5l1-.9l1 .1l1 .1l1 .1l1 0l1-.4l1 0l1 .2l1 0l1 .4l1-.1l1 .4l1-.3l1 .6l1-.1l1 .5l1-.5l1-.2l1-.4l1-1.4l1 .5l1 .4l1 .1l1 1.1l1 .4l1-1.8l1 .1l1 .6l1 0l1 .3l1-.1l1 .4l1 .4l1-.5l1-.1l1-.5l1-.2l1 .5l1 0l1-.3l1-.2l1 .1l1 .4l1-.3l1-.5l1 .6l1 .7l1 0l1-.5l1-.1l1 .2l1 .7l1-.4l1-.4l1 .2l1-.4l1-.4l1-.3l1 .1l1 .1l1 0l1 .1l1 .2l1 .1l1 .7l1-.7l1-.4l1 .6l1 0l1-.1l1 0l1 .5l1-.5l1 .3l1 0l1 .1l1 0l1 .4l1-.7l1-.1l1-.1l1-.1l1-.3l1-.1l1-.1l1 .2l1 .5l1 .2l1-.1l1-.3l1-.3l1 .2l1-.4l1 0l1 .8l1 0l1 0l1 .4l1-.3l1 0l1-.8l1-.6l1 .3l1 .9l1 .1l1-.6l1-.6l1 .3l1 .7l1-.1l1-.5l1 .6l1 .7l1-1.0l1-.7l1 .5l1 .5l1 .4l1-.7l1-.6l1 .3l1 .5l1-.3l1 .1l1-.6l1 .2l1 0l1-.3l1 .4l1 .3l1-.4l.4-.2l.3 .5l.4 .4l.3-.1l.4-.6l.3-.1l.4 .3l.3-.4l.4-3.8l.3-6.3l.4-4.9l.3-1.8l.4-.3l.3 .6l.4-1.0l.3-.9l.4 0l.3-.2l.4-.6l.3-.5l.4 .2l.3 .4l.4 .4l.3-.2l.4-.9l.3 .1l.4 .7l.3 1.0l.4-.1l.3-.5l.4 0l.3-.1l.4-.1l.3 1.0l.4 .2l.3-.2l.4-.1l.3 0l.4-.2l.3-.1l.4 .6l.3-.1l.4 .2l.3 .1l.4 .1l.3 .4l.4-.2l.8 0l.8 .8l.8 .6l.8-.2l.8 0l.8 .2l.8 .8l.8-.2l.8-.3l.8 1.0l.8 .6l.8-.6l.8-.7l.8-.3l.8 .9l.8 1.2l.8-.7l.8-.4l.8 .7l.8 .5l.8-.2l.8 0l.8 .5l.8 .5l.8-.2l.8-.3l.8 .1l.8 .3l.8 0l.8 .8l.8 1.1l.8 .2l.8 .7l.8 1.0l.8 .9l.8 1.8l.8 1.3l.8 .6l.8 .4l.8 .6l.8 .5l.8-.1l.8 .4l.8 .7l.8 1.0l.8 .6l.8-.6l.8 .1l.8 .1l.8-.2l.8 .1l.8 .6l.8 .3l.8-.4l.8 .4l.8-.1l.8 .5l.8-.1l.8-.5l.8 .1l.8 .7l.8 .6l.8-.3l.8 .1l.8-.2l.8 0l.8 .2l.8 0l.8 .3l.8-.1l.8 .8l.8-.4l.8-.1l.8 .6l.8-.1l.8 .1l.8-.6l1-.2l1 .4l1 .7l1-.9l1 .6l1 .7l1-.5l1 .3l1 .1l1-.1l1-.3l1-.3l1-.2l1 .4l1 .2l1-.1l1 .3l1 0l1-.3l1-.3l1 .2l1 .2l1 .5l1-.5l1-.4l1-.6l1 .5l1 .6l1-.2l1-.2l1-.5l1-.2l1 .1l1-.4l1 .5l1 .9l1-.8l1-.2l1 .6l1-.3l1-.5l1 .1l1-.1l1-.2l1 .3l1 0l1-.3l1 .2l1 .8l1 .1l1-1.0l1-.9l1 .4l1-.2l1 0l1 .2l1 1.0l1-.1l1-.2l1-.8l1 .9l1 0l1-.1l1-.4l1-.5l1-.6l1 .3l1-.3l1 .3l1-.1l1 .7l1 1.0l1-.4l1-.3l1-.1l1-.4l1-.1l1 .5l1-.3l1-.3l1 .9l1 .2l1-.6l1 0l1-.1l1 0l1-.5l1-.1l1 .8l1 .3l1-.3l1 0l1 .1l1 .2l1 .8l1-.7l1-.9l1-.2l1 .2l1-.1l1-.3l1 .1l1-.2l1 .2l1 .7l1-.2l1-.3l1 .4l1 .1l1 .1l1-.4l1-.7l1 0l1-.1l1 .8l1-.2l1-.4l1-.1l1-.2l1 .5l1 .5l1-.6l1-.1l1 .1l1 .4l1-.2l1-1.1l1 .3l1-.2l1 .2l1 .8l1 .3l1-.6l1 0l1-.5l1 .3l1 .1l1-.3l1 .5l1 .1l1-.5l1-.1l1 .6l1 .1l1 0l1 .1l1-.3l1-.3l1-.2l.7 .2"/>
<path stroke="#9b877c" d="M98.6 1529.6l1 .6l1-.3l1-.9l1-.5l1 0l1 .4l1-.2l1-.1l1 .1l1 .2l1-.5l1 .1l1 .7l1-.1l1 .3l1 .3l1-.7l1 .3l1 1.0l1 0l1-.6l1-1.1l1 0l1 .3l1-.4l1 .2l1 .6l1-.9l1-.1l1 .7l1 1.1l1-.8l1-.7l1-.1l1 .4l1 .6l1-.3l1-.1l1-.1l1 .8l1 .3l1-.7l1-.7l1-.2l1 .5l1 .1l1 .7l1-.4l1-.9l1-.2l1 .2l1 .9l1 .5l1-.6l1-.3l1 .4l1-.2l1-.3l1-.4l1 .4l1 .1l1-.4l1 .7l1 .2l1-.6l1-1.1l1 1.4l1-.2l.3-.4l.4-.3l.3 .2l.4 .4l.3 .2l.4-.8l.3-5.6l.4-4.6l.3-1.9l.4-1.3l.3-1.1l.4-1.4l.3-.3l.4-.2l.3 .3l.4 .2l.3-.8l.4 .2l.3-.8l.4-.1l.3-.1l.4-.5l.3 1.0l.4-.1l.3 .1l.4 .4l.3-.6l.4-.2l.3-.3l.4 .6l.3 0l.4-.1l.3 .3l.4 .3l.3-.2l.4 .4l.3-.2l.4-.7l.3 .9l.4 .3l.3-.4l.4 .1l.3 .4l.4 .5l.3-.1l.4-.5l.3 .2l.4 0l.8 .7l.8 .4l.8-.2l.8 0l.8-.4l.8 .5l.8-.1l.8 .9l.8 .6l.8 .3l.8 .4l.8 0l.8 0l.8 0l.8 .4l.8 .1l.8 .6l.8-.2l.8 .2l.8 .1l.8 .3l.8-.3l.8 .3l.8 .2l.8 .8l.8-.3l.8 .1l.8 .2l.8 .7l.8 .5l.8 .9l.8 1.6l.8 .4l.8 .9l.8 1.7l.8 1.2l.8-.7l.8 1.2l.8 .8l.8 .5l.8 .2l.8 .6l.8 .3l.8-.6l.8-.5l.8 .4l.8 .9l.8 .7l.8 .1l.8-.4l.8 .3l.8 .2l.8 .4l.8 0l.8 0l.8 .4l.8-.1l.8 .9l.8-.2l.8-.1l.8 0l.8 .2l.8-.6l.8-.2l.8 .5l.8-1.0l.8 .2l.8 1.1l.8 .2l.8-.2l.8-1.2l.8-1.0l.8 .3l.8 1.0l.8 1.2l.8-1.3l1 0l1 .3l1 .5l1-.2l1-.2l1 .2l1-.5l1 .2l1-.1l1-.7l1 0l1 0l1 .2l1 .1l1-.2l1 .1l1-.3l1 .2l1 .6l1-.2l1-.2l1-.4l1-.5l1 .2l1 1.2l1 1.0l1-.4l1-.9l1-.1l1 0l1 .1l1-.1l1-.2l1 .7l1 .5l1-1.1l1-.1l1 .3l1-.3l1 .1l1-.2l1-.1l1 .7l1-.7l1 .5l1 .2l1 0l1 .2l1 .4l1-.2l1-.5l1 .2l1 .5l1 0l1-1.0l1-.2l1-.3l1 .3l1 .2l1-.2l1 .3l1 .5l1-.4l1-.5l1-.3l1 .5l1 .2l1 .2l1-.5l1 .2l1 .1l1 .4l1-.3l1-.7l1 .4l1 1.1l1-.1l1-.6l1-.3l1-.1l1-.1l1 0l1 .3l1-.1l1-.8l1-.1l1 .7l1 0l1 .1l1 .6l1-.1l1-.7l1-.2l1 .6l1-.1l1-.9l1 1.0l1 .8l1-.3l1-.2l1-.6l1 .3l1 .4l1 .2l1-.7l1 .1l1 .5l1-.6l1 0l1-.2l1-.2l1 .4l1-.1l1 .1l1 .2l1-1.1l1 .6l1 .2l1 .1l1-.3l1-.1l1 .3l1 .3l1 0l1-.4l1 .2l1-.2l1-.1l1 .4l1 .1l1 0l1-.6l1-.3l1 .7l1-.2l1-.6l1 0l1 .7l1 .2l1 .1l1-.4l1-.4l1 .1l1 .2l1-.3l1 .1l1-.1l1 .5l1 .8l1-1.4l1 .1l1 .2l1 .8l1-.6l1-.2l1 .3l1 .1l1-.1l1 .3l1-.2l1 .1l1-.6l1-.4l1 .1l1-.2l1-.3l1 .2l1 .2l1 .8l1 .3l1-.8l1 0l1 0l1 .7l1 .1l1-.5l1-.1l1-.6l1 .6l1 .5l1-.1l1 .1l1 .5l1 .2l1-.8l1-.3l1 .1l1-.3l1 .2l1-.3l1 0l1-.3l1-.1l1 .3l1-.3l1-.1l1 .3l1 0l1 .4l1 .3l1 .2l1 .3l1-.6l1-.4l1 .1l1-.3l1-.2l1 .5l1-.3l1-.2l1 .3l1 .1l1-.4l1-.5l1 .8l1 .4l1 .3l1 .2l1-.6l1 .7l1-.4l1-.3l1 .6l1-.4l1 0l1-.4l1 .6l1 0l1-.2l1 .1l1-.4l1 .6l1-.8l1 .2l1-.4l1-.9l1 .9l1 .1l1-.3l1-.1l1 0l1 .7l1-.4l1 .3l1 .9l1-.1l1-1.1l1 .5l1 .6l1-.3l1-.9l1 .1l1 .5l1 .4l1-.3l1-.6l1 .6l1 .5l1 .1l1-.6l1-.5l1 .3l1-.1l1-.7l1 .1l1 .9l1 .4l1-.5l1-.2l1-.3l1 .1l1 .5l1 .1l1-.7l1-.7l1 .4l1-.3l1-.3l1 .8l1 .7l1-.8l1 .2l1 .5l1 .2l1-.6l1-.2l1-.3l1 .1l1 .7l1 0l1-1.3l1-.3l1 .9l1 .6l1-.3l1 .3l1-.3l1-.2l1 .4l1 0l.4-.4l.3-.7l.4 .7l.3 .7l.4 .8l.3-1.2l.4-5.6l.3-3.8l.4-1.5l.3-1.3l.4-1.2l.3-1.7l.4-.3l.3-.1l.4-.3l.3-.6l.4 .4l.3-.2l.4 .1l.3-.2l.4 .1l.3 .1l.4-.8l.3-.4l.4 .5l.3 0l.4 .1l.3-.3l.4-.5l.3 .4l.4 .5l.3 .6l.4 .5l.3 .3l.4-.1l.3 .6l.4 0l.3-.8l.4-.3l.3-.1l.4 .4l.3 .3l.4 .6l.3 .8l.4 .3l.3-.7l.8-.5l.8 .5l.8 .3l.8-.2l.8 .4l.8 .4l.8-.3l.8-.2l.8 .5l.8 .6l.8 .4l.8-.4l.8 .4l.8 .2l.8 .2l.8-.1l.8-.6l.8-.5l.8 .8l.8 .9l.8 .3l.8 .1l.8 0l.8 .2l.8 .3l.8 .5l.8-.6l.8 .3l.8 .6l.8 1.1l.8 1.3l.8 1.2l.8 .7l.8 .8l.8 1.0l.8 .6l.8 .3l.8-.2l.8 .5l.8 1.0l.8 .3l.8 .2l.8 .6l.8-.1l.8 .3l.8 0l.8 .1l.8 .7l.8-.8l.8-.1l.8 .8l.8 1.0l.8 .1l.8-.5l.8 .2l.8-.1l.8-.2l.8 .5l.8 .1l.8 0l.8 .6l.8 .1l.8-.4l.8 .7l.8-.2l.8-.2l.8 .6l.8-.1l.8-.1l.8-.3l.8-.4l.8 .1l.8-.3l.8-.5l.8 0l.8 .6l.8 0l1-.6l1 .8l1 .1l1-.3l1-.4l1 .3l1-.2l1-.5l1 .8l1 .5l1-1.3l1-.7l1 .5l1 .8l1-.2l1-.6l1-.2l1-.2l1 .3l1-.4l1 .3l1-.1l1 .5l1 .4l1-.2l1 0l1 0l1-.3l1-.4l1-.2l1 .9l1 .8l1-.1l1-1.5l1 .1l1 .9l1 .4l1-.9l1 .1l1 .1l1-.3l1 0l1-.2l1 0l1 1.0l1-.3l1-.3l1 .4l1-.2l1 .2l1-.4l1 .5l1-.2l1-.4l1 .5l1 .1l1-.5l1-.7l1-.1l1 .5l1 0l1-.7l1 .9l1 .6l1 .2l1-.7l1-.2l1 0l1-.4l1 .1l1-.5l1 .3l1 .5l1-.1l1-.3l1 .5l1 .1l1 0l1-.4l1 .1l1 .1l1-.3l1 .2l1 .1l1 .5l1-.5l1-.1l1-.7l1 .4l1 .4l1-.1l1-.3l1-.2l1 .4l1 .1l1-.1l1-.3l1 0l1 .9l1 .5l1-.2l1-.4l1-.2l1-.2l1 .1l1-.1l1-.5l1-.1l1 .4l1 0l1 .7l1-.3l1 .1l1-.1l1-.2l1 .1l1 .1l1 .2l1 .1l1 .2l1-.4l1-.2l1-.2l1 .5l1-.3l1-.2l1-.4l1-.5l1 .1l1 1.8l1-.1l1-1.1l1-.3l1-.1l1 .7l1 .3l1-.1l1-.4l1 .2l1-.3l1-.3l1 .7l1-.2l1 .2l1 .3l1 0l1-.1l1-.7l1-.5l1 1.0l1 .8l1-.8l1-.1l1-.2l1-.2l1 .3l1 .5l1-.1l1-.5l1-.4l1-1.0l1-.2l1 .1l1 1.0l1 1.0l1-.2l1-.6l1 .2l1 .2l1 0l1-1.1l1-.2l1 .5l1-.2l1-.3l1 .7l1 .9l1-.6l1-.5l1 .3l1-.5l1 .1l1 .1l1 .2l1 0l1 0l1-.4l.3 .3l.4 .1l.3-.4l.4 .5l.3-.3l.4-.7l.3-.8l.4-6.5l.3-2.5l.4-1.1l.3-1.6l.4-.8l.3-.3l.4 .4l.3 .2l.4-.8l.3-.3l.4-.1l.3-.1l.4-.1l.3-.4l.4 .2l.3-.1l.4-.3l.3 .4l.4 .2l.3-1.2l.4 .4l.3 1.0l.4 .1l.3-.3l.4-.1l.3-.2l.4 .4l.3 .2l.4 0l.3-.2l.4 0l.3-.3l.4 1.0l.3 .4l.4-.8l.3 0l.4-.2l.3 .8l.4 0l.8 .1l.8 0l.8 .2l.8 .8l.8 .3l.8 .4l.8-.1l.8-.2l.8 .5l.8-.7l.8 .8l.8 .6l.8 .1l.8-.7l.8 .2l.8 .3l.8 .7l.8-.9l.8 .6l.8 .5l.8-.4l.8 .4l.8 1.3l.8-.7l.8-.2l.8 .5l.8 0l.8-.3l.8 .6l.8 .9l.8 .9l.8 1.0l.8 .7l.8 .9l.8 1.0l.8 .5l.8 .8l.8 .6l.8 .3l.8 .5l.8 .8l.8 .7l.8 .8l.8-.5l.8-.2l.8 .3l.8 .2l.8 .1l.8-.4l.8-.4l.8 0l.8 .9l.8-.1l.8 .7l.8-.5l.8-.3l.8 .2l.8 .4l.8 .6l.8-.1l.8 .1l.8 .6l.8-1.1l.8 .5l.8 .4l.8 .3l.8 .3l.8-.8l.8-.7l.8 .7l.8-.6l.8-.2l.8 .3l.8-.3l.8 .1l.8 .1l.8-.4l1 .2l1-.5l1-.2l1 0l1 .9l1 .4l1-.4l1-.3l1-.1l1 .8l1-.6l1-.2l1 .2l1-.5l1 .1l1 1.0l1-.5l1-.5l1 .2l1-.5l1-.6l1-.1l1 1.3l1 .5l1-.9l1 .1l1-.2l1 .8l1-.1l1 0l1-.5l1-.3l1 .3l1 .4l1-.2l1-.2l1 .8l1-.2l1-.3l1-.2l1 0l1 .1l1 .1l1 1.1l1-1.1l1-.6l1 .5l1-.3l1-.4l1-.3l1 .4l1 .2l1-.4l1 .7l1 .7l1-.3l1-.6l1-.1l1 .6l1 0l1 .2l1-1.1l1 .2l1 .4l1 .1l1 .1l1-.2l1-.7l1 1.1l1 .3l1 .1l1-.4l1-.7l1-.9l1 .7l1 .1l1 .6l1-.4l1 .3l1 .1l1-.3l1 .1l1 .8l1-1.2l1-.3l1 .2l1 .9l1 0l1-.6l1-.3l1 .3l1 .6l1 .2l1-.7l1 .2l1 1.0l1-.1l1-.8l1-.3l1 .1l1-.2l1 .2l1 .2l1 0l1 0l1 .3l1-.1l1-.5l1-.4l1 .3l1 .9l1-.1l1-.1l1-.6l1 .7l1 .4l1-1.0l1 .3l1-.5l1-.1l1-.1l1 .1l1-.1l1-.2l1 .4l1-.2l1 .1l1 .9l1-.4l1-.7l1 .1l1-.3l1-.3l1 .6l1-.4l1-.1l1-.3l1 .7l1 .1l1 .2l1-.1l1 .1l1-.2l1-.6l1-.1l1 1.2l1-.2l1 .4l1-.2l1-.6l1-.2l1 .5l1 .1l1-.2l1 0l1 0l1-.5l1-.2l1 .4l1-.1l1 .2l1-.3l1-.5l1-.1l1 .2l1 .3l1 .3l1 .2l1-.4l1-.3l1-.1l1 .3l1-.3l1 .2l1 .5l1 .3l1 0l1-.1l1-.3l1 0l1 .3l1-.7l1-.5l1 .5l1 .1l1 .2l1-.3l.3-.2l.4 .4l.3-.2l.4-.6l.3-.3l.4 .3l.3 .6l.4-5.5l.3-3.9l.4-2.2l.3-1.0l.4-.5l.3-.6l.4-.7l.3 .2l.4-.2l.3-.9l.4-.2l.3 .4l.4 .2l.3-.5l.4-.9l.3-.2l.4 .8l.3 .6l.4-.2l.3-.6l.4 .5l.3 .1l.4-.6l.3 .1l.4 1.2l.3 0l.4 .2l.3 .5l.4-.7l.3-.6l.4 .3l.3 .7l.4-.3l.3 0l.4 .8l.3-.2l.4 0l.3 0l.4-.7l.3 .3l.8 .6l.8 .3l.8 .3l.8-.4l.8 0l.8 .6l.8 .1l.8-.3l.8 .8l.8 .7l.8-.5l.8 0l.8 1.3l.8 .3l.8-.6l.8 0l.8-.2l.8 0l.8-.1l.8 .7l.8 .8l.8-.1l.8-.1l.8-.4l.8 .7l.8 .4l.8 .4l.8 0l.8 .5l.8 .1l.8 1.2l.8 1.6l.8 .5l.8 .5l.8 1.4l.8 .6l.8 .2l.8 .6l.8 .4l.8 .8l.8 .4l.8-.8l.8 .2l.8-.3l.8 .7l.8 .4l.8 .7l.8 .3l.8 .3l.8 0l.8 0l.8-.8l.8-.3l.8 .1l.8 .6l.8 .5l.8 1.0l.8 .2l.8-.3l.8-.1l.8 .1l.8-.5l.8 .4l.8 0l.8 .6l.8-.4l.8-.4l.8-.1l.8 .5l.8 .3l.8-.1l.8-.6l.8-.1l.8-.2l.8 .2l.8-.2l1-.4l1 .2l1 .7l1-.2l1-.5l1 0l1 .2l1-.2l1 .2l1-.1l1-.7l1-.4l1 1.3l1 0l1-1.1l1 .3l1 .1l1 .6l1 1.0l1 .2l1-.8l1-.4l1-.3l1 .3l1 .2l1-.1l1-.5l1-.1l1 .5l1 .1l1-.5l1-.5l1-.8l1 .2l1 .8l1 .1l1-.5l1 .2l1 0l1 .2l1 .8l1-.2l1-.9l1 .7l1 0l1-.2l1 .3l1 0l1 .2l1-.4l1-.5l1 0l1 .4l1-.7l1 .9l1 1.0l1-.5l1-.6l1-.7l1-.4l1 .7l1 .2l1-1.4l1 .3l1 .6l1 .1l1-.2l1 .5l1-.3l1 0l1-.3l1 .5l1-.3l1-.5l1 .6l1 .8l1 .2l1-.2l1-.6l1 .5l1-.1l1 .1l1-.1l1-.7l1 .3l1-.2l1 .4l1 0l1 .1l1-.4l1-.1l1 .4l1 .1l1 .4l1-.2l1 .1l1-.7l1 .4l1 0l1 0l1-.3l1 .2l1 0l1-.4l1 .2l1-.2l1-.2l1 .6l1-.3l1-.5l1 .6l1 0l1 .1l1 .1l1-.1l1-.4l1 .1l1 .5l1-.4l1-.3l1-.4l1 .8l1 .2l1 .2l1 .3l1-.2l1 0l1 .4l1-.1l1-.3l1-.2l1 .1l1 .1l1-.8l1-.2l1 0l1-.1l1 .3l1 .6l1 .3l1-.3l1 0l1 .4l1 .3l1-.7l1-.3l1 0l1-.3l1-.5l1 1.0l1 .4l1-.9l1 .5l1 .8l1-.2l1-.4l1-.7l1 .2l1 0l1-.3l1-.3l1-.1l1-.2l1 .2l1 .4l1 0l1 0l1 .3l1 .1l1-.7l1 .3l1 0l1 .7l1-.3l1 0l1 .3l1 0l1-.9l1 .1l1 .2l1 .5l1-.6l1 .2l1 0l1 .4l1-.5l1-.2l1 .4l1-.5l1 .2l1 1.2l1 0l1-1.1l1 .1l1 .9l1-.6l1-.6l1 0l1 0l1-.1l1-.2l1 0l1 .4l1-.1l1 0l1 .5l1 .1l1-.7l1-.6l1 .9l1 .4l1-1.0l1 .2l1 .1l1 .3l1-1.1l1 .1l1 .4l1 .1l1 .4l.4 .2l.3-.8l.4 0l.3 1.1l.4-.5l.3-1.4l.4-.5l.3-.4l.4-6.2l.3-1.7l.4-1.5l.3-.5l.4-.9l.3-1.7l.4-.5l.3 0l.4-.2l.3-.1l.4 .3l.3-.1l.4-.4l.3-1.1l.4-.6l.3 .5l.4 .3l.3 .3l.4-.1l.3 0l.4 .5l.3-.1l.4-.1l.3 .2l.4 .1l.3 1.1l.4-.3l.3-1.2l.4-.2l.3 .7l.4 .2l.3-.2l.4-.1l.3 .5l.4 1.2l.3-.1l.4-.5l.3-.4l.4-.1l.8 .3l.8 .4l.8 0l.8 .6l.8 .4l.8-.4l.8 .1l.8 1.0l.8-.2l.8 .4l.8 .7l.8-.1l.8-.3l.8-.1l.8-.2l.8 .5l.8 .7l.8 .2l.8-.3l.8 .6l.8 .6l.8 0l.8 0l.8-.6l.8 .3l.8 1.2l.8 .5l.8-.2l.8 .3l.8 .9l.8 .4l.8 1.3l.8 1.7l.8 .6l.8 .2l.8 0l.8 .1l.8 1.4l.8 .6l.8 .3l.8-.4l.8 .7l.8 .9l.8 .3l.8-.7l.8-.3l.8 .7l.8 .6l.8 .4l.8 0l.8 .3l.8-.4l.8-.2l.8 .6l.8 .1l.8 .2l.8 .4l.8 0l.8-.1l.8 .4l.8 .2l.8-.6l.8-.5l.8 .5l.8 .2l.8-.4l.8-1.3l.8 0l.8 .5l.8 .3l.8-.1l.8-.1l.8 0l.8 0l.8-.2l.8 0l.8 .4l1 .2l1-.3l1-.3l1 .4l1 .7l1-.5l1-.5l1 .1l1-.3l1 .2l1 .9l1 .1l1-.7l1-.2l1 .6l1-.1l1-.1l1-.8l1-.1l1-.2l1-.6l1 0l1 1.2l1 .1l1-.1l1 .1l1 0l1 0l1-.1l1 .7l1-.4l1-.7l1-.1l1 .7l1 .3l1-.6l1-.2l1-.4l1 .3l1 1.2l1-.6l1 0l1 .5l1-.2l1-.2l1-.7l1 .9l1 0l1 .1l1-.6l1 0l1 .3l1-.1l1 0l1 .2l1-.2l1-.1l1 0l1-.3l1 .2l1 .4l1-.5l1-.2l1-.3l1-.2l1 .3l1 .9l1 0l1-.8l1 .4l1 .4l1 0l1-.2l1 .3l1-.3l1-.8l1 1.2l1-.1l1 0l1 .2l1-.5l1-.6l1 .6l1 .2l1-.6l1-.6l1-.8l1 1.0l1 .3l1-.6l1 .1l1 .1l1-.1l1 .4l1-.4l1 .2l1-.1l1 .2l1-.2l1 .3l1-.1l1-.5l1 .5l1 .1l1-.2l1 0l1 .4l1-.2l1 0l1-.3l1-.2l1 0l1 .3l1-.1l1 0l1 .2l1-.1l1-.9l1 .2l1 .5l1 .3l1-.4l1-.2l1 .3l1 .2l1 .6l1-.2l1 .3l1-.6l1-1.1l1 .6l1 .6l1 .2l1 .2l1-.7l1-.3l1 0l1 .2l1-.4l1-.2l1 .1l1 .1l1 .1l1 .7l1-.6l1-.3l1 .7l1 .1l1-.8l.7 .3"/>
<path stroke="#6d6253" d="M98.6 1564.3l1-.6l1 .2l1 .9l1-.2l1-.2l1-.1l1 .1l1 0l1 .7l1 0l1 0l1-.5l1-.2l1 1.0l1-.8l1-.3l1-.2l1 .2l1 0l1 .6l1 .4l1-.7l1-.1l1 .2l1 0l1 .4l1 0l1-.9l1 .6l1-.3l1-.3l1 .1l1 .8l1-.2l1 0l1-.1l1 .1l1 .2l1 .5l1 0l1-1.0l1-.3l1 .8l1 0l1 0l1 .2l1-1.3l1-.4l1 .9l1 .1l1-.5l1-.3l1 .3l1 .5l1 0l1 0l1 .1l1 .3l1-.4l1-.4l1-.1l1 .6l1-.7l1-.2l1 .9l1-.2l1 .3l1-.2l.3-.2l.4 .3l.3 .1l.4 .5l.3-1.1l.4-.3l.3 .1l.4 1.0l.3-.5l.4 0l.3-.2l.4-2.3l.3-3.1l.4-3.6l.3-3.0l.4-1.0l.3-.5l.4-.9l.3 0l.4 .3l.3 .1l.4-.5l.3-.1l.4-.3l.3 .8l.4 .7l.3-.2l.4-.4l.3-.7l.4 .2l.3 .9l.4 .5l.3 .9l.4-.4l.3-.3l.4 0l.3 .1l.4-.3l.3-.3l.4 .7l.3 .2l.4-.5l.3 .1l.4 .1l.3 .3l.4 .2l.3-.4l.4 .2l.3 0l.8 1.1l.8 .2l.8 0l.8-.1l.8 0l.8-.6l.8 .6l.8 .4l.8-.2l.8 .2l.8 1.0l.8 0l.8-.3l.8 .2l.8 .9l.8-.6l.8-.5l.8 .9l.8 .1l.8-.6l.8 .9l.8 .1l.8 .2l.8-.3l.9 .4l.8-.7l.8 0l.8 .6l.8 .2l.8 .1l.8 .7l.8 .5l.8 .6l.8 .7l.8 .7l.8 .9l.8 0l.8 1.0l.8 .7l.8 .3l.8-.1l.8-.2l.8 .2l.8 .9l.8 0l.8-.4l.8-.1l.8 .9l.8 .4l.8-.3l.8-.4l.8 .8l.8 0l.8-.6l.8 .8l.8 .4l.8-.5l.8-.1l.8 .7l.8-.6l.8 .5l.8 .4l.8-.6l.8-1.1l.8 .6l.8 .4l.8 .2l.8 .6l.8 0l.8 .4l.8-.7l.8-1.4l.8 .7l.8 1.0l.8-.6l.8 .7l1 .5l1 .3l1-.3l1-.5l1 .2l1 0l1-.1l1-.5l1 .7l1 .8l1-.7l1-.3l1 .4l1 .1l1-.9l1-.2l1 .8l1 0l1-.2l1-.2l1-.7l1 .4l1 .7l1 .4l1-.3l1 .1l1-.2l1-.6l1-.1l1 .6l1-.5l1-.3l1 0l1-.5l1 .2l1 .5l1 .8l1-.2l1 0l1 .2l1 .2l1 .3l1-.4l1-.2l1-.6l1 0l1 .3l1-.1l1 .1l1-.1l1 .3l1-.1l1-.3l1 .1l1 .2l1 .3l1 0l1-.5l1 .5l1-.3l1-.2l1 .4l1 .1l1-.4l1-.3l1-.1l1 .7l1 .1l1-.2l1-.1l1-.2l1-.6l1 .8l1 .7l1-.8l1-.3l1-.9l1 .7l1 .3l1 .1l1-.7l1 .1l1 .2l1 .5l1 .2l1-.3l1-.1l1 .3l1 .4l1-.3l1 .2l1-.3l1-.2l1-.1l1 .1l1-.4l1 .1l1 .3l1 .2l1 .4l1-.3l1 .4l1 .4l1-.7l1-.6l1 .3l1 .7l1-1.0l1 .2l1 .3l1 .5l1-.3l1-.4l1-.5l1-.1l1 .2l1 .2l1 .5l1-.3l1 .5l1-.2l1 .3l1-.3l1-.4l1 .3l1 .3l1-.1l1-.9l1 .6l1 .8l1-.1l1-.9l1 .5l1 .5l1 .1l1-.3l1-.6l1-.5l1-.1l1-.1l1 .9l1 .1l1 .2l1 .4l1-.5l1-.9l1-.3l1 .2l1 .5l1 0l1 0l1-.1l1 .1l1-.9l1 .5l1 1.5l1-.2l1-.2l1-.2l1-.2l1-.5l1 .1l1 .6l1-.5l1 .1l1-.9l1 .3l1 .3l1-.4l1 0l1 .7l1 .2l1-.4l1 .1l1-.4l1 .1l1 .5l1 .8l1-.5l1-.7l1 .1l1-.5l1 .4l1 .8l1-.1l1 0l1-.6l1-.8l1 .8l1 .6l1-.3l1 .2l1-.1l1-.6l1-.1l1 1.0l1-.4l1 0l1-.4l1 .1l1-.4l1 .4l1-.3l1-.1l1 .4l1 .6l1 .4l1-.4l1-.3l1-.6l1 .3l1 .6l1 .3l1 0l1-.4l1-.5l1 .5l1-.1l1-.9l1-.2l1 .4l1 .3l1-.1l1-.5l1-.2l1 .2l1 .9l1 1.0l1 .5l1-1.0l1-.7l1 .2l1 0l1-.4l1 0l1-.1l1 .5l1-.3l1 .4l1 0l1-.9l1 .1l1 .6l1 0l1-.3l1 .6l1 .3l1-.5l1-.2l1 .5l1-.6l1 0l1 .6l1-.3l1-.8l1 .8l1 .7l1-1.0l1-.3l1-.9l1 .6l1 .8l1 .6l1 .7l1-.6l1-.4l1 .4l1-.5l1 0l1 .3l1-.4l1-.3l1 .5l1-.3l1 0l1 0l1-.3l1 .2l1 .5l1 .4l1-.8l1-.1l1 .5l1-.4l1-.2l1 .1l1-.4l1 .1l1 .1l1-.2l1 .3l1 .4l1-1.0l1 .3l1 .4l1 .5l1-.1l1 .1l1 .2l1-.4l.3-.8l.4 0l.3 .6l.4 .3l.3-.4l.4-.1l.3 .3l.4-.1l.3-3.1l.4-3.7l.3-3.3l.4-1.7l.3-.5l.4-.3l.3-.1l.4 .5l.3-1.1l.4-.6l.3 .1l.4 0l.3 .2l.4 .9l.3-.2l.4-.9l.3 .1l.4-.2l.3-.7l.4 .7l.3 .6l.4 0l.3-.1l.4 .1l.3-.8l.4 .8l.3 1.0l.4-.7l.3 .3l.4 1.0l.3-.8l.4-.1l.3 1.0l.4 .4l.3 0l.4-.4l.3-.4l.4-.6l.8 .9l.8 1.1l.8 0l.8-.5l.8 .3l.8 .9l.8-.4l.8-.1l.8 .3l.8 0l.8-.5l.8-.2l.8 .9l.8-.2l.8-.2l.8 1.3l.8-.2l.8-.8l.8 .5l.8-.1l.8 0l.8 .1l.8 .3l.8 .5l.8 1.3l.8-.3l.8-1.0l.8 .9l.8 .1l.8 .1l.8 .7l.8 .8l.8 .2l.8 1.0l.8 .5l.8 .8l.7 .2l.8 0l.8-.9l.8 1.2l.8 .7l.8 0l.8 .9l.8 .4l.8-1.1l.8 0l.8 .8l.8 .3l.8 .7l.8-.2l.8-.2l.8-.7l.8 .4l.8 .3l.8 .4l.8 .2l.8-.7l.8-.4l.8 .2l.8 .9l.8-.3l.8 .4l.8-.2l.8 .1l.8-.1l.8 0l.8-.4l.8 .1l.8 1.0l.8-.3l.8-.8l.8 .2l.8 .3l.8 .1l.8 .5l.8 .3l.8-.3l1-1.1l1-.3l1 1.0l1 .4l1 0l1-.3l1-.3l1 .1l1 .3l1 .5l1-.2l1-.1l1 0l1 .5l1 .1l1-.8l1-.3l1 .3l1 .3l1 .2l1-.3l1 .2l1 .9l1 .3l1 0l1-1.2l1-.3l1 0l1-.2l1-.6l1 0l1 .6l1 .1l1-.1l1 0l1-.4l1 .2l1 .5l1 0l1 .3l1 1.4l1-.3l1-1.1l1-1.0l1-.4l1 .5l1 .6l1-.2l1 .5l1-.1l1-.3l1-.1l1-.2l1-.6l1 .4l1 .6l1-.3l1-.3l1 .2l1 .7l1 0l1-.3l1 .6l1-.2l1 0l1-.2l1-.2l1-.3l1-.2l1 0l1 .1l1 0l1 .2l1-.4l1 .2l1 .1l1 1.1l1-.6l1-.2l1 .4l1-.5l1-.3l1 .5l1 .4l1 .1l1-.1l1-.3l1 .1l1-.4l1 .4l1 .4l1 .2l1-.7l1 .5l1-.2l1-.5l1 .2l1 .3l1-.6l1 .4l1 .4l1-1.2l1-.3l1 .1l1 .4l1-.3l1 1.2l1 .1l1-.1l1-.5l1-.4l1-.3l1 .4l1 .2l1-.2l1-.8l1 .3l1 .5l1 0l1 0l1-.1l1-.4l1 .4l1 .1l1 .6l1-.2l1 .1l1-.3l1-.1l1-.3l1-.2l1-.1l1 .5l1 .5l1-.3l1-.5l1 .1l1-.1l1-.4l1 .2l1 .5l1 1.0l1-.7l1-.1l1-.5l1-.1l1 .2l1-.2l1-.6l1 .2l1 .7l1-.2l1 .4l1-.4l1-.1l1-.4l1 0l1-.1l1 1.3l1 .5l1-.7l1-.7l1 .3l1-.4l1-.2l1 .7l1-.1l1-.4l1 .7l1-.1l1-.5l1 0l1-.1l1 .5l1 .6l1 .1l1-.6l1-.6l1 .3l1 .6l1-.4l1 0l1 .1l1-.1l1-.5l1-.2l.4 .1l.3 .2l.4 .1l.3 .3l.4-.5l.3-.6l.4 .3l.3 .4l.4 .1l.3-1.6l.4-3.4l.3-3.6l.4-2.9l.3-.4l.4-.7l.3-.3l.4-.7l.3-.4l.4 .4l.3 .1l.4 .2l.3-.4l.4-.8l.3 .5l.4 .1l.3 0l.4 0l.3-.1l.4 .4l.3-.9l.4 .5l.3 0l.4-.3l.3 .1l.4 .4l.3 0l.4 .5l.3 .3l.4-.3l.3-.3l.4 .9l.3 .4l.4-.1l.3 .4l.4 0l.3-.2l.4 .7l.3 .1l.4 .1l.8 .1l.8 .4l.8-.1l.8-.5l.8-.3l.8 .3l.8 0l.8 .3l.8 .9l.8 .6l.8-.1l.8-.1l.8-.4l.8 .3l.8-.5l.8-.2l.8 .4l.8 .3l.8 .5l.8 .3l.8 .1l.8 .1l.8-.4l.8 .1l.8 .9l.8 .7l.8-.1l.8 0l.8 .7l.8 .3l.8 .4l.8 .5l.8 .7l.8 1.0l.8 .5l.8 .1l.8 0l.8 1.0l.8-.1l.8 0l.8-.8l.8 1.2l.8 .9l.8-.3l.8-.4l.8 0l.8 .9l.8 .6l.8 0l.8-.2l.8 .6l.8 .1l.8 0l.8-.1l.8 .2l.8-.3l.8-.2l.8-.6l.8-.3l.8 .7l.8 .1l.8-.2l.8 .1l.8 .3l.8 .3l.8-.1l.8 .4l.8 .7l.8-1.2l.8 .3l.8 .7l.8-.6l.8 0l.8-.3l.8 .1l.8 .4l.8 .3l1-.1l1-.5l1 .1l1 .2l1 .1l1-.4l1 0l1 .1l1 .7l1-.1l1-1.4l1 .5l1 .6l1-.4l1-.4l1 1.1l1 .3l1-.5l1-.4l1 .1l1-.1l1 .2l1 .5l1 .2l1-.2l1-.6l1 0l1 .2l1-.6l1 0l1 .5l1-.2l1 .2l1 0l1 .4l1 .1l1-.3l1-.1l1 .5l1 .2l1-.3l1-.3l1 .3l1-.6l1-.1l1 .3l1 .3l1-.7l1 .1l1 .9l1 .5l1-1.0l1-.6l1 .1l1 .7l1 0l1 .3l1-.8l1-.1l1 .2l1-.1l1 .1l1 .4l1-.6l1-.4l1 .4l1 .6l1 0l1 .1l1-.2l1-.1l1 0l1-.1l1-.4l1-.4l1 1.3l1 .5l1-.5l1-.2l1-.4l1 .3l1 .3l1-.5l1 .7l1-.2l1-1.0l1 .5l1 .6l1-.4l1-.1l1-.5l1 .6l1 .4l1-.1l1-.7l1 .2l1 .3l1-.3l1 .3l1 .4l1-.6l1-.5l1 .2l1 0l1 .1l1 .5l1-.4l1-.5l1-.2l1 .7l1 .5l1-.1l1-.3l1-.4l1 .4l1-.1l1 .6l1 .1l1-.8l1-.4l1 .7l1 0l1-.3l1-.4l1 .1l1 .4l1 .1l1 0l1-.9l1 .7l1 .8l1-.4l1-.7l1 .4l1-.3l1-.2l1-.1l1-.1l1 .4l1 .3l1-.3l1-.1l1 .1l1-.2l1 .1l1 .2l1 .5l1 .2l1 .7l1-.7l1 0l1-.4l1-.5l1-.4l1 .6l1-.1l1 0l1 .4l1-.1l1-.8l1 .5l1 .2l1-.4l1 .1l1 .3l1 .1l1-.5l1 .1l1 .6l1-.4l1-.3l1 .9l1-.1l1-.4l1 0l1 .3l1-.6l1 .1l1 .5l1-.3l1-.1l1 .4l1 0l1-.4l1-.3l1 .2l1 .1l.3 .3l.4-.1l.3 .8l.4 .6l.3-.3l.4-1.1l.3-1.1l.4-3.0l.3-4.0l.4-3.7l.3-2.2l.4 .1l.3-.2l.4-.1l.3 .5l.4 .7l.3-.5l.4 .4l.3-.9l.4-.4l.3 .5l.4 .3l.3 .4l.4-.4l.3-.1l.4-.3l.3-.3l.4 .8l.3 .8l.4-.2l.3-.5l.4-.2l.3 .3l.4 1.0l.3-.4l.4-.5l.3-.3l.4 .2l.3 .5l.4 .6l.3-.3l.4-1.0l.3 .8l.4 1.2l.3 .4l.4 .3l.8 0l.8-.3l.8-.2l.8 .3l.8 .2l.8 0l.8 0l.8 .1l.8 .2l.8 .2l.8-.1l.8-.2l.8 .2l.8 .3l.8-.4l.8 .2l.8 .8l.8 .4l.8-.8l.8-.6l.8 .7l.8 .9l.8-.1l.8 .2l.8-.8l.8 .1l.8 .9l.8 1.0l.8 .7l.8-.4l.8 .9l.8 1.1l.8 .5l.8 .2l.8 .3l.8 .4l.8 .9l.8 .5l.8 .1l.8 .6l.8-.3l.8-.1l.8 .7l.8 .4l.8-.3l.8 0l.8 0l.8 .2l.8-.4l.8 .2l.8 1.1l.8-.3l.8-.7l.8 .1l.8 .2l.8 .5l.8-.4l.8-.3l.8 .1l.8-.4l.8 .4l.8-.1l.8 .4l.8 1.0l.8 .4l.8-.1l.8-.5l.8-1.1l.8 .4l.8 1.0l.8 .1l.8-.5l.8-.1l.8 .4l.8-.5l.8-.1l.8-.3l1-.1l1 1.0l1 .7l1-.3l1-.4l1 .2l1-.8l1-.8l1 1.0l1 .5l1-.6l1 .3l1 .4l1 .4l1 .2l1-.9l1-.2l1 .6l1 .4l1-.3l1-.4l1 .2l1 .7l1 0l1-.3l1-.1l1 .3l1-.1l1-.3l1-.3l1 0l1-.1l1-.6l1 0l1 .3l1 .8l1 .6l1-.2l1-.7l1-.3l1 1.0l1 0l1 0l1-.3l1 .1l1 .1l1-.5l1-.2l1-.6l1 .9l1 .3l1-.2l1 .6l1 .7l1-.9l1-.6l1-.4l1 .2l1 0l1 .5l1-.3l1 .1l1 .1l1 0l1-.1l1-.1l1-.2l1 .3l1 0l1-.3l1 .2l1 .7l1-.3l1 .4l1-.3l1-.7l1 .1l1-.1l1 .1l1 .4l1 .4l1-.5l1 .1l1-.5l1 .2l1 .2l1-.4l1-.7l1 .2l1 0l1 .6l1 0l1-.1l1 .6l1 0l1-.1l1 .8l1-.6l1-.1l1-.6l1-.4l1 .9l1-.2l1-.9l1 .5l1 .3l1 .3l1-.1l1 .1l1 .2l1-.7l1-.2l1 .1l1 .2l1-.1l1-.2l1-.2l1 0l1 .4l1-.2l1 .3l1 .5l1 0l1-.2l1-1.0l1 .1l1 .4l1 .2l1 0l1-.2l1 .4l1-.1l1-.5l1 .2l1 0l1 .8l1-.5l1 0l1 .1l1-.7l1-.4l1 .6l1 .9l1-.3l1-.8l1 .2l1 1.0l1 .1l1-1.1l1 0l1-.1l1-.4l1 .8l1 .4l1-.3l1-.4l1 .2l1 .2l1-.3l1-.1l1 .2l1 .7l1 .2l1-.3l1-.4l1 .1l1-.2l1-.2l1 .5l1-.4l1-.1l1-.4l1 .3l1 .5l1-.6l1-.7l1-.3l1 .5l1 .4l1 .1l1-.3l1 .2l1 0l1 .4l1-.1l1-.4l1 0l1 .3l1 .1l1-.1l1 .3l1-.5l1-.1l1 .3l1-.1l1 .6l1-.3l1 .1l1 .4l1-.6l1 .4l1-.1l1 .1l1 .5l1 .1l1-.4l1-.3l1-.4l1-.5l1 .1l1 .8l1-.2l1-.5l1 .2l1 .3l1-.1l1 .2l1 .4l1-.1l.3-.8l.4 0l.3 .3l.4 .2l.3-.2l.4-.8l.3 .2l.4 1.0l.3 .2l.4-3.0l.3-4.8l.4-4.0l.3-1.2l.4 .4l.3-.7l.4-.8l.3-.3l.4-.8l.3 0l.4 .2l.3-.3l.4 0l.3 1.0l.4-.1l.3-.4l.4 1.3l.3 .1l.4-.8l.3-.4l.4-.3l.3 .9l.4 0l.3 .3l.4 0l.3-.3l.4-.3l.3-.2l.4 .7l.3 .2l.4-.5l.3-.6l.4 .6l.3 1.0l.4 .7l.3 .3l.4-1.0l.3 0l.4 .5l.3-.2l.8 0l.8 1.0l.8 .2l.8-.5l.8 .2l.8 .8l.8-.5l.8-.5l.8 .3l.8-.4l.8 .7l.8 .3l.8 0l.8 .3l.8 .6l.8-.6l.8 0l.8 .4l.8 .2l.8 .2l.8 .2l.8-.2l.8-.1l.8 .6l.8 .8l.8 .3l.8 .1l.8 .1l.8 1.3l.8 .5l.8-.3l.8 .2l.8 1.0l.8 1.5l.8 .1l.8-.7l.8 1.5l.8 .7l.8-.4l.8 .3l.8 .1l.8 .4l.8 .2l.8-.6l.8-.3l.8 1.1l.8 0l.8-.6l.8 1.1l.8 .1l.8-.7l.8 .3l.8 0l.8 .4l.8 .5l.8-.1l.8-.2l.8-.1l.8 .5l.8 .2l.8 .4l.8-.1l.8-.7l.8-.2l.8-.3l.8 .7l.8-.4l.8 .1l.8-.3l.8 .2l.8-.3l.8 .7l.8 .3l.8-.2l.8 .6l.8-.2l1-.8l1 .2l1 .7l1-.5l1 .7l1-.2l1-.9l1 0l1 .7l1 .1l1 0l1 .5l1-.2l1-.9l1-.3l1 .1l1 .1l1 .2l1 .2l1-.6l1 1.1l1 .1l1-.5l1 .4l1-.1l1-.2l1 .5l1-.4l1-.1l1 .1l1-.2l1 .8l1 0l1-.8l1 .5l1 .4l1-.4l1 .4l1 .1l1-.3l1 .2l1 0l1-.7l1 0l1 .6l1-.5l1 .3l1-.2l1 0l1-.2l1-.2l1 .4l1 0l1-.4l1 .1l1-.1l1 0l1-.5l1 .3l1 1.1l1-.1l1-.5l1 0l1-.1l1 .2l1 .5l1-.5l1-.7l1-.6l1 .3l1 1.3l1 0l1 0l1-.3l1-.6l1-.1l1-.1l1-.8l1 .1l1 .5l1 .1l1 .3l1 .7l1 .7l1-.4l1-1.1l1-.2l1 .6l1-.1l1 .1l1 .1l1-.2l1-.7l1 .3l1-.2l1 .7l1-.2l1-.2l1 .6l1 .2l1-.2l1 0l1-.6l1 .4l1 .2l1-.2l1 .4l1 .3l1 .1l1-.9l1-.6l1 .3l1 .5l1 .1l1-.3l1-.5l1 .5l1 .6l1-.2l1-.6l1 .2l1-.2l1 .1l1-.3l1 0l1 0l1 0l1 0l1 .6l1-.1l1 .1l1-.1l1-.4l1-.6l1 0l1 .3l1 0l1 .5l1-.3l1-.2l1 .3l1 .3l1 .1l1 .8l1-.2l1-.8l1-.5l1-.2l1 .8l1 .4"/>
<path stroke="#594a43" d="M98.6 1599.8l1-.2l1 .1l1-.1l1 .3l1 .3l1-.2l1 .3l1 0l1-.8l1-.1l1 0l1-.5l1 1.0l1 0l1 .2l1-.1l1-.6l1 .9l1-.3l1-1.2l1 .6l1 1.4l1-.1l1-.2l1-.3l1 0l1-1.0l1 .3l1 1.2l1-.1l1-.5l1 0l1-.6l1-.2l1 .8l1-.2l1 .1l1 .3l1 .1l1 0l1-.6l1-.1l1 .6l1 .1l1-1.1l1-.4l1 .5l1 .5l1 0l1-.4l1 .6l1 .2l1-1.2l1 .6l1 .2l1-.1l1 .4l1-.1l1-.7l1 .4l1 .4l1-.2l1 .1l1 .3l1 .2l1-.2l1 .1l1 .1l.3-.2l.4 0l.3-.8l.4 .2l.3 .2l.4-.1l.3-.3l.4 .2l.3-.4l.4-.2l.3-.1l.4-.4l.3-3.0l.4-4.4l.3-3.9l.4-2.3l.3-.7l.4 .3l.3-.9l.4-1.2l.3 .5l.4 .2l.3 .3l.4-.4l.3-.5l.4-1.0l.3-.4l.4 .5l.3 .2l.4-.4l.3-1.2l.4 .1l.3 .1l.4 .8l.3 .3l.4-.1l.3-.6l.4-.8l.3 .8l.4 .3l.3-.2l.4 .2l.3 .1l.4 .1l.3-.6l.4-.1l.3 1.3l.4 .7l.3-1.5l.8-.1l.8 .7l.8 .2l.8 .5l.8 0l.8 .1l.8-.4l.8 .1l.8 .4l.8-.3l.8-.3l.8 1.3l.8 .6l.8-1.1l.8-.2l.8 1.1l.8 0l.8 .1l.8 0l.8 .1l.8-.2l.8 .5l.8-.5l.8 .5l.9 0l.8-.5l.8 .6l.8 .2l.8 .7l.8 .3l.8-.3l.8 1.1l.8 .3l.8 1.4l.8 .9l.8-.3l.8 .3l.8 1.7l.8 .9l.8-.2l.8 .4l.8 .9l.8 .6l.8-.4l.8 .2l.8 .2l.8 0l.8 .5l.8 .7l.8 .5l.8 .7l.8-.2l.8-.6l.8 .1l.8-.3l.8-.5l.8 1.4l.8 .5l.8 0l.8 .5l.8-.6l.8-.5l.8 .3l.8 .8l.8 .7l.8-.3l.8-.8l.8 .2l.8-.5l.8 .3l.8-.2l.8 .8l.8 .7l.8 .3l.8-.5l.8 .1l1-.1l1-.3l1-.6l1 .2l1 1.3l1-.6l1 0l1 .2l1 0l1 .5l1 .4l1 0l1 .7l1 .6l1-1.0l1-.1l1-.1l1-.3l1 .3l1-.6l1-.2l1 .9l1 .4l1-.8l1 .6l1 .1l1-.7l1-.5l1-.5l1 1.0l1 1.0l1 .6l1 .3l1-.7l1-.4l1 .6l1-.2l1-1.2l1 .7l1 .4l1 .9l1-.2l1-.1l1-.5l1-.2l1-.4l1 1.0l1 1.2l1-.4l1-.7l1 0l1 .8l1 0l1-.3l1 0l1 .2l1-.8l1 .1l1 .3l1 .2l1 .7l1 0l1-.6l1 .3l1-.4l1-.3l1 0l1 .2l1 .4l1-.2l1-.6l1-.2l1 1.0l1 .4l1-.5l1 .4l1 .3l1-.4l1 .2l1-.4l1-.3l1-.3l1 .1l1 .6l1 .8l1-.8l1-.1l1 0l1-.2l1-.1l1 0l1-.3l1-.1l1 .5l1 .8l1-.4l1-.2l1 .6l1-.2l1-.3l1-.1l1 .4l1-.5l1-.6l1-.5l1 .5l1 .7l1-.2l1-.1l1 .4l1-.2l1-.3l1 .3l1 .1l1-.2l1 .7l1 .7l1-.6l1 .1l1-.3l1-.4l1 .4l1 .4l1 .3l1 .1l1-.2l1-.8l1-.1l1 .3l1-.7l1 .7l1 .3l1-.4l1-.9l1-.1l1 .1l1 .9l1-.3l1 .1l1 .5l1 0l1-.7l1 0l1 .4l1 .4l1 .2l1 .1l1-.9l1-.6l1 .2l1 .6l1 .2l1 0l1-.8l1-.5l1 .3l1 .5l1 .6l1-.3l1 .2l1-.1l1-.2l1-.2l1-.2l1 .8l1 .5l1-.6l1-.8l1 0l1 0l1 .4l1-.1l1 .4l1 .3l1-1.0l1-.7l1 1.3l1 .1l1 .3l1 .7l1-1.1l1-.3l1-.1l1 .6l1 .5l1-.7l1 0l1-.3l1 0l1 .6l1-.5l1-.2l1 .6l1 .3l1-.3l1-.9l1-.1l1 1.1l1 .4l1-1.0l1 .2l1 .1l1 .3l1 .4l1-.6l1 0l1 0l1-.2l1 .4l1 .1l1-.2l1 .1l1-.6l1-.1l1 0l1 .4l1 .2l1 .3l1 .2l1-.2l1-.1l1 .1l1 0l1-1.0l1 .5l1-.1l1-.6l1 .1l1 0l1 .5l1 .3l1-.3l1-.6l1 .1l1 .2l1-.2l1-.4l1-.1l1 .7l1 .5l1-.3l1-.2l1-.5l1 .4l1 .7l1-.4l1 .8l1-1.0l1-.7l1 .6l1 .4l1 .3l1 0l1-.4l1 .2l1 .2l1 .3l1 .3l1-.4l1-.5l1 .1l1-.1l1-.6l1 .5l1-.2l1-.1l1 .7l1-.1l1-.9l1 0l1-.2l1-.3l1 1.0l1-.2l1-.6l1 .9l1 .4l1-.8l1-.1l1 .4l1 .3l1-.6l1 .4l1 .3l1-.5l1-.3l1-.3l1 0l1 0l1-.1l1 .8l1 .9l1-.6l1-.9l1 0l1-.3l1 0l1 .8l1-1.2l1 .2l.3 .3l.4 0l.3 .5l.4-.6l.3-.2l.4 .5l.3-.4l.4-1.1l.3-1.3l.4-1.9l.3-2.0l.4-2.9l.3-1.3l.4-1.7l.3-.7l.4 .6l.3-.2l.4-1.3l.3 .1l.4-.2l.3 .2l.4-.3l.3 .3l.4-.3l.3-.2l.4 .8l.3-.2l.4-1.0l.3-.4l.4 .1l.3 0l.4 .4l.3 .5l.4-.7l.3 .6l.4 .3l.3-.4l.4 .5l.3 .5l.4 .3l.3-1.0l.4-.1l.3-.3l.4-.1l.3 .9l.4 .3l.8-.9l.8-.3l.8-.1l.8 1.0l.8 .6l.8-.3l.8 .1l.8-.1l.8-.2l.8 .4l.8 1.0l.8 .2l.8-.7l.8-.6l.8-.2l.8 1.1l.8 .2l.8-.6l.8 .3l.8 .2l.8 .4l.8 .4l.8-.4l.8 .4l.8 .4l.8-.1l.8-.2l.8 .3l.8 .4l.8 1.0l.8 .4l.8-.6l.8 .6l.8 .4l.8 .2l.8 .9l.7 1.9l.8 0l.8-.3l.8 .6l.8 .3l.8 .6l.8-.3l.8-.3l.8 1.1l.8 .2l.8-.6l.8 .9l.8 .4l.8-.1l.8 .2l.8 .8l.8-.6l.8-1.0l.8 .8l.8 .5l.8 .2l.8 .2l.8-.4l.8-.3l.8-.1l.8 .9l.8 .4l.8-.4l.8-.4l.8 .1l.8 .1l.8-.3l.8 .1l.8-.5l.8 .6l.8 1.1l.8 .1l.8-.3l.8 .1l.8-.2l.8-.7l1 .6l1 .9l1-.4l1-.1l1-.3l1 .1l1 .2l1-.1l1 .4l1 .7l1-.3l1 1.3l1-.9l1-1.8l1 .8l1 1.2l1-.6l1-.6l1 .5l1 .2l1-.5l1-.4l1 .8l1 .2l1 .6l1 0l1-.6l1-.5l1 .5l1 .5l1 .7l1-1.0l1-.3l1 0l1 .2l1 .2l1 .9l1 .2l1-.8l1-.1l1-.3l1-.9l1 .8l1-.2l1-.1l1 .4l1-.6l1 .4l1 .4l1 .4l1 .2l1-.6l1 .2l1 .2l1-.2l1-.3l1-.8l1-.7l1 .9l1 .8l1-.4l1 .7l1 .9l1-.4l1-.5l1-.1l1-.1l1 .4l1-.3l1-.5l1-.9l1 .4l1 .3l1 0l1-.1l1 1.1l1 .4l1-.3l1 .1l1-.5l1-.6l1-.2l1 .7l1 .2l1 .1l1-.4l1-.5l1 0l1 .6l1 .3l1-.1l1-.1l1 .5l1-.4l1-.5l1-.1l1 .1l1 .3l1 .1l1 0l1-.2l1 .5l1 .2l1 .1l1-.3l1-.6l1 0l1 0l1 .5l1 0l1-.2l1-.3l1-.3l1 .9l1 1.1l1-1.0l1-.7l1 .4l1-.2l1 0l1-.1l1 .1l1 .3l1-.7l1 .3l1 .7l1 .3l1-.2l1 .5l1-.2l1-1.9l1-.1l1 .6l1-.1l1 .8l1-.1l1-.4l1 .4l1 .5l1-.1l1-.7l1 .6l1-.6l1-.1l1 .5l1-.2l1-.5l1 .1l1 .1l1 .8l1 .5l1-.8l1 .4l1-.5l1-.3l1 1.1l1-.4l1-.4l1-.1l1 .5l1-.4l1 0l1 .4l1 .4l1-.2l1-.4l1-.3l1-.1l1 .8l1 .3l1-.3l1-.1l1-.4l1-.2l1-.2l1 1.1l1 .2l1-1.4l1-.3l1 .8l1 .2l1-.6l1 .3l1 0l1-.3l1 .1l.4 .1l.3 .1l.4 .6l.3-.4l.4-.8l.3 .5l.4-.6l.3-.2l.4 .9l.3-.7l.4-1.7l.3-2.5l.4-2.7l.3-1.3l.4-1.4l.3 .5l.4-.7l.3-.6l.4-.4l.3-.4l.4-.4l.3 0l.4 0l.3 .1l.4-.3l.3 .2l.4-.4l.3 .1l.4 .5l.3-.2l.4 .2l.3-.5l.4-.8l.3-.1l.4-.1l.3-.1l.4 1.0l.3 .8l.4-.2l.3-1.0l.4 .1l.3 0l.4-.7l.3 0l.4 .9l.3 .5l.4-.4l.3-.1l.4 1.0l.8 0l.8-.3l.8-.3l.8 .4l.8 1.5l.8 .4l.8-.8l.8-1.1l.8-.4l.8 .6l.8 .1l.8 .4l.8 .3l.8-.5l.8 .2l.8 .1l.8-.3l.8-.6l.8 .3l.8 .4l.8 .3l.8 .7l.8 .3l.8-.1l.8 .8l.8 0l.8-.2l.8-.3l.8 .3l.8 .4l.8-.1l.8 .6l.8 .2l.8 .9l.8 1.3l.8 .1l.8 .2l.8 .4l.8-.2l.8 .7l.8 .3l.8 .2l.8 .4l.8 .3l.8-.1l.8-.8l.8 .6l.8 .7l.8-.1l.8 .7l.8-.3l.8 .1l.8 1.6l.8-.4l.8-.4l.8-.6l.8 .1l.8-.3l.8 .5l.8 .4l.8 .4l.8-.1l.8 .3l.8 .3l.8 .4l.8-.5l.8-.6l.8 .1l.8-.6l.8 .4l.8 .6l.8 0l.8-.4l.8-.3l.8 .1l.8-.3l.8 1.0l1 .1l1-.7l1 .3l1 .2l1 0l1 .5l1-.5l1-1.1l1 .2l1 1.5l1-.3l1-.7l1 .2l1 1.3l1-.4l1-1.1l1 .2l1 .4l1 .4l1-.2l1 .2l1-.2l1-.4l1 .6l1 .1l1-.4l1-.3l1 .1l1-.3l1 .3l1 .5l1-.1l1 .2l1 .1l1 .9l1 0l1-.4l1-.5l1-.3l1 .3l1 .1l1-.5l1 .8l1 0l1-.4l1 .6l1 .3l1-.4l1 .2l1 0l1-.4l1 0l1 .6l1 .2l1-.6l1-.2l1 .5l1-.4l1-.1l1 .4l1 .2l1-.5l1-.7l1 .5l1 .7l1 .2l1-.1l1-.5l1 0l1 .3l1-.2l1 .3l1-.4l1 .5l1-.6l1 .1l1-.2l1-.1l1 .8l1 .1l1 .1l1 .5l1-.1l1-.3l1-.1l1 0l1-.3l1-.2l1 .1l1-.8l1 0l1 .6l1 .2l1 .1l1-.3l1 .1l1 .2l1 .6l1-.6l1 .1l1 .1l1 .3l1-.5l1-.5l1-.3l1-.4l1 0l1 .8l1-.6l1 0l1 .4l1-.1l1 .3l1-.2l1-.4l1 .9l1 .1l1-.5l1-.5l1 .6l1 .4l1 .5l1 .2l1-.1l1-.7l1 .7l1 .1l1-.9l1-.1l1 0l1 .2l1 .2l1 .2l1-.5l1-.4l1 .6l1 0l1 .2l1 0l1-1.0l1-.1l1 .6l1 .3l1 0l1-.3l1 .6l1-.2l1-.3l1 1.1l1-.5l1 0l1 .1l1-.6l1-.4l1 .2l1-.2l1 .3l1 .2l1-.1l1 .5l1 .1l1 .2l1 .3l1 .1l1-.6l1-.3l1 .4l1-.2l1-.8l1 .6l1 .2l1 .3l1 .8l1-.2l1-1.3l1 .4l1 .1l1-.6l1 .4l1 .4l1-.1l1-.2l1-.7l1 .3l1 .1l1 .4l1-1.0l.3 0l.4-.1l.3 .2l.4 1.2l.3-.1l.4-.7l.3-.7l.4-1.4l.3-2.1l.4-1.9l.3-1.9l.4-1.2l.3-.7l.4-.7l.3-.6l.4 .6l.3 .1l.4 .1l.3 0l.4-1.3l.3-1.0l.4 .9l.3 .7l.4-.2l.3-.2l.4-.4l.3 .1l.4 .2l.3 .6l.4-.9l.3-1.2l.4 .1l.3 .6l.4 .6l.3 .7l.4-.2l.3-.7l.4 .2l.3-.1l.4-.3l.3 1.2l.4-.5l.3 .2l.4-.2l.3-.7l.4 1.2l.8 .4l.8-.2l.8 .6l.8-.3l.8 .1l.8-.1l.8-.9l.8 .8l.8 .2l.8-.4l.8-.3l.8 .9l.8-.1l.8-.5l.8 .4l.8 .7l.8-.2l.8-.7l.8 .4l.8 .8l.8-1.1l.8 .3l.8 .7l.8 .1l.8-.6l.8 .8l.8 .1l.8 .3l.8 1.2l.8 .3l.8-.1l.8-.1l.8-.3l.8 .4l.8 .9l.8 1.0l.8-.5l.8 .4l.8-.1l.8 .2l.8 .1l.8 .8l.8 1.3l.8 .1l.8 .1l.8-.3l.8 0l.8 .4l.8 .2l.8-.4l.8 .5l.8 .3l.8 .4l.8-.2l.8-.3l.8-.1l.8-.1l.8 .3l.8-.1l.8 .5l.8 .3l.8 0l.8 .3l.8-.4l.8-.4l.8-.4l.8 .4l.8 .8l.8 .4l.8-.9l.8 .3l.8 0l.8 .5l.8 .5l.8-.6l.8 .1l.8-.9l1 .2l1 .3l1-.4l1-.1l1 .6l1 1.3l1-.5l1-.4l1-.1l1-.6l1 .6l1 .2l1 0l1-.1l1 0l1 0l1-.2l1-.1l1-.3l1 .3l1-.1l1 .1l1-.1l1 .8l1 .2l1-.7l1-.2l1 1.1l1 .2l1 0l1 0l1-.2l1-.1l1 .3l1-.5l1 .9l1-.4l1-.5l1-.4l1 .4l1 0l1 .4l1 .8l1-.1l1-.7l1-.3l1 .1l1 .5l1-.7l1-.3l1-.7l1 .3l1 .9l1 .1l1 0l1 .3l1 .3l1-.5l1 1.0l1-.7l1 0l1 .4l1 .3l1-.9l1-.3l1 0l1 .5l1-.1l1-1.1l1-.4l1 .8l1 .6l1-.7l1-.3l1 .5l1 .2l1 .5l1-.1l1-.3l1-.3l1 .1l1 .5l1 .4l1 .2l1-.2l1-.3l1-.8l1 .4l1 0l1 .1l1 .8l1-.4l1-.4l1 .6l1-.5l1-.3l1 .5l1 0l1-.3l1 .9l1 .4l1-.5l1-.5l1 .6l1 .1l1-.3l1 0l1-.6l1-.1l1 .2l1-.2l1-.4l1-.2l1 .8l1-.5l1 .5l1 .5l1-.4l1 .6l1 .6l1-.4l1 0l1 0l1-.2l1-.4l1 .2l1-.6l1-.4l1 1.2l1 0l1-.4l1-.2l1-.3l1-1.1l1 .6l1 .9l1-.4l1-.1l1 0l1-.4l1 .1l1 1.1l1 .5l1-.6l1-.3l1-.3l1 .5l1 .7l1-.5l1-.1l1-.2l1 .4l1-.1l1-.2l1-.2l1-.6l1 .1l1 .8l1 .3l1-.4l1-.4l1 .5l1 .5l1-.4l1-.8l1 .2l1 .3l1 .2l1-.1l1-.6l1-.1l1-.2l1 .3l1 .5l1-.2l1 0l1-.2l1 0l1-.3l1 .6l1 .1l1 .2l1-.3l1-.2l1 .8l1 .3l1-.4l1-.2l1-.1l1-.3l1 0l1 .4l1-.2l1-.3l1 .2l1 1.2l1-.4l1-.4l1 .5l1-.6l1-.2l1-.5l1 .6l1 .2l1-.9l1-.1l1-.3l1 .4l1 0l1 .3l1 .2l1 .1l1-.6l1 .5l1-.1l1 .3l1-.2l1 .6l1 .2l.3-.1l.4-.5l.3 0l.4-.6l.3 .5l.4 .4l.3 0l.4-.1l.3-.8l.4-.7l.3-2.3l.4-2.8l.3-1.8l.4-1.7l.3-.4l.4-.7l.3-.1l.4 .5l.3-.1l.4-.7l.3 .1l.4-.3l.3 .4l.4 .1l.3-.2l.4-.4l.3 .3l.4-.2l.3-.5l.4 .2l.3 .2l.4 .3l.3-.5l.4 .3l.3 .4l.4-.5l.3-.4l.4-.3l.3 .1l.4 1.2l.3 .8l.4-.7l.3-.5l.4-.1l.3-.6l.4 .3l.3 .8l.4 .1l.3 0l.8-.3l.8 .7l.8-.3l.8 0l.8 .1l.8 .5l.8-.1l.8-.4l.8-.3l.8 .1l.8 .7l.8 .7l.8-.7l.8 .2l.8-.3l.8 .9l.8-.6l.8 .1l.8-.4l.8 .1l.8 .1l.8-.3l.8-.1l.8 .4l.8 .5l.8 .1l.8 .8l.8-.2l.8-.2l.8 1.5l.8 .3l.8-.2l.8-.4l.8 .5l.8 .4l.8 .7l.8 1.0l.8 .8l.8 .6l.8-.3l.8-.1l.8 .4l.8 .7l.8 .2l.8-1.0l.8-.3l.8 .3l.8 1.0l.8 .8l.8-.2l.8-.1l.8-.3l.8 .2l.8 0l.8 .2l.8 0l.8 .3l.8 .3l.8-.6l.8 .2l.8-.1l.8-.2l.8 .9l.8 .4l.8-.3l.8-.2l.8 .1l.8 .4l.8 .2l.8-.5l.8 .2l.8-.2l.8-.4l.8 .4l.8 0l.8 .2l1-.3l1-.2l1 0l1 .4l1 .4l1 0l1-.2l1-.4l1 0l1 .7l1-.2l1-.3l1 .1l1 .9l1-.4l1-.1l1 .3l1-.3l1 .3l1 .2l1-.2l1 .1l1-.2l1-.1l1 .5l1 .3l1-.1l1-.4l1 .2l1-.6l1-.3l1 0l1 .6l1 0l1-.3l1 .2l1 .3l1 .6l1-.3l1-.6l1-.5l1 .4l1 1.2l1-.3l1 .1l1 0l1-.1l1-.5l1-.5l1 .1l1 .5l1-.8l1 .2l1 .7l1-.1l1 .2l1 0l1 .2l1-.3l1-.4l1 .6l1-.2l1 .2l1 0l1-.4l1-.8l1 .8l1 1.2l1-.3l1-.6l1 .6l1 .1l1-.4l1-.3l1 .1l1 0l1 .5l1-.3l1-.2l1-.1l1 .9l1-.2l1-.4l1 .6l1-1.0l1-.9l1 .3l1 .7l1 .1l1-.2l1 0l1-.3l1 .2l1 .1l1-.2l1-.4l1 .1l1 .1l1-.2l1 .5l1 .9l1 .1l1-.7l1 .1l1 .6l1-.2l1-.5l1 .1l1 .9l1-.6l1-1.2l1-.1l1 .8l1 .2l1 .2l1-1.1l1-.1l1 .5l1 0l1 .8l1 .2l1-.4l1-1.6l1 .3l1 1.0l1-.3l1 .5l1-.1l1 .8l1-.6l1-.2l1 .5l1-.2l1 .2l1 .9l1-1.3l1-.6l1 .8l1-.1l1-.5l1 0l1 .5l1 .5l1-.4l1-1.0l1 .3l1 .3l1 .2l1-.5l1 .1"/>
</g>
<g font-family='"Liberation Sans", Arial, Helvetica, sans-serif' font-size="30.3" text-anchor="end">
<text x="72.6" y="739" fill="#41a4d1">1</text>
<text x="72.6" y="936.4" fill="#2271b5">2</text>
<text x="72.6" y="1044.9" fill="#353e9d">3</text>
<text x="72.6" y="1138" fill="#27276b">4</text>
<text x="72.6" y="1236.2" fill="#5e2a96">5</text>
<text x="72.6" y="1309" fill="#95218d">6</text>
<text x="72.6" y="1366.8" fill="#901c60">7</text>
<text x="72.6" y="1419.5" fill="#d8135b">8</text>
<text x="72.6" y="1464.8" fill="#ea2b7f">9</text>
<text x="72.6" y="1500" fill="#c7b899">10</text>
<text x="72.6" y="1533" fill="#9b877c">11</text>
<text x="72.6" y="1571.2" fill="#6d6253">12</text>
<text x="72.6" y="1606" fill="#594a43">13</text>
</g>
</svg>
</body>
</html>
